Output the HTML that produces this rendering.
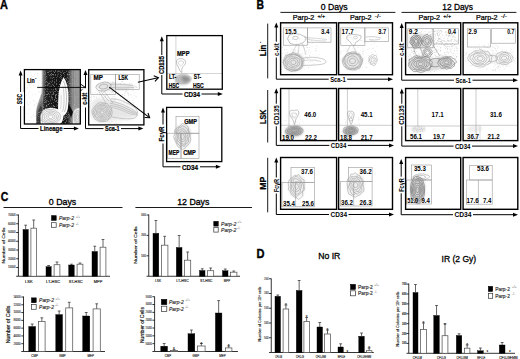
<!DOCTYPE html><html><head><meta charset="utf-8"><style>html,body{margin:0;padding:0;background:#fff;}svg{display:block;}</style></head><body>
<svg width="520" height="359" viewBox="0 0 520 359" font-family='"Liberation Sans", sans-serif'>
<defs><filter id="b1" x="-20%" y="-20%" width="140%" height="140%"><feGaussianBlur stdDeviation="1.2"/></filter><filter id="b2" x="-20%" y="-20%" width="140%" height="140%"><feGaussianBlur stdDeviation="2.2"/></filter><filter id="b05" x="-20%" y="-20%" width="140%" height="140%"><feGaussianBlur stdDeviation="0.5"/></filter></defs>
<rect width="520" height="359" fill="#fff"/>
<text x="0.00" y="8.60" font-size="12.3" font-weight="bold" stroke="#000" stroke-width="0.37" textLength="7.90" lengthAdjust="spacingAndGlyphs" >A</text>
<clipPath id="cA1"><rect x="24.4" y="69.6" width="55.9" height="54.400000000000006"/></clipPath>
<linearGradient id="gA1" gradientUnits="userSpaceOnUse" x1="36" y1="0" x2="80.5" y2="0"><stop offset="0" stop-color="#333"/><stop offset="0.157" stop-color="#3a3a3a"/><stop offset="0.225" stop-color="#222"/><stop offset="0.45" stop-color="#151515"/><stop offset="0.61" stop-color="#181818"/><stop offset="0.70" stop-color="#1a1a1a"/><stop offset="0.753" stop-color="#383838"/><stop offset="0.79" stop-color="#858585"/><stop offset="0.876" stop-color="#a0a0a0"/><stop offset="1" stop-color="#a8a8a8"/></linearGradient>
<filter id="spk" x="0" y="0" width="100%" height="100%"><feTurbulence type="fractalNoise" baseFrequency="1.1" numOctaves="1" seed="4" result="n"/><feColorMatrix in="n" type="matrix" values="0 0 0 0 0.6  0 0 0 0 0.6  0 0 0 0 0.6  0 0 0 1.5 -0.78" result="w"/><feComposite in="w" in2="SourceGraphic" operator="in" result="wc"/><feMerge><feMergeNode in="SourceGraphic"/><feMergeNode in="wc"/></feMerge></filter>
<g clip-path="url(#cA1)">
<rect x="33.2" y="100.1" width="0.6" height="0.6" fill="#c8c8c8"/>
<rect x="40.8" y="95.2" width="0.6" height="0.6" fill="#c8c8c8"/>
<rect x="34.1" y="101.5" width="0.6" height="0.6" fill="#c8c8c8"/>
<rect x="29.0" y="97.6" width="0.6" height="0.6" fill="#c8c8c8"/>
<rect x="36.1" y="112.2" width="0.6" height="0.6" fill="#c8c8c8"/>
<rect x="27.5" y="86.8" width="0.6" height="0.6" fill="#c8c8c8"/>
<rect x="27.5" y="113.1" width="0.6" height="0.6" fill="#c8c8c8"/>
<rect x="37.1" y="73.2" width="0.6" height="0.6" fill="#c8c8c8"/>
<rect x="41.7" y="121.2" width="0.6" height="0.6" fill="#c8c8c8"/>
<rect x="36.5" y="103.0" width="0.6" height="0.6" fill="#c8c8c8"/>
<rect x="28.5" y="71.8" width="0.6" height="0.6" fill="#c8c8c8"/>
<rect x="34.5" y="74.1" width="0.6" height="0.6" fill="#c8c8c8"/>
<rect x="29.0" y="83.6" width="0.6" height="0.6" fill="#c8c8c8"/>
<rect x="26.5" y="95.1" width="0.6" height="0.6" fill="#c8c8c8"/>
<rect x="33.0" y="114.8" width="0.6" height="0.6" fill="#c8c8c8"/>
<rect x="34.3" y="104.3" width="0.6" height="0.6" fill="#c8c8c8"/>
<rect x="34.0" y="105.4" width="0.6" height="0.6" fill="#c8c8c8"/>
<rect x="33.3" y="85.5" width="0.6" height="0.6" fill="#c8c8c8"/>
<rect x="42.0" y="122.8" width="0.6" height="0.6" fill="#c8c8c8"/>
<rect x="39.4" y="107.8" width="0.6" height="0.6" fill="#c8c8c8"/>
<rect x="31.0" y="82.9" width="0.6" height="0.6" fill="#c8c8c8"/>
<rect x="30.6" y="74.7" width="0.6" height="0.6" fill="#c8c8c8"/>
<rect x="38.3" y="91.8" width="0.6" height="0.6" fill="#c8c8c8"/>
<rect x="39.5" y="91.1" width="0.6" height="0.6" fill="#c8c8c8"/>
<rect x="41.3" y="115.1" width="0.6" height="0.6" fill="#c8c8c8"/>
<rect x="26.0" y="81.9" width="0.6" height="0.6" fill="#c8c8c8"/>
<rect x="40.6" y="95.4" width="0.6" height="0.6" fill="#c8c8c8"/>
<rect x="41.7" y="91.7" width="0.6" height="0.6" fill="#c8c8c8"/>
<rect x="27.2" y="103.7" width="0.6" height="0.6" fill="#c8c8c8"/>
<rect x="38.5" y="85.0" width="0.6" height="0.6" fill="#c8c8c8"/>
<rect x="27.4" y="88.3" width="0.6" height="0.6" fill="#c8c8c8"/>
<rect x="41.4" y="110.4" width="0.6" height="0.6" fill="#c8c8c8"/>
<rect x="27.9" y="83.8" width="0.6" height="0.6" fill="#c8c8c8"/>
<rect x="27.6" y="74.1" width="0.6" height="0.6" fill="#c8c8c8"/>
<rect x="38.8" y="80.2" width="0.6" height="0.6" fill="#c8c8c8"/>
<rect x="34.9" y="94.3" width="0.6" height="0.6" fill="#c8c8c8"/>
<rect x="29.1" y="109.1" width="0.6" height="0.6" fill="#c8c8c8"/>
<rect x="28.1" y="104.5" width="0.6" height="0.6" fill="#c8c8c8"/>
<rect x="27.9" y="92.9" width="0.6" height="0.6" fill="#c8c8c8"/>
<rect x="29.4" y="85.0" width="0.6" height="0.6" fill="#c8c8c8"/>
<rect x="41.5" y="112.8" width="0.6" height="0.6" fill="#c8c8c8"/>
<rect x="30.9" y="117.0" width="0.6" height="0.6" fill="#c8c8c8"/>
<rect x="29.4" y="91.5" width="0.6" height="0.6" fill="#c8c8c8"/>
<rect x="39.7" y="104.4" width="0.6" height="0.6" fill="#c8c8c8"/>
<rect x="27.6" y="122.4" width="0.6" height="0.6" fill="#c8c8c8"/>
<rect x="29.4" y="84.4" width="0.6" height="0.6" fill="#c8c8c8"/>
<rect x="38.4" y="88.1" width="0.6" height="0.6" fill="#c8c8c8"/>
<rect x="30.7" y="74.8" width="0.6" height="0.6" fill="#c8c8c8"/>
<rect x="27.4" y="101.3" width="0.6" height="0.6" fill="#c8c8c8"/>
<rect x="29.9" y="102.3" width="0.6" height="0.6" fill="#c8c8c8"/>
<rect x="31.9" y="94.6" width="0.6" height="0.6" fill="#c8c8c8"/>
<rect x="41.3" y="96.2" width="0.6" height="0.6" fill="#c8c8c8"/>
<rect x="35.2" y="116.1" width="0.6" height="0.6" fill="#c8c8c8"/>
<rect x="28.9" y="79.0" width="0.6" height="0.6" fill="#c8c8c8"/>
<rect x="40.5" y="113.5" width="0.6" height="0.6" fill="#c8c8c8"/>
<rect x="30.0" y="80.9" width="0.6" height="0.6" fill="#c8c8c8"/>
<rect x="37.8" y="119.9" width="0.6" height="0.6" fill="#c8c8c8"/>
<rect x="29.1" y="120.4" width="0.6" height="0.6" fill="#c8c8c8"/>
<rect x="40.1" y="102.4" width="0.6" height="0.6" fill="#c8c8c8"/>
<rect x="32.7" y="76.4" width="0.6" height="0.6" fill="#c8c8c8"/>
<g filter="url(#spk)"><path d="M43.5,69 L81,69 L81,125 L36,125 L36,116 C36.5,110 39,105 42,100 C43,94 43,85 43.5,69 Z" fill="url(#gA1)" filter="url(#b1)"/></g>
<path d="M42.4,69 L46,69 C46,85 45,95 43,101 C41,104 39,108 38,112 L36.5,112 C37,104 40,98 42.4,92 Z" fill="#666" opacity="0.6" filter="url(#b05)"/>
<path d="M71.2,70 L71.4,108 M73.6,70 L73.2,106 M75.8,70 L76.2,107 M78.2,70 L78,108" fill="none" stroke="#6a6a6a" stroke-width="0.5" opacity="0.8"/>
<path d="M67,100 C66,106 64,110 61,113 L60,118 C62,117 65,114 67.5,110 C69,112 70,115 71,118 L73,112 C71,108 69,104 67,100 Z" fill="#111" filter="url(#b05)"/>
<path d="M63.6,77.5 C65.6,79.5 67.4,85 68.2,91 C68.8,97 68.6,104 67.8,109 C67,112.5 65.4,115 63,116 L58,112 C58.2,106 58,100 58.6,94 C59.2,87 61.4,80.5 63.6,77.5 Z" fill="#fafafa" filter="url(#b05)"/>
<path d="M63.4,81 C65,84 66.2,90 66.5,97 C66.7,103 66,108 64.5,112" fill="none" stroke="#8a8a8a" stroke-width="0.5"/>
<path d="M62.8,86 C63.8,90 64.2,96 64,103 C63.8,107 63.2,110 62,112" fill="none" stroke="#9a9a9a" stroke-width="0.45"/>
<path d="M61,95 C61.3,100 61.2,105 60.5,109" fill="none" stroke="#aaa" stroke-width="0.4"/>
<path d="M40.5,118 C40,113 43,109 49,108 C54,107.5 58,108.5 61,111 C63.5,113 64,116 63,119 C62.5,122 61,124 58,125 L41,125 C40.5,123 40.6,120 40.5,118 Z" fill="#fafafa" filter="url(#b05)"/>
<path d="M60.19,116.80 L60.21,118.67 L59.03,120.34 L57.66,121.95 L55.58,123.13 L52.95,123.39 L50.50,123.58 L47.81,124.04 L45.64,122.86 L43.65,121.73 L41.32,120.61 L40.88,118.66 L40.10,116.80 L40.87,114.94 L41.70,113.14 L43.73,111.92 L45.42,110.46 L47.80,109.54 L50.50,109.58 L53.16,109.64 L55.60,110.44 L57.20,111.98 L59.43,113.09 L60.26,114.92 Z" fill="none" stroke="#8a8a8a" stroke-width="0.45" stroke-linejoin="round"/>
<path d="M58.42,116.80 L57.90,118.23 L57.83,119.85 L56.22,120.92 L54.66,121.99 L52.70,122.70 L50.50,122.79 L48.29,122.73 L46.49,121.80 L44.56,121.08 L43.52,119.70 L42.25,118.39 L42.02,116.80 L43.04,115.36 L43.78,114.01 L44.96,112.81 L46.22,111.46 L48.42,111.20 L50.50,110.87 L52.55,111.29 L54.56,111.74 L56.16,112.73 L57.40,113.93 L58.42,115.27 Z" fill="none" stroke="#8a8a8a" stroke-width="0.45" stroke-linejoin="round"/>
<path d="M56.79,116.80 L56.81,118.02 L56.01,119.09 L55.13,120.13 L53.75,120.85 L52.21,121.39 L50.50,121.38 L48.95,120.96 L47.25,120.85 L45.85,120.15 L44.85,119.15 L44.44,117.97 L44.11,116.80 L44.69,115.68 L44.89,114.47 L46.06,113.60 L47.47,113.02 L48.97,112.70 L50.50,112.13 L52.21,112.22 L53.46,113.11 L55.06,113.52 L55.83,114.58 L56.26,115.69 Z" fill="none" stroke="#8a8a8a" stroke-width="0.45" stroke-linejoin="round"/>
<path d="M54.73,116.80 L54.83,117.63 L54.43,118.43 L53.40,118.89 L52.70,119.54 L51.56,119.65 L50.50,120.01 L49.40,119.76 L48.23,119.63 L47.25,119.14 L46.74,118.36 L46.06,117.66 L46.26,116.80 L46.52,116.03 L46.70,115.22 L47.60,114.71 L48.41,114.19 L49.39,113.82 L50.50,113.63 L51.58,113.91 L52.55,114.24 L53.70,114.49 L54.17,115.27 L54.92,115.95 Z" fill="none" stroke="#8a8a8a" stroke-width="0.45" stroke-linejoin="round"/>
<path d="M53.07,116.80 L52.83,117.25 L52.61,117.68 L52.24,118.05 L51.75,118.36 L51.14,118.53 L50.50,118.58 L49.86,118.53 L49.21,118.41 L48.76,118.05 L48.39,117.68 L48.07,117.27 L48.12,116.80 L48.19,116.35 L48.25,115.87 L48.76,115.55 L49.27,115.26 L49.90,115.19 L50.50,115.05 L51.14,115.08 L51.66,115.36 L52.26,115.53 L52.66,115.90 L52.74,116.37 Z" fill="none" stroke="#8a8a8a" stroke-width="0.45" stroke-linejoin="round"/>
<path d="M73.5,112 C74.5,108.5 78,107.5 80.5,108 L80.5,125 L73,125 C72.6,121 72.8,115 73.5,112 Z" fill="#e8e8e8" filter="url(#b05)"/>
<ellipse cx="77.50" cy="117.00" rx="3.60" ry="6.40" fill="none" stroke="#888" stroke-width="0.4" />
<ellipse cx="77.50" cy="117.00" rx="2.51" ry="4.46" fill="none" stroke="#888" stroke-width="0.4" />
<ellipse cx="77.50" cy="117.00" rx="1.42" ry="2.52" fill="none" stroke="#888" stroke-width="0.4" />
</g>
<line x1="42.40" y1="69.60" x2="42.40" y2="124.00" stroke="#aaa" stroke-width="0.5" />
<rect x="24.40" y="69.60" width="55.90" height="54.40" fill="none" stroke="#000" stroke-width="1.3" />
<text x="26.90" y="82.70" font-size="7.0" font-weight="bold" stroke="#000" stroke-width="0.21" textLength="7.80" lengthAdjust="spacingAndGlyphs" >Lin</text>
<text x="34.90" y="79.80" font-size="4.5" font-weight="bold" >-</text>
<line x1="37.20" y1="87.40" x2="85.00" y2="87.40" stroke="#000" stroke-width="0.9" />
<path d="M80.2,83.8 L85.3,87.4 L80.2,91.0" fill="none" stroke="#000" stroke-width="0.9"/>
<line x1="20.60" y1="128.50" x2="20.60" y2="75.10" stroke="#000" stroke-width="1.0" />
<path d="M18.60,75.60 L20.60,70.60 L22.60,75.60 Z" fill="#000"/>
<line x1="20.60" y1="128.50" x2="74.40" y2="128.50" stroke="#000" stroke-width="1.0" />
<path d="M73.90,126.50 L78.90,128.50 L73.90,130.50 Z" fill="#000"/>
<rect x="17.00" y="92.00" width="7.00" height="14.00" fill="#fff"/>
<text x="22.40" y="99.00" font-size="6.4" font-weight="bold" stroke="#000" stroke-width="0.19" text-anchor="middle" textLength="10.50" lengthAdjust="spacingAndGlyphs" transform="rotate(-90 22.40 99.00)" >SSC</text>
<rect x="38.50" y="125.50" width="25.00" height="7.00" fill="#fff"/>
<text x="40.00" y="131.00" font-size="6.4" font-weight="bold" stroke="#000" stroke-width="0.19" textLength="22.50" lengthAdjust="spacingAndGlyphs" >Lineage</text>
<clipPath id="cA2"><rect x="88.7" y="69.7" width="55.2" height="55.2"/></clipPath>
<g clip-path="url(#cA2)">
<path d="M91.4,95.7h0.55v0.55h-0.55zM125.6,111.1h0.55v0.55h-0.55zM111.5,113.7h0.55v0.55h-0.55zM110.6,118.3h0.55v0.55h-0.55zM118.5,87.9h0.55v0.55h-0.55zM116.3,102.0h0.55v0.55h-0.55zM114.8,91.0h0.55v0.55h-0.55zM122.8,89.9h0.55v0.55h-0.55zM103.0,92.1h0.55v0.55h-0.55zM101.3,89.6h0.55v0.55h-0.55zM125.7,110.0h0.55v0.55h-0.55zM89.5,106.2h0.55v0.55h-0.55zM91.9,109.0h0.55v0.55h-0.55zM108.4,104.6h0.55v0.55h-0.55zM126.1,114.7h0.55v0.55h-0.55zM122.1,94.3h0.55v0.55h-0.55zM92.7,106.5h0.55v0.55h-0.55zM114.7,119.5h0.55v0.55h-0.55zM132.1,89.9h0.55v0.55h-0.55zM108.6,111.8h0.55v0.55h-0.55zM108.9,122.6h0.55v0.55h-0.55zM88.7,99.4h0.55v0.55h-0.55zM113.3,92.6h0.55v0.55h-0.55zM117.6,95.4h0.55v0.55h-0.55zM122.8,96.4h0.55v0.55h-0.55zM97.6,106.7h0.55v0.55h-0.55zM126.6,102.6h0.55v0.55h-0.55zM117.6,106.0h0.55v0.55h-0.55zM114.2,82.3h0.55v0.55h-0.55zM106.6,118.7h0.55v0.55h-0.55zM113.6,114.9h0.55v0.55h-0.55zM124.4,102.5h0.55v0.55h-0.55zM112.7,101.4h0.55v0.55h-0.55zM131.5,96.9h0.55v0.55h-0.55zM127.4,99.3h0.55v0.55h-0.55zM96.1,116.3h0.55v0.55h-0.55zM93.6,96.1h0.55v0.55h-0.55zM132.3,100.2h0.55v0.55h-0.55zM136.2,96.3h0.55v0.55h-0.55zM103.3,110.8h0.55v0.55h-0.55zM90.5,107.2h0.55v0.55h-0.55zM95.7,89.8h0.55v0.55h-0.55zM125.8,92.0h0.55v0.55h-0.55zM118.0,109.0h0.55v0.55h-0.55zM114.6,107.3h0.55v0.55h-0.55zM115.2,98.3h0.55v0.55h-0.55zM96.3,96.8h0.55v0.55h-0.55zM120.0,95.1h0.55v0.55h-0.55zM127.8,111.1h0.55v0.55h-0.55zM130.3,104.5h0.55v0.55h-0.55zM94.7,104.2h0.55v0.55h-0.55zM115.5,111.7h0.55v0.55h-0.55zM111.8,121.1h0.55v0.55h-0.55zM123.3,97.8h0.55v0.55h-0.55zM123.2,110.0h0.55v0.55h-0.55zM114.5,85.5h0.55v0.55h-0.55zM93.0,102.4h0.55v0.55h-0.55zM93.4,94.4h0.55v0.55h-0.55zM115.6,115.8h0.55v0.55h-0.55zM104.6,91.2h0.55v0.55h-0.55zM97.4,93.1h0.55v0.55h-0.55zM130.8,94.5h0.55v0.55h-0.55zM122.5,114.1h0.55v0.55h-0.55zM122.7,100.2h0.55v0.55h-0.55zM103.7,104.1h0.55v0.55h-0.55zM106.0,94.9h0.55v0.55h-0.55zM106.6,84.4h0.55v0.55h-0.55zM118.2,98.8h0.55v0.55h-0.55zM91.0,96.2h0.55v0.55h-0.55zM91.2,103.0h0.55v0.55h-0.55zM115.5,122.8h0.55v0.55h-0.55zM95.6,106.0h0.55v0.55h-0.55zM127.6,92.2h0.55v0.55h-0.55zM110.6,106.5h0.55v0.55h-0.55zM93.6,100.8h0.55v0.55h-0.55zM121.5,113.0h0.55v0.55h-0.55zM103.7,92.0h0.55v0.55h-0.55zM121.8,96.6h0.55v0.55h-0.55zM133.7,95.3h0.55v0.55h-0.55zM131.3,111.4h0.55v0.55h-0.55zM107.3,112.0h0.55v0.55h-0.55zM133.0,112.3h0.55v0.55h-0.55zM102.1,86.9h0.55v0.55h-0.55zM117.7,114.0h0.55v0.55h-0.55zM118.6,91.8h0.55v0.55h-0.55zM120.7,111.7h0.55v0.55h-0.55zM107.6,111.2h0.55v0.55h-0.55zM121.6,122.4h0.55v0.55h-0.55zM124.3,87.7h0.55v0.55h-0.55zM96.2,97.7h0.55v0.55h-0.55zM118.7,106.5h0.55v0.55h-0.55zM108.8,118.0h0.55v0.55h-0.55zM114.2,107.1h0.55v0.55h-0.55zM123.1,117.2h0.55v0.55h-0.55zM111.5,116.9h0.55v0.55h-0.55zM132.6,104.7h0.55v0.55h-0.55zM95.4,108.9h0.55v0.55h-0.55zM130.5,113.5h0.55v0.55h-0.55zM111.2,92.0h0.55v0.55h-0.55zM104.1,113.4h0.55v0.55h-0.55zM126.4,106.0h0.55v0.55h-0.55zM133.8,111.8h0.55v0.55h-0.55zM95.9,98.8h0.55v0.55h-0.55zM109.2,93.4h0.55v0.55h-0.55zM106.2,94.2h0.55v0.55h-0.55zM104.0,83.9h0.55v0.55h-0.55zM120.3,83.0h0.55v0.55h-0.55zM107.3,106.6h0.55v0.55h-0.55zM121.9,117.9h0.55v0.55h-0.55zM113.7,118.7h0.55v0.55h-0.55zM105.0,95.7h0.55v0.55h-0.55zM91.5,98.5h0.55v0.55h-0.55zM100.3,102.8h0.55v0.55h-0.55zM126.7,91.0h0.55v0.55h-0.55zM102.8,91.7h0.55v0.55h-0.55zM112.8,103.5h0.55v0.55h-0.55zM124.2,108.0h0.55v0.55h-0.55zM90.0,106.7h0.55v0.55h-0.55zM89.5,100.0h0.55v0.55h-0.55zM90.8,97.3h0.55v0.55h-0.55zM95.6,111.4h0.55v0.55h-0.55zM108.4,114.4h0.55v0.55h-0.55zM92.0,92.4h0.55v0.55h-0.55zM112.7,101.9h0.55v0.55h-0.55zM93.5,108.4h0.55v0.55h-0.55zM115.7,117.4h0.55v0.55h-0.55zM101.6,109.0h0.55v0.55h-0.55zM111.5,83.4h0.55v0.55h-0.55zM118.3,93.1h0.55v0.55h-0.55zM99.5,108.5h0.55v0.55h-0.55zM119.5,119.6h0.55v0.55h-0.55zM104.5,115.0h0.55v0.55h-0.55zM112.3,91.1h0.55v0.55h-0.55zM128.5,103.0h0.55v0.55h-0.55zM126.7,119.9h0.55v0.55h-0.55zM108.7,123.6h0.55v0.55h-0.55zM125.1,112.0h0.55v0.55h-0.55zM115.8,115.0h0.55v0.55h-0.55zM128.6,119.4h0.55v0.55h-0.55zM122.1,118.5h0.55v0.55h-0.55zM133.6,98.7h0.55v0.55h-0.55zM90.3,97.5h0.55v0.55h-0.55zM130.6,109.2h0.55v0.55h-0.55zM95.1,92.0h0.55v0.55h-0.55zM108.1,84.0h0.55v0.55h-0.55zM123.5,102.8h0.55v0.55h-0.55zM109.9,89.2h0.55v0.55h-0.55zM126.1,89.5h0.55v0.55h-0.55zM113.9,85.0h0.55v0.55h-0.55zM133.4,102.9h0.55v0.55h-0.55zM114.9,109.5h0.55v0.55h-0.55zM108.6,107.1h0.55v0.55h-0.55zM110.8,85.3h0.55v0.55h-0.55zM93.4,105.2h0.55v0.55h-0.55zM108.6,104.3h0.55v0.55h-0.55zM121.8,113.7h0.55v0.55h-0.55zM118.0,105.2h0.55v0.55h-0.55zM106.4,94.5h0.55v0.55h-0.55zM120.9,84.0h0.55v0.55h-0.55zM127.9,95.6h0.55v0.55h-0.55zM106.0,99.3h0.55v0.55h-0.55zM125.9,90.7h0.55v0.55h-0.55zM116.0,85.1h0.55v0.55h-0.55zM125.4,91.4h0.55v0.55h-0.55zM127.7,93.1h0.55v0.55h-0.55zM113.2,82.2h0.55v0.55h-0.55zM98.1,99.4h0.55v0.55h-0.55zM89.2,101.3h0.55v0.55h-0.55zM94.1,96.5h0.55v0.55h-0.55zM90.6,100.9h0.55v0.55h-0.55zM107.5,99.8h0.55v0.55h-0.55zM116.7,87.0h0.55v0.55h-0.55zM133.2,91.0h0.55v0.55h-0.55zM129.3,100.3h0.55v0.55h-0.55zM137.3,106.4h0.55v0.55h-0.55zM123.8,111.8h0.55v0.55h-0.55zM134.2,93.2h0.55v0.55h-0.55zM112.1,96.8h0.55v0.55h-0.55zM97.8,108.7h0.55v0.55h-0.55zM113.5,117.5h0.55v0.55h-0.55zM96.8,105.0h0.55v0.55h-0.55zM114.3,84.2h0.55v0.55h-0.55zM132.8,102.4h0.55v0.55h-0.55zM105.1,96.5h0.55v0.55h-0.55zM101.1,94.9h0.55v0.55h-0.55zM120.8,102.0h0.55v0.55h-0.55zM120.9,108.8h0.55v0.55h-0.55zM122.7,94.0h0.55v0.55h-0.55zM104.0,105.5h0.55v0.55h-0.55zM105.6,115.0h0.55v0.55h-0.55zM116.0,107.8h0.55v0.55h-0.55zM114.7,117.3h0.55v0.55h-0.55zM104.8,118.3h0.55v0.55h-0.55zM100.4,85.3h0.55v0.55h-0.55zM122.9,111.1h0.55v0.55h-0.55zM109.9,117.9h0.55v0.55h-0.55zM108.4,89.2h0.55v0.55h-0.55zM100.2,92.8h0.55v0.55h-0.55zM102.6,111.2h0.55v0.55h-0.55zM115.8,105.0h0.55v0.55h-0.55zM111.7,101.6h0.55v0.55h-0.55zM106.3,105.1h0.55v0.55h-0.55zM120.8,86.5h0.55v0.55h-0.55zM114.5,99.6h0.55v0.55h-0.55zM95.7,112.2h0.55v0.55h-0.55zM115.5,108.9h0.55v0.55h-0.55zM114.1,123.5h0.55v0.55h-0.55zM104.7,96.0h0.55v0.55h-0.55zM114.9,106.0h0.55v0.55h-0.55zM90.7,94.3h0.55v0.55h-0.55zM123.9,115.9h0.55v0.55h-0.55zM109.2,90.0h0.55v0.55h-0.55zM108.2,118.6h0.55v0.55h-0.55zM120.0,96.0h0.55v0.55h-0.55zM104.3,105.4h0.55v0.55h-0.55zM110.2,83.3h0.55v0.55h-0.55zM124.1,95.4h0.55v0.55h-0.55zM105.3,97.3h0.55v0.55h-0.55zM105.3,88.0h0.55v0.55h-0.55zM103.5,111.9h0.55v0.55h-0.55zM126.5,88.8h0.55v0.55h-0.55zM114.4,91.5h0.55v0.55h-0.55zM111.6,87.2h0.55v0.55h-0.55zM127.7,90.3h0.55v0.55h-0.55zM120.5,107.3h0.55v0.55h-0.55zM102.4,120.6h0.55v0.55h-0.55zM117.0,105.2h0.55v0.55h-0.55zM89.6,103.6h0.55v0.55h-0.55zM97.7,101.3h0.55v0.55h-0.55zM128.0,94.8h0.55v0.55h-0.55zM106.9,90.8h0.55v0.55h-0.55zM94.1,100.0h0.55v0.55h-0.55zM106.9,91.7h0.55v0.55h-0.55zM127.4,113.4h0.55v0.55h-0.55zM118.7,93.3h0.55v0.55h-0.55zM127.1,104.5h0.55v0.55h-0.55zM120.3,119.6h0.55v0.55h-0.55zM106.8,106.4h0.55v0.55h-0.55zM103.5,97.1h0.55v0.55h-0.55zM124.1,93.3h0.55v0.55h-0.55zM120.2,118.2h0.55v0.55h-0.55zM101.3,116.3h0.55v0.55h-0.55zM122.8,119.1h0.55v0.55h-0.55zM116.9,123.7h0.55v0.55h-0.55zM125.5,119.8h0.55v0.55h-0.55zM122.6,119.6h0.55v0.55h-0.55zM98.9,115.0h0.55v0.55h-0.55zM90.8,111.2h0.55v0.55h-0.55zM120.6,85.6h0.55v0.55h-0.55zM90.1,101.1h0.55v0.55h-0.55zM120.1,99.0h0.55v0.55h-0.55zM133.0,114.8h0.55v0.55h-0.55zM106.7,110.9h0.55v0.55h-0.55zM121.6,95.1h0.55v0.55h-0.55zM91.1,100.4h0.55v0.55h-0.55zM101.2,104.1h0.55v0.55h-0.55zM103.8,118.1h0.55v0.55h-0.55zM114.2,99.6h0.55v0.55h-0.55zM113.7,99.6h0.55v0.55h-0.55zM121.0,85.7h0.55v0.55h-0.55zM125.9,103.0h0.55v0.55h-0.55zM113.7,96.3h0.55v0.55h-0.55zM119.4,87.9h0.55v0.55h-0.55zM129.4,110.5h0.55v0.55h-0.55zM120.0,95.3h0.55v0.55h-0.55zM107.4,121.5h0.55v0.55h-0.55zM114.2,96.4h0.55v0.55h-0.55zM119.2,111.2h0.55v0.55h-0.55zM116.3,118.1h0.55v0.55h-0.55zM130.2,94.6h0.55v0.55h-0.55zM99.4,102.2h0.55v0.55h-0.55zM90.3,104.8h0.55v0.55h-0.55zM95.6,113.2h0.55v0.55h-0.55zM123.7,100.5h0.55v0.55h-0.55zM111.3,122.3h0.55v0.55h-0.55zM121.7,108.2h0.55v0.55h-0.55zM110.7,119.7h0.55v0.55h-0.55zM90.9,103.8h0.55v0.55h-0.55zM123.4,114.0h0.55v0.55h-0.55zM117.2,116.7h0.55v0.55h-0.55zM97.5,105.8h0.55v0.55h-0.55zM126.3,87.9h0.55v0.55h-0.55zM99.8,109.2h0.55v0.55h-0.55zM128.3,93.0h0.55v0.55h-0.55zM114.6,102.2h0.55v0.55h-0.55zM100.7,115.1h0.55v0.55h-0.55zM135.5,95.9h0.55v0.55h-0.55zM137.9,101.7h0.55v0.55h-0.55zM111.0,101.8h0.55v0.55h-0.55zM126.5,99.6h0.55v0.55h-0.55zM124.5,97.5h0.55v0.55h-0.55zM104.8,119.1h0.55v0.55h-0.55zM108.5,121.1h0.55v0.55h-0.55zM91.7,113.6h0.55v0.55h-0.55zM109.8,91.6h0.55v0.55h-0.55zM101.4,87.0h0.55v0.55h-0.55zM110.4,110.1h0.55v0.55h-0.55zM115.6,99.3h0.55v0.55h-0.55zM101.7,120.4h0.55v0.55h-0.55zM93.1,106.2h0.55v0.55h-0.55zM107.6,86.2h0.55v0.55h-0.55zM106.2,87.1h0.55v0.55h-0.55zM116.6,123.0h0.55v0.55h-0.55zM110.4,83.0h0.55v0.55h-0.55zM107.0,113.8h0.55v0.55h-0.55zM100.3,102.8h0.55v0.55h-0.55zM110.4,109.7h0.55v0.55h-0.55zM97.3,113.3h0.55v0.55h-0.55zM112.0,92.4h0.55v0.55h-0.55zM118.4,111.9h0.55v0.55h-0.55zM118.2,109.8h0.55v0.55h-0.55zM124.0,106.5h0.55v0.55h-0.55zM106.5,105.0h0.55v0.55h-0.55zM96.2,100.0h0.55v0.55h-0.55zM109.6,109.4h0.55v0.55h-0.55zM133.0,105.3h0.55v0.55h-0.55zM109.9,112.5h0.55v0.55h-0.55zM110.9,92.7h0.55v0.55h-0.55zM127.0,107.1h0.55v0.55h-0.55zM124.5,94.9h0.55v0.55h-0.55zM112.6,94.1h0.55v0.55h-0.55zM90.6,99.5h0.55v0.55h-0.55zM111.8,91.1h0.55v0.55h-0.55zM96.3,90.8h0.55v0.55h-0.55zM112.7,82.0h0.55v0.55h-0.55zM98.7,117.2h0.55v0.55h-0.55zM101.6,113.9h0.55v0.55h-0.55zM132.6,102.4h0.55v0.55h-0.55zM103.1,107.3h0.55v0.55h-0.55zM99.7,85.4h0.55v0.55h-0.55z" fill="#c4c4c4"/>
<path d="M128.6,87.4h0.55v0.55h-0.55zM114.4,83.0h0.55v0.55h-0.55zM115.1,89.5h0.55v0.55h-0.55zM99.4,86.3h0.55v0.55h-0.55zM106.1,85.9h0.55v0.55h-0.55zM122.5,89.6h0.55v0.55h-0.55zM118.9,89.7h0.55v0.55h-0.55zM111.1,82.3h0.55v0.55h-0.55zM116.6,88.2h0.55v0.55h-0.55zM107.9,83.5h0.55v0.55h-0.55zM116.9,89.6h0.55v0.55h-0.55zM108.4,82.8h0.55v0.55h-0.55zM103.1,83.2h0.55v0.55h-0.55zM129.6,83.0h0.55v0.55h-0.55zM124.0,82.9h0.55v0.55h-0.55zM109.7,89.7h0.55v0.55h-0.55zM112.0,81.6h0.55v0.55h-0.55zM105.8,84.8h0.55v0.55h-0.55zM118.8,86.7h0.55v0.55h-0.55zM112.0,82.6h0.55v0.55h-0.55zM120.2,84.5h0.55v0.55h-0.55zM111.8,90.7h0.55v0.55h-0.55zM121.5,81.2h0.55v0.55h-0.55zM113.6,90.8h0.55v0.55h-0.55zM104.8,89.6h0.55v0.55h-0.55zM125.1,90.6h0.55v0.55h-0.55zM110.1,87.5h0.55v0.55h-0.55zM105.4,86.6h0.55v0.55h-0.55zM124.0,85.7h0.55v0.55h-0.55zM122.2,81.3h0.55v0.55h-0.55zM102.0,86.7h0.55v0.55h-0.55zM100.5,87.5h0.55v0.55h-0.55zM136.4,86.0h0.55v0.55h-0.55zM125.3,88.9h0.55v0.55h-0.55zM106.2,85.7h0.55v0.55h-0.55zM99.5,86.4h0.55v0.55h-0.55zM128.2,86.0h0.55v0.55h-0.55zM129.4,83.3h0.55v0.55h-0.55zM124.6,85.7h0.55v0.55h-0.55zM122.1,81.7h0.55v0.55h-0.55zM116.2,87.2h0.55v0.55h-0.55zM107.4,86.5h0.55v0.55h-0.55zM98.8,85.2h0.55v0.55h-0.55zM135.6,87.5h0.55v0.55h-0.55zM118.2,89.7h0.55v0.55h-0.55zM125.7,86.1h0.55v0.55h-0.55zM113.0,89.7h0.55v0.55h-0.55zM120.6,85.9h0.55v0.55h-0.55zM112.9,82.5h0.55v0.55h-0.55zM105.6,87.0h0.55v0.55h-0.55zM119.5,88.7h0.55v0.55h-0.55zM116.0,84.8h0.55v0.55h-0.55zM120.2,83.5h0.55v0.55h-0.55zM136.5,87.4h0.55v0.55h-0.55zM110.0,85.9h0.55v0.55h-0.55zM126.0,89.8h0.55v0.55h-0.55zM130.3,84.7h0.55v0.55h-0.55zM114.7,85.7h0.55v0.55h-0.55zM100.1,86.9h0.55v0.55h-0.55zM120.1,88.9h0.55v0.55h-0.55zM127.5,86.8h0.55v0.55h-0.55zM125.3,87.3h0.55v0.55h-0.55zM105.8,83.0h0.55v0.55h-0.55zM115.7,88.0h0.55v0.55h-0.55zM125.7,89.1h0.55v0.55h-0.55zM109.6,83.0h0.55v0.55h-0.55zM128.7,85.1h0.55v0.55h-0.55zM100.0,86.7h0.55v0.55h-0.55zM112.7,87.8h0.55v0.55h-0.55zM103.0,83.8h0.55v0.55h-0.55zM120.1,84.3h0.55v0.55h-0.55zM125.8,83.6h0.55v0.55h-0.55zM128.0,87.6h0.55v0.55h-0.55zM114.5,88.0h0.55v0.55h-0.55zM111.9,90.2h0.55v0.55h-0.55zM127.7,83.9h0.55v0.55h-0.55zM132.0,87.3h0.55v0.55h-0.55zM132.6,88.1h0.55v0.55h-0.55zM134.6,86.4h0.55v0.55h-0.55zM111.8,88.4h0.55v0.55h-0.55zM135.1,86.2h0.55v0.55h-0.55zM126.6,87.0h0.55v0.55h-0.55zM111.3,83.0h0.55v0.55h-0.55zM122.9,82.7h0.55v0.55h-0.55zM115.9,88.8h0.55v0.55h-0.55zM113.2,85.3h0.55v0.55h-0.55zM136.6,86.9h0.55v0.55h-0.55zM119.6,82.9h0.55v0.55h-0.55zM128.0,84.7h0.55v0.55h-0.55zM131.3,83.2h0.55v0.55h-0.55z" fill="#bdbdbd"/>
<path d="M92,104 C94,98 104,97 112,100 C120,103 128,106 135,110 C139,114 136,119 128,119 C120,119 115,120 111,121 C104,124 94,122 91,116 Z" fill="#e6e6e6" filter="url(#b2)"/>
<path d="M96,86 C100,82 110,82 116,84 C124,85 132,84 136,86 C135,89 126,89 118,90 C112,91 100,92 96,86 Z" fill="#e4e4e4" filter="url(#b1)"/>
<path d="M112.22,112.50 L111.71,114.90 L111.17,117.37 L109.10,119.00 L107.32,120.84 L104.80,121.65 L102.20,121.68 L99.56,121.78 L97.34,120.43 L95.04,119.24 L93.75,117.09 L92.75,114.88 L92.08,112.50 L92.03,109.93 L93.70,107.88 L95.19,105.90 L97.04,104.08 L99.44,102.81 L102.20,102.83 L104.81,103.32 L107.54,103.79 L109.09,106.02 L111.35,107.53 L111.85,110.07 Z" fill="none" stroke="#8a8a8a" stroke-width="0.45" stroke-linejoin="round"/>
<path d="M110.69,112.50 L110.38,114.56 L109.68,116.56 L108.62,118.54 L106.46,119.45 L104.50,120.57 L102.20,120.90 L99.95,120.40 L97.78,119.71 L96.25,118.10 L94.91,116.46 L93.95,114.58 L93.24,112.50 L93.76,110.37 L94.72,108.43 L95.92,106.59 L97.82,105.36 L99.97,104.66 L102.20,103.97 L104.52,104.34 L106.49,105.51 L108.47,106.60 L109.84,108.35 L111.02,110.28 Z" fill="none" stroke="#8a8a8a" stroke-width="0.45" stroke-linejoin="round"/>
<path d="M109.78,112.50 L109.20,114.27 L108.92,116.15 L107.24,117.24 L105.87,118.49 L104.17,119.41 L102.20,119.23 L100.29,119.22 L98.67,118.26 L96.88,117.51 L95.62,116.08 L94.99,114.32 L94.52,112.50 L95.18,110.73 L95.66,108.95 L96.91,107.53 L98.47,106.42 L100.29,105.80 L102.20,105.29 L104.20,105.47 L105.89,106.48 L107.52,107.49 L108.33,109.17 L109.50,110.66 Z" fill="none" stroke="#8a8a8a" stroke-width="0.45" stroke-linejoin="round"/>
<path d="M108.30,112.50 L108.29,114.04 L107.57,115.42 L106.36,116.41 L105.17,117.34 L103.78,118.05 L102.20,117.88 L100.65,117.94 L99.30,117.23 L98.11,116.35 L97.23,115.20 L96.24,114.00 L96.41,112.50 L96.54,111.07 L97.05,109.70 L97.79,108.35 L99.32,107.81 L100.65,107.07 L102.20,106.82 L103.81,106.83 L105.30,107.45 L106.60,108.36 L107.29,109.74 L107.95,111.05 Z" fill="none" stroke="#8a8a8a" stroke-width="0.45" stroke-linejoin="round"/>
<path d="M106.75,112.50 L106.82,113.67 L106.38,114.77 L105.35,115.46 L104.43,116.14 L103.36,116.58 L102.20,116.72 L101.01,116.69 L99.87,116.29 L99.02,115.50 L98.40,114.56 L97.78,113.61 L97.65,112.50 L97.72,111.37 L98.03,110.23 L98.88,109.37 L99.89,108.74 L100.99,108.26 L102.20,108.08 L103.34,108.50 L104.60,108.59 L105.55,109.35 L106.34,110.25 L106.79,111.34 Z" fill="none" stroke="#8a8a8a" stroke-width="0.45" stroke-linejoin="round"/>
<path d="M105.38,112.50 L105.27,113.27 L104.87,113.95 L104.50,114.67 L103.74,115.00 L103.00,115.30 L102.20,115.44 L101.40,115.32 L100.62,115.08 L100.03,114.54 L99.56,113.94 L99.20,113.26 L99.11,112.50 L99.14,111.73 L99.55,111.06 L99.84,110.28 L100.57,109.85 L101.40,109.68 L102.20,109.55 L103.02,109.62 L103.79,109.92 L104.39,110.44 L105.08,110.93 L105.46,111.68 Z" fill="none" stroke="#8a8a8a" stroke-width="0.45" stroke-linejoin="round"/>
<path d="M104.01,112.50 L103.95,112.94 L103.71,113.32 L103.43,113.66 L103.09,113.96 L102.66,114.11 L102.20,114.27 L101.75,114.10 L101.34,113.91 L100.86,113.76 L100.62,113.36 L100.51,112.93 L100.38,112.50 L100.53,112.08 L100.62,111.64 L100.85,111.23 L101.26,110.97 L101.72,110.82 L102.20,110.83 L102.66,110.87 L103.08,111.07 L103.52,111.26 L103.78,111.64 L104.00,112.05 Z" fill="none" stroke="#8a8a8a" stroke-width="0.45" stroke-linejoin="round"/>
<path d="M110,101.0 C116,102.0 122,104.0 128,107.0 C132,109.0 135,111.0 137,113.0" fill="none" stroke="#999" stroke-width="0.45"/>
<path d="M110,103.2 C116,104.2 122,106.2 128,109.2 C132,111.2 135,112.3 137,113.9" fill="none" stroke="#8f8f8f" stroke-width="0.45"/>
<path d="M110,105.2 C116,106.2 122,108.2 128,111.2 C132,113.2 135,113.5 137,114.7" fill="none" stroke="#999" stroke-width="0.45"/>
<path d="M110,107.0 C116,108.0 122,110.0 128,113.0 C132,115.0 135,114.6 137,115.4" fill="none" stroke="#a5a5a5" stroke-width="0.45"/>
<path d="M111,99 C117,98 126,102 134,107 C139,111 139,117 133,118.5 C126,119.5 118,118 112,117" fill="none" stroke="#999" stroke-width="0.45"/>
<path d="M110.90,85.56 L110.74,86.69 L109.99,87.78 L109.38,88.96 L107.52,89.61 L106.00,90.44 L104.12,91.03 L102.21,90.80 L100.29,90.83 L98.62,90.39 L97.65,89.49 L96.57,88.68 L95.92,87.67 L96.21,86.51 L96.62,85.35 L98.02,84.41 L99.38,83.52 L101.10,82.91 L102.90,82.34 L104.90,82.03 L106.72,82.35 L108.46,82.75 L109.56,83.60 L110.69,84.44 Z" fill="none" stroke="#7a7a7a" stroke-width="0.5" stroke-linejoin="round"/>
<path d="M107.53,86.03 L107.56,86.65 L107.37,87.30 L106.78,87.91 L105.87,88.38 L104.85,88.68 L103.83,88.95 L102.76,89.01 L101.73,88.93 L100.69,88.78 L100.14,88.26 L99.38,87.84 L99.14,87.21 L99.54,86.55 L99.74,85.92 L100.30,85.32 L101.22,84.90 L102.10,84.44 L103.15,84.10 L104.23,84.22 L105.32,84.20 L106.13,84.56 L106.99,84.87 L107.62,85.36 Z" fill="none" stroke="#7a7a7a" stroke-width="0.5" stroke-linejoin="round"/>
<path d="M110,84.5 C116,83.5 124,84.5 133,85.5 M111,87.5 C118,88 126,88 134,87.5" fill="none" stroke="#999" stroke-width="0.5"/>
<path d="M98,90 C101,95 104,99 106,104 M104,91 C108,96 110,99 113,103 M101,91 C103,95 106,98 109,101" fill="none" stroke="#a0a0a0" stroke-width="0.45"/>
</g>
<rect x="90.80" y="74.50" width="24.90" height="19.80" fill="none" stroke="#999" stroke-width="0.6" />
<rect x="115.70" y="74.50" width="23.50" height="15.10" fill="none" stroke="#999" stroke-width="0.6" />
<rect x="88.70" y="69.70" width="55.20" height="55.20" fill="none" stroke="#000" stroke-width="1.3" />
<text x="93.50" y="80.30" font-size="6.4" font-weight="bold" stroke="#000" stroke-width="0.19" textLength="9.40" lengthAdjust="spacingAndGlyphs" >MP</text>
<text x="118.40" y="80.30" font-size="6.4" font-weight="bold" stroke="#000" stroke-width="0.19" textLength="9.60" lengthAdjust="spacingAndGlyphs" >LSK</text>
<line x1="109.20" y1="87.10" x2="149.20" y2="117.40" stroke="#000" stroke-width="1.1" />
<path d="M144.61,117.43 L149.60,117.70 L147.98,112.97" fill="none" stroke="#000" stroke-width="1.1" stroke-linejoin="miter"/>
<line x1="137.90" y1="82.20" x2="158.00" y2="77.80" stroke="#000" stroke-width="1.1" />
<path d="M154.95,81.32 L158.40,77.70 L153.75,75.86" fill="none" stroke="#000" stroke-width="1.1" stroke-linejoin="miter"/>
<line x1="85.50" y1="128.60" x2="85.50" y2="74.50" stroke="#000" stroke-width="1.0" />
<path d="M83.50,75.00 L85.50,70.00 L87.50,75.00 Z" fill="#000"/>
<line x1="85.50" y1="128.60" x2="138.90" y2="128.60" stroke="#000" stroke-width="1.0" />
<path d="M138.40,126.60 L143.40,128.60 L138.40,130.60 Z" fill="#000"/>
<rect x="82.50" y="88.20" width="5.50" height="19.30" fill="#fff"/>
<text x="87.30" y="98.80" font-size="6.4" font-weight="bold" stroke="#000" stroke-width="0.19" text-anchor="middle" textLength="12.00" lengthAdjust="spacingAndGlyphs" transform="rotate(-90 87.30 98.80)" >c-kit</text>
<rect x="103.50" y="126.00" width="17.50" height="6.50" fill="#fff"/>
<text x="105.00" y="131.20" font-size="6.4" font-weight="bold" stroke="#000" stroke-width="0.19" textLength="14.60" lengthAdjust="spacingAndGlyphs" >Sca-1</text>
<clipPath id="cA3"><rect x="166.8" y="35.6" width="55.5" height="53.6"/></clipPath>
<g clip-path="url(#cA3)">
<path d="M175,77 C177,73.5 185,73.5 189,76 C192,79 191,83 186,84.5 C181,85.5 176,84 175,81 Z" fill="#c4c4c4" filter="url(#b1)"/>
<path d="M181,78 C183,75.5 188,76 190,78.5 C190.5,81 187,82.5 184,82 Z" fill="#909090" filter="url(#b1)"/>
<path d="M191.01,79.00 L190.68,80.18 L190.07,81.33 L188.68,82.18 L187.50,83.25 L185.31,83.14 L183.50,83.55 L181.46,83.68 L179.67,83.07 L177.77,82.52 L177.28,81.20 L176.46,80.16 L176.29,79.00 L176.79,77.90 L177.56,76.90 L178.18,75.74 L179.90,75.18 L181.53,74.49 L183.50,73.98 L185.63,74.12 L187.46,74.79 L188.62,75.86 L189.84,76.75 L191.32,77.71 Z" fill="none" stroke="#999" stroke-width="0.4" stroke-linejoin="round"/>
<path d="M188.45,79.00 L188.88,79.88 L187.80,80.52 L187.16,81.24 L186.14,81.81 L184.98,82.38 L183.50,82.35 L182.06,82.31 L180.97,81.69 L179.92,81.20 L178.64,80.72 L178.36,79.84 L178.04,79.00 L178.86,78.24 L179.37,77.54 L179.86,76.77 L180.99,76.33 L182.21,76.05 L183.50,75.59 L184.97,75.64 L185.97,76.38 L186.90,76.91 L187.75,77.50 L188.23,78.22 Z" fill="none" stroke="#999" stroke-width="0.4" stroke-linejoin="round"/>
<path d="M186.59,79.00 L186.29,79.46 L186.30,79.99 L185.39,80.16 L184.99,80.58 L184.21,80.62 L183.50,80.94 L182.75,80.71 L182.10,80.49 L181.38,80.30 L180.75,79.97 L180.92,79.42 L180.70,79.00 L180.42,78.49 L180.98,78.11 L181.58,77.82 L181.90,77.30 L182.67,77.09 L183.50,77.21 L184.22,77.36 L184.84,77.58 L185.69,77.66 L186.20,78.04 L186.49,78.51 Z" fill="none" stroke="#999" stroke-width="0.4" stroke-linejoin="round"/>
<path d="M176.5,62 C176,59 180,58 183,59 C186,60 186.5,63 184,65.5 C182,67 181.5,69 181.8,72.5 C180,72 179,69 178.5,67 C177,65.5 176.7,64 176.5,62 Z" fill="none" stroke="#888" stroke-width="0.5"/>
<path d="M178.3,62.3 C179,60.5 182,60.5 183.5,61.8 C184,63.5 182,65 180.5,66 C179.5,65 178.5,63.8 178.3,62.3 Z" fill="none" stroke="#999" stroke-width="0.4"/>
</g>
<line x1="175.90" y1="35.60" x2="175.90" y2="89.20" stroke="#aaa" stroke-width="0.5" />
<line x1="166.80" y1="73.50" x2="222.30" y2="73.50" stroke="#aaa" stroke-width="0.5" />
<rect x="166.80" y="35.60" width="55.50" height="53.60" fill="none" stroke="#000" stroke-width="1.3" />
<text x="177.00" y="56.20" font-size="6.4" font-weight="bold" stroke="#000" stroke-width="0.19" textLength="12.50" lengthAdjust="spacingAndGlyphs" >MPP</text>
<text x="169.00" y="79.20" font-size="6.4" font-weight="bold" stroke="#000" stroke-width="0.19" textLength="7.20" lengthAdjust="spacingAndGlyphs" >LT-</text>
<text x="168.80" y="87.80" font-size="6.4" font-weight="bold" stroke="#000" stroke-width="0.19" textLength="10.30" lengthAdjust="spacingAndGlyphs" >HSC</text>
<text x="193.70" y="79.20" font-size="6.4" font-weight="bold" stroke="#000" stroke-width="0.19" textLength="7.50" lengthAdjust="spacingAndGlyphs" >ST-</text>
<text x="193.00" y="87.80" font-size="6.4" font-weight="bold" stroke="#000" stroke-width="0.19" textLength="10.80" lengthAdjust="spacingAndGlyphs" >HSC</text>
<line x1="161.80" y1="94.00" x2="161.80" y2="40.80" stroke="#000" stroke-width="1.0" />
<path d="M159.80,41.30 L161.80,36.30 L163.80,41.30 Z" fill="#000"/>
<line x1="161.80" y1="94.00" x2="218.30" y2="94.00" stroke="#000" stroke-width="1.0" />
<path d="M217.80,92.00 L222.80,94.00 L217.80,96.00 Z" fill="#000"/>
<rect x="159.00" y="55.00" width="6.00" height="20.00" fill="#fff"/>
<text x="164.00" y="65.00" font-size="6.4" font-weight="bold" stroke="#000" stroke-width="0.19" text-anchor="middle" textLength="18.00" lengthAdjust="spacingAndGlyphs" transform="rotate(-90 164.00 65.00)" >CD135</text>
<rect x="182.50" y="91.00" width="19.00" height="7.00" fill="#fff"/>
<text x="184.00" y="96.50" font-size="6.4" font-weight="bold" stroke="#000" stroke-width="0.19" textLength="16.00" lengthAdjust="spacingAndGlyphs" >CD34</text>
<clipPath id="cA4"><rect x="166.6" y="107.4" width="55.20000000000002" height="54.19999999999999"/></clipPath>
<g clip-path="url(#cA4)">
<path d="M175,131 C175,126 180,124 185,125 C190,126 192,131 191,137 C190,143 188,148 183,148 C178,148 175,143 174.5,138 Z" fill="#e4e4e4" filter="url(#b1)"/>
<path d="M190.08,136.50 L190.75,139.74 L189.79,142.68 L188.21,144.95 L186.24,146.24 L184.61,148.84 L182.30,149.31 L180.12,148.12 L178.10,146.90 L176.71,144.49 L175.82,141.84 L174.42,139.52 L173.74,136.50 L174.96,133.69 L174.56,130.11 L176.71,128.51 L178.35,126.72 L180.34,126.08 L182.30,123.19 L184.59,124.30 L186.85,125.25 L188.39,127.80 L188.83,131.12 L190.11,133.51 Z" fill="none" stroke="#8a8a8a" stroke-width="0.45" stroke-linejoin="round"/>
<path d="M189.11,136.50 L188.33,138.81 L188.79,141.85 L186.98,143.19 L185.45,144.29 L184.19,146.56 L182.30,145.43 L180.37,146.79 L178.93,144.84 L177.43,143.46 L176.60,141.20 L175.74,139.01 L175.95,136.50 L176.39,134.24 L175.92,131.24 L177.76,130.02 L178.68,127.55 L180.65,127.70 L182.30,125.76 L184.22,126.28 L185.90,127.60 L187.40,129.22 L188.31,131.55 L189.22,133.85 Z" fill="none" stroke="#8a8a8a" stroke-width="0.45" stroke-linejoin="round"/>
<path d="M187.10,136.50 L187.33,138.42 L187.16,140.50 L185.76,141.44 L185.16,143.57 L183.77,144.33 L182.30,143.82 L180.99,143.50 L179.71,142.90 L178.69,141.65 L177.28,140.64 L177.37,138.39 L177.61,136.50 L177.70,134.74 L177.55,132.58 L178.20,130.64 L179.69,130.03 L180.95,129.30 L182.30,128.95 L183.73,128.89 L184.76,130.43 L186.09,131.09 L186.89,132.72 L187.49,134.51 Z" fill="none" stroke="#8a8a8a" stroke-width="0.45" stroke-linejoin="round"/>
<path d="M185.69,136.50 L185.57,137.75 L185.35,139.02 L185.12,140.53 L184.06,140.86 L183.26,141.64 L182.30,141.49 L181.44,141.09 L180.65,140.58 L179.54,140.44 L178.95,139.26 L178.88,137.81 L178.51,136.50 L178.64,135.10 L178.87,133.67 L179.46,132.45 L180.51,132.08 L181.26,130.93 L182.30,130.76 L183.26,131.37 L184.28,131.61 L184.87,132.83 L185.37,133.97 L185.63,135.23 Z" fill="none" stroke="#8a8a8a" stroke-width="0.45" stroke-linejoin="round"/>
<path d="M184.53,136.50 L184.14,137.21 L183.92,137.83 L183.85,138.72 L183.39,139.20 L182.83,139.33 L182.30,139.66 L181.82,139.06 L181.32,138.91 L180.91,138.49 L180.55,137.95 L180.45,137.21 L180.43,136.50 L180.38,135.77 L180.36,134.90 L180.69,134.20 L181.21,133.81 L181.77,133.67 L182.30,133.72 L182.89,133.37 L183.34,133.94 L183.83,134.31 L183.90,135.18 L184.16,135.79 Z" fill="none" stroke="#8a8a8a" stroke-width="0.45" stroke-linejoin="round"/>
</g>
<rect x="176.00" y="116.30" width="23.00" height="16.90" fill="none" stroke="#999" stroke-width="0.6" />
<rect x="167.50" y="133.20" width="13.50" height="25.30" fill="none" stroke="#999" stroke-width="0.6" />
<rect x="181.00" y="133.20" width="18.00" height="25.30" fill="none" stroke="#999" stroke-width="0.6" />
<rect x="166.60" y="107.40" width="55.20" height="54.20" fill="none" stroke="#000" stroke-width="1.3" />
<text x="184.20" y="124.20" font-size="6.4" font-weight="bold" stroke="#000" stroke-width="0.19" textLength="12.80" lengthAdjust="spacingAndGlyphs" >GMP</text>
<text x="168.60" y="154.80" font-size="6.4" font-weight="bold" stroke="#000" stroke-width="0.19" textLength="10.60" lengthAdjust="spacingAndGlyphs" >MEP</text>
<text x="183.20" y="154.80" font-size="6.4" font-weight="bold" stroke="#000" stroke-width="0.19" textLength="12.60" lengthAdjust="spacingAndGlyphs" >CMP</text>
<line x1="163.00" y1="166.80" x2="163.00" y2="111.90" stroke="#000" stroke-width="1.0" />
<path d="M161.00,112.40 L163.00,107.40 L165.00,112.40 Z" fill="#000"/>
<line x1="163.00" y1="166.80" x2="216.40" y2="166.80" stroke="#000" stroke-width="1.0" />
<path d="M215.90,164.80 L220.90,166.80 L215.90,168.80 Z" fill="#000"/>
<rect x="160.00" y="124.50" width="6.00" height="19.00" fill="#fff"/>
<text x="164.00" y="134.00" font-size="6.8" font-weight="bold" stroke="#000" stroke-width="0.20" text-anchor="middle" textLength="15.00" lengthAdjust="spacingAndGlyphs" transform="rotate(-90 164.00 134.00)" >Fc&#947;R</text>
<rect x="180.50" y="163.50" width="19.50" height="7.50" fill="#fff"/>
<text x="182.00" y="169.70" font-size="6.4" font-weight="bold" stroke="#000" stroke-width="0.19" textLength="16.00" lengthAdjust="spacingAndGlyphs" >CD34</text>
<text x="256.60" y="8.70" font-size="12.3" font-weight="bold" stroke="#000" stroke-width="0.37" textLength="7.50" lengthAdjust="spacingAndGlyphs" >B</text>
<text x="320.80" y="9.80" font-size="8.6" stroke="#000" stroke-width="0.30" textLength="26.90" lengthAdjust="spacingAndGlyphs" >0 Days</text>
<text x="442.30" y="9.80" font-size="8.6" stroke="#000" stroke-width="0.30" textLength="30.70" lengthAdjust="spacingAndGlyphs" >12 Days</text>
<line x1="280.40" y1="12.40" x2="395.40" y2="12.40" stroke="#000" stroke-width="0.9" />
<line x1="401.50" y1="12.40" x2="516.40" y2="12.40" stroke="#000" stroke-width="0.9" />
<text x="292.70" y="20.10" font-size="6.8" stroke="#000" stroke-width="0.24" textLength="21.60" lengthAdjust="spacingAndGlyphs" >Parp-2</text>
<text x="317.50" y="17.90" font-size="5.0" stroke="#000" stroke-width="0.18" textLength="7.70" lengthAdjust="spacingAndGlyphs" >+/+</text>
<text x="350.00" y="20.10" font-size="6.8" stroke="#000" stroke-width="0.24" textLength="21.60" lengthAdjust="spacingAndGlyphs" >Parp-2</text>
<text x="374.80" y="17.90" font-size="5.0" stroke="#000" stroke-width="0.18" textLength="6.20" lengthAdjust="spacingAndGlyphs" >-/-</text>
<text x="418.50" y="20.10" font-size="6.8" stroke="#000" stroke-width="0.24" textLength="21.60" lengthAdjust="spacingAndGlyphs" >Parp-2</text>
<text x="443.30" y="17.90" font-size="5.0" stroke="#000" stroke-width="0.18" textLength="7.70" lengthAdjust="spacingAndGlyphs" >+/+</text>
<text x="476.00" y="20.10" font-size="6.8" stroke="#000" stroke-width="0.24" textLength="21.60" lengthAdjust="spacingAndGlyphs" >Parp-2</text>
<text x="500.80" y="17.90" font-size="5.0" stroke="#000" stroke-width="0.18" textLength="6.20" lengthAdjust="spacingAndGlyphs" >-/-</text>
<line x1="267.70" y1="23.60" x2="267.70" y2="78.40" stroke="#000" stroke-width="0.9" />
<line x1="267.70" y1="90.00" x2="267.70" y2="142.50" stroke="#000" stroke-width="0.9" />
<line x1="267.70" y1="157.80" x2="267.70" y2="212.30" stroke="#000" stroke-width="0.9" />
<text x="265.80" y="50.50" font-size="8.4" font-weight="bold" stroke="#000" stroke-width="0.25" text-anchor="middle" textLength="11.70" lengthAdjust="spacingAndGlyphs" transform="rotate(-90 265.80 50.50)" >Lin</text>
<text x="261.90" y="42.40" font-size="5" font-weight="bold" text-anchor="middle" transform="rotate(-90 261.90 42.40)" >-</text>
<text x="265.80" y="116.80" font-size="8.4" font-weight="bold" stroke="#000" stroke-width="0.25" text-anchor="middle" textLength="14.20" lengthAdjust="spacingAndGlyphs" transform="rotate(-90 265.80 116.80)" >LSK</text>
<text x="265.80" y="183.30" font-size="8.4" font-weight="bold" stroke="#000" stroke-width="0.25" text-anchor="middle" textLength="13.00" lengthAdjust="spacingAndGlyphs" transform="rotate(-90 265.80 183.30)" >MP</text>
<line x1="276.30" y1="79.20" x2="276.30" y2="27.00" stroke="#000" stroke-width="1.0" />
<path d="M274.30,27.50 L276.30,22.50 L278.30,27.50 Z" fill="#000"/>
<line x1="276.30" y1="79.20" x2="388.50" y2="79.20" stroke="#000" stroke-width="1.0" />
<path d="M388.00,77.20 L393.00,79.20 L388.00,81.20 Z" fill="#000"/>
<rect x="273.30" y="41.70" width="6.00" height="15.80" fill="#fff"/>
<text x="278.60" y="49.60" font-size="6.8" font-weight="bold" text-anchor="middle" textLength="12.80" lengthAdjust="spacingAndGlyphs" transform="rotate(-90 278.60 49.60)" >c-kit</text>
<rect x="328.70" y="75.70" width="18.50" height="7.00" fill="#fff"/>
<text x="330.20" y="81.60" font-size="6.8" font-weight="bold" textLength="15.50" lengthAdjust="spacingAndGlyphs" >Sca-1</text>
<line x1="401.70" y1="80.20" x2="401.70" y2="27.50" stroke="#000" stroke-width="1.0" />
<path d="M399.70,28.00 L401.70,23.00 L403.70,28.00 Z" fill="#000"/>
<line x1="401.70" y1="80.20" x2="513.50" y2="80.20" stroke="#000" stroke-width="1.0" />
<path d="M513.00,78.20 L518.00,80.20 L513.00,82.20 Z" fill="#000"/>
<rect x="398.70" y="41.70" width="6.00" height="15.80" fill="#fff"/>
<text x="404.00" y="49.60" font-size="6.8" font-weight="bold" text-anchor="middle" textLength="12.80" lengthAdjust="spacingAndGlyphs" transform="rotate(-90 404.00 49.60)" >c-kit</text>
<rect x="454.00" y="76.70" width="18.50" height="7.00" fill="#fff"/>
<text x="455.50" y="82.60" font-size="6.8" font-weight="bold" textLength="15.50" lengthAdjust="spacingAndGlyphs" >Sca-1</text>
<line x1="276.30" y1="145.40" x2="276.30" y2="92.80" stroke="#000" stroke-width="1.0" />
<path d="M274.30,93.30 L276.30,88.30 L278.30,93.30 Z" fill="#000"/>
<line x1="276.30" y1="145.40" x2="389.50" y2="145.40" stroke="#000" stroke-width="1.0" />
<path d="M389.00,143.40 L394.00,145.40 L389.00,147.40 Z" fill="#000"/>
<rect x="273.30" y="103.70" width="6.00" height="22.60" fill="#fff"/>
<text x="278.60" y="115.00" font-size="6.8" font-weight="bold" text-anchor="middle" textLength="19.60" lengthAdjust="spacingAndGlyphs" transform="rotate(-90 278.60 115.00)" >CD135</text>
<rect x="329.30" y="141.90" width="18.50" height="7.00" fill="#fff"/>
<text x="330.80" y="147.80" font-size="6.8" font-weight="bold" textLength="15.50" lengthAdjust="spacingAndGlyphs" >CD34</text>
<line x1="401.80" y1="146.10" x2="401.80" y2="92.90" stroke="#000" stroke-width="1.0" />
<path d="M399.80,93.40 L401.80,88.40 L403.80,93.40 Z" fill="#000"/>
<line x1="401.80" y1="146.10" x2="513.50" y2="146.10" stroke="#000" stroke-width="1.0" />
<path d="M513.00,144.10 L518.00,146.10 L513.00,148.10 Z" fill="#000"/>
<rect x="398.80" y="103.70" width="6.00" height="22.60" fill="#fff"/>
<text x="404.10" y="115.00" font-size="6.8" font-weight="bold" text-anchor="middle" textLength="19.60" lengthAdjust="spacingAndGlyphs" transform="rotate(-90 404.10 115.00)" >CD135</text>
<rect x="453.50" y="142.60" width="18.50" height="7.00" fill="#fff"/>
<text x="455.00" y="148.50" font-size="6.8" font-weight="bold" textLength="15.50" lengthAdjust="spacingAndGlyphs" >CD34</text>
<line x1="276.30" y1="214.50" x2="276.30" y2="162.00" stroke="#000" stroke-width="1.0" />
<path d="M274.30,162.50 L276.30,157.50 L278.30,162.50 Z" fill="#000"/>
<line x1="276.30" y1="214.50" x2="389.50" y2="214.50" stroke="#000" stroke-width="1.0" />
<path d="M389.00,212.50 L394.00,214.50 L389.00,216.50 Z" fill="#000"/>
<rect x="273.30" y="177.50" width="6.00" height="16.00" fill="#fff"/>
<text x="278.60" y="185.50" font-size="6.8" font-weight="bold" text-anchor="middle" textLength="13.00" lengthAdjust="spacingAndGlyphs" transform="rotate(-90 278.60 185.50)" >Fc&#947;R</text>
<rect x="329.00" y="211.00" width="19.50" height="7.00" fill="#fff"/>
<text x="330.50" y="216.90" font-size="6.8" font-weight="bold" textLength="16.50" lengthAdjust="spacingAndGlyphs" >CD34</text>
<line x1="401.20" y1="214.70" x2="401.20" y2="163.50" stroke="#000" stroke-width="1.0" />
<path d="M399.20,164.00 L401.20,159.00 L403.20,164.00 Z" fill="#000"/>
<line x1="401.20" y1="214.70" x2="513.50" y2="214.70" stroke="#000" stroke-width="1.0" />
<path d="M513.00,212.70 L518.00,214.70 L513.00,216.70 Z" fill="#000"/>
<rect x="398.20" y="176.70" width="6.00" height="16.60" fill="#fff"/>
<text x="403.50" y="185.00" font-size="6.8" font-weight="bold" text-anchor="middle" textLength="13.60" lengthAdjust="spacingAndGlyphs" transform="rotate(-90 403.50 185.00)" >Fc&#947;R</text>
<rect x="453.00" y="211.20" width="20.00" height="7.00" fill="#fff"/>
<text x="454.50" y="217.10" font-size="6.8" font-weight="bold" textLength="17.00" lengthAdjust="spacingAndGlyphs" >CD34</text>
<clipPath id="cB00"><rect x="280.6" y="22.8" width="56.0" height="51.900000000000006"/></clipPath>
<g clip-path="url(#cB00)">
<path d="M303.2,41.0h0.55v0.55h-0.55zM298.7,57.9h0.55v0.55h-0.55zM288.6,42.0h0.55v0.55h-0.55zM291.5,58.9h0.55v0.55h-0.55zM283.6,61.7h0.55v0.55h-0.55zM294.7,51.0h0.55v0.55h-0.55zM293.0,56.9h0.55v0.55h-0.55zM296.2,41.5h0.55v0.55h-0.55zM297.2,45.0h0.55v0.55h-0.55zM307.2,57.9h0.55v0.55h-0.55zM315.3,48.2h0.55v0.55h-0.55zM295.2,49.2h0.55v0.55h-0.55zM296.2,58.1h0.55v0.55h-0.55zM280.3,50.7h0.55v0.55h-0.55zM301.4,46.4h0.55v0.55h-0.55zM280.4,54.3h0.55v0.55h-0.55zM286.0,58.7h0.55v0.55h-0.55zM309.1,47.1h0.55v0.55h-0.55zM306.1,51.1h0.55v0.55h-0.55zM299.9,65.5h0.55v0.55h-0.55zM292.5,65.3h0.55v0.55h-0.55zM307.6,58.6h0.55v0.55h-0.55zM281.3,46.4h0.55v0.55h-0.55zM308.2,61.9h0.55v0.55h-0.55zM312.4,62.5h0.55v0.55h-0.55zM285.6,40.4h0.55v0.55h-0.55zM311.7,60.6h0.55v0.55h-0.55zM315.7,50.1h0.55v0.55h-0.55zM293.5,36.4h0.55v0.55h-0.55zM301.9,58.8h0.55v0.55h-0.55zM294.0,36.1h0.55v0.55h-0.55zM291.1,63.7h0.55v0.55h-0.55zM290.0,41.4h0.55v0.55h-0.55zM316.0,45.5h0.55v0.55h-0.55zM283.8,57.5h0.55v0.55h-0.55zM305.3,64.8h0.55v0.55h-0.55zM298.4,54.5h0.55v0.55h-0.55zM312.2,42.6h0.55v0.55h-0.55zM290.9,57.8h0.55v0.55h-0.55zM302.1,53.3h0.55v0.55h-0.55zM293.4,67.7h0.55v0.55h-0.55zM291.5,58.4h0.55v0.55h-0.55zM315.8,48.4h0.55v0.55h-0.55zM284.8,46.3h0.55v0.55h-0.55zM294.8,50.1h0.55v0.55h-0.55zM306.6,58.4h0.55v0.55h-0.55zM307.5,47.1h0.55v0.55h-0.55zM306.5,53.8h0.55v0.55h-0.55zM285.1,53.7h0.55v0.55h-0.55zM292.7,58.3h0.55v0.55h-0.55zM309.4,42.7h0.55v0.55h-0.55zM297.4,50.4h0.55v0.55h-0.55zM309.6,49.8h0.55v0.55h-0.55zM306.7,43.7h0.55v0.55h-0.55zM308.4,68.2h0.55v0.55h-0.55zM310.9,50.7h0.55v0.55h-0.55zM282.3,48.8h0.55v0.55h-0.55zM298.1,43.9h0.55v0.55h-0.55zM304.7,39.2h0.55v0.55h-0.55zM309.9,64.9h0.55v0.55h-0.55zM282.5,58.9h0.55v0.55h-0.55zM290.6,57.0h0.55v0.55h-0.55zM311.9,46.2h0.55v0.55h-0.55zM309.2,39.3h0.55v0.55h-0.55zM308.5,49.0h0.55v0.55h-0.55zM290.6,42.6h0.55v0.55h-0.55zM288.7,62.7h0.55v0.55h-0.55zM283.8,42.4h0.55v0.55h-0.55zM287.7,39.7h0.55v0.55h-0.55zM309.2,55.1h0.55v0.55h-0.55zM306.6,66.4h0.55v0.55h-0.55zM297.9,35.4h0.55v0.55h-0.55zM287.6,52.6h0.55v0.55h-0.55zM308.6,67.1h0.55v0.55h-0.55zM300.4,42.2h0.55v0.55h-0.55zM303.7,67.7h0.55v0.55h-0.55zM293.3,67.5h0.55v0.55h-0.55zM316.2,54.8h0.55v0.55h-0.55zM299.2,38.6h0.55v0.55h-0.55zM304.5,59.7h0.55v0.55h-0.55zM291.5,53.1h0.55v0.55h-0.55zM289.4,60.0h0.55v0.55h-0.55zM295.5,54.1h0.55v0.55h-0.55zM286.1,64.7h0.55v0.55h-0.55zM316.8,61.2h0.55v0.55h-0.55zM317.4,46.0h0.55v0.55h-0.55zM315.9,50.9h0.55v0.55h-0.55zM288.0,39.4h0.55v0.55h-0.55zM286.6,49.8h0.55v0.55h-0.55zM310.3,61.2h0.55v0.55h-0.55zM287.6,62.0h0.55v0.55h-0.55zM289.0,52.9h0.55v0.55h-0.55zM285.1,55.3h0.55v0.55h-0.55zM306.5,57.2h0.55v0.55h-0.55zM307.3,47.3h0.55v0.55h-0.55zM304.7,69.3h0.55v0.55h-0.55zM306.9,37.3h0.55v0.55h-0.55zM306.5,47.4h0.55v0.55h-0.55zM287.5,58.8h0.55v0.55h-0.55zM311.8,60.2h0.55v0.55h-0.55zM309.1,58.6h0.55v0.55h-0.55zM291.4,48.3h0.55v0.55h-0.55zM310.3,52.6h0.55v0.55h-0.55zM299.5,67.1h0.55v0.55h-0.55zM296.8,64.9h0.55v0.55h-0.55zM281.9,53.1h0.55v0.55h-0.55zM307.9,44.3h0.55v0.55h-0.55zM305.0,56.4h0.55v0.55h-0.55zM289.7,38.9h0.55v0.55h-0.55zM297.7,36.3h0.55v0.55h-0.55zM284.1,61.4h0.55v0.55h-0.55zM283.9,53.5h0.55v0.55h-0.55zM315.4,50.3h0.55v0.55h-0.55zM312.6,63.9h0.55v0.55h-0.55zM311.4,65.2h0.55v0.55h-0.55zM314.1,59.7h0.55v0.55h-0.55zM300.4,68.5h0.55v0.55h-0.55zM309.6,61.5h0.55v0.55h-0.55zM309.6,55.0h0.55v0.55h-0.55zM308.6,53.0h0.55v0.55h-0.55zM302.5,44.3h0.55v0.55h-0.55zM302.7,65.6h0.55v0.55h-0.55zM319.2,53.9h0.55v0.55h-0.55zM309.3,37.1h0.55v0.55h-0.55zM285.6,54.1h0.55v0.55h-0.55zM285.9,52.0h0.55v0.55h-0.55zM292.2,39.1h0.55v0.55h-0.55zM286.3,49.3h0.55v0.55h-0.55zM311.7,40.2h0.55v0.55h-0.55zM290.0,58.1h0.55v0.55h-0.55zM286.2,42.3h0.55v0.55h-0.55zM308.8,66.8h0.55v0.55h-0.55zM289.8,65.1h0.55v0.55h-0.55zM292.8,61.8h0.55v0.55h-0.55zM303.2,46.6h0.55v0.55h-0.55zM315.4,59.0h0.55v0.55h-0.55zM292.8,54.6h0.55v0.55h-0.55zM291.8,44.3h0.55v0.55h-0.55zM284.3,49.7h0.55v0.55h-0.55zM290.0,50.0h0.55v0.55h-0.55zM284.2,48.9h0.55v0.55h-0.55zM307.2,65.4h0.55v0.55h-0.55zM287.0,38.6h0.55v0.55h-0.55zM303.8,48.6h0.55v0.55h-0.55zM316.9,56.2h0.55v0.55h-0.55zM304.6,58.7h0.55v0.55h-0.55zM288.2,66.2h0.55v0.55h-0.55zM314.4,63.6h0.55v0.55h-0.55zM311.3,40.2h0.55v0.55h-0.55zM282.1,47.1h0.55v0.55h-0.55zM308.7,41.2h0.55v0.55h-0.55zM307.9,51.4h0.55v0.55h-0.55zM286.0,63.1h0.55v0.55h-0.55zM286.9,51.9h0.55v0.55h-0.55zM310.3,56.9h0.55v0.55h-0.55zM289.4,65.6h0.55v0.55h-0.55zM292.8,49.1h0.55v0.55h-0.55zM297.5,59.2h0.55v0.55h-0.55zM281.6,57.0h0.55v0.55h-0.55zM299.5,62.8h0.55v0.55h-0.55z" fill="#c8c8c8"/>
<path d="M284,62 C284,54 292,51 299,53 C305,56 306,63 303,68 C300,72 290,73 286,70 Z" fill="#e6e6e6" filter="url(#b1)"/>
<path d="M303.10,62.30 L302.89,64.57 L302.21,66.84 L300.84,68.95 L298.33,69.92 L295.94,70.77 L293.40,71.20 L290.65,71.46 L288.47,69.93 L285.91,68.99 L284.31,66.99 L283.88,64.58 L283.06,62.30 L283.51,59.93 L284.57,57.75 L285.68,55.41 L288.50,54.72 L290.89,53.92 L293.40,52.61 L296.03,53.52 L298.36,54.62 L300.53,55.93 L302.18,57.77 L303.89,59.79 Z" fill="none" stroke="#888" stroke-width="0.5" stroke-linejoin="round"/>
<path d="M302.35,62.30 L302.05,64.37 L301.51,66.48 L299.99,68.19 L298.29,69.86 L295.90,70.62 L293.40,70.44 L291.09,70.01 L288.58,69.76 L286.46,68.50 L285.82,66.21 L284.19,64.50 L283.72,62.30 L284.28,60.12 L285.64,58.30 L286.61,56.24 L288.64,54.93 L291.09,54.60 L293.40,53.88 L295.72,54.57 L297.78,55.52 L299.83,56.56 L301.27,58.24 L302.24,60.18 Z" fill="none" stroke="#888" stroke-width="0.5" stroke-linejoin="round"/>
<path d="M301.79,62.30 L301.68,64.28 L300.93,66.18 L299.56,67.80 L297.76,69.05 L295.61,69.66 L293.40,69.49 L291.35,69.13 L289.22,68.77 L287.54,67.53 L286.11,66.06 L285.83,64.11 L285.46,62.30 L285.04,60.30 L286.18,58.58 L287.44,56.97 L289.48,56.24 L291.29,55.28 L293.40,54.58 L295.57,55.06 L297.76,55.55 L299.01,57.28 L300.50,58.64 L301.65,60.33 Z" fill="none" stroke="#888" stroke-width="0.5" stroke-linejoin="round"/>
<path d="M299.74,62.30 L299.78,63.83 L298.97,65.17 L297.71,66.15 L296.44,67.00 L295.15,68.13 L293.40,67.74 L291.81,67.61 L290.27,67.14 L288.77,66.44 L287.63,65.27 L287.25,63.77 L287.02,62.30 L287.02,60.77 L288.02,59.52 L288.95,58.33 L290.16,57.29 L291.72,56.70 L293.40,56.91 L294.98,57.05 L296.45,57.57 L298.04,58.16 L299.06,59.38 L299.92,60.74 Z" fill="none" stroke="#888" stroke-width="0.5" stroke-linejoin="round"/>
<path d="M298.18,62.30 L297.75,63.34 L297.54,64.44 L296.87,65.40 L295.68,65.82 L294.53,66.06 L293.40,66.38 L292.23,66.19 L291.17,65.75 L290.30,65.07 L289.57,64.28 L288.73,63.42 L289.02,62.30 L288.86,61.21 L289.53,60.30 L290.24,59.48 L290.99,58.58 L292.23,58.40 L293.40,58.32 L294.59,58.32 L295.77,58.63 L296.69,59.36 L297.59,60.14 L297.82,61.24 Z" fill="none" stroke="#888" stroke-width="0.5" stroke-linejoin="round"/>
<path d="M295.98,62.30 L295.95,62.91 L295.62,63.44 L295.27,63.97 L294.68,64.28 L294.04,64.42 L293.40,64.50 L292.71,64.60 L292.07,64.35 L291.48,64.01 L291.12,63.48 L290.89,62.90 L290.93,62.30 L290.81,61.68 L291.27,61.20 L291.60,60.69 L292.17,60.39 L292.74,60.11 L293.40,60.05 L294.06,60.10 L294.72,60.26 L295.23,60.67 L295.56,61.19 L295.97,61.68 Z" fill="none" stroke="#888" stroke-width="0.5" stroke-linejoin="round"/>
<path d="M302,58.5 C308,56.5 316,57 323,59 C327,60.5 327,63 323,64 C316,65.5 309,65 303,65.5" fill="none" stroke="#999" stroke-width="0.5"/>
<path d="M304,60.5 C310,59.5 316,60 321,61.5" fill="none" stroke="#aaa" stroke-width="0.45"/>
<path d="M287.6,39 L289,35 L294,33.6 L299.5,34.2 L303,35.8 L306,37 L305.8,40 L303.2,42.6 L299.5,44.2 L294.5,44.6 L290,43.4 Z" fill="none" stroke="#8a8a8a" stroke-width="0.5" stroke-linejoin="round"/>
<ellipse cx="295.50" cy="37.90" rx="2.80" ry="1.60" fill="none" stroke="#8a8a8a" stroke-width="0.45" />
<path d="M297,44.5 C295.5,47 293.5,50 292,53 M302,43.5 C303.5,46 305,50 305.5,55 M299,44.5 C299,48 298.5,51 298,54" fill="none" stroke="#a0a0a0" stroke-width="0.45"/>
<path d="M304,37.5 C311,37.8 319,38.5 327,39.5 M308,39.5 C315,40.5 321,41 326,41" fill="none" stroke="#aaa" stroke-width="0.45"/>
</g>
<clipPath id="cB10"><rect x="338.6" y="22.8" width="53.89999999999998" height="51.900000000000006"/></clipPath>
<g clip-path="url(#cB10)">
<path d="M343.9,56.2h0.55v0.55h-0.55zM344.8,59.7h0.55v0.55h-0.55zM362.3,47.8h0.55v0.55h-0.55zM362.7,54.4h0.55v0.55h-0.55zM339.7,53.1h0.55v0.55h-0.55zM362.8,52.7h0.55v0.55h-0.55zM373.2,60.5h0.55v0.55h-0.55zM353.1,42.2h0.55v0.55h-0.55zM343.1,63.2h0.55v0.55h-0.55zM365.6,55.9h0.55v0.55h-0.55zM355.7,52.0h0.55v0.55h-0.55zM346.9,53.1h0.55v0.55h-0.55zM343.8,56.4h0.55v0.55h-0.55zM363.2,58.1h0.55v0.55h-0.55zM347.9,37.3h0.55v0.55h-0.55zM351.3,58.8h0.55v0.55h-0.55zM358.4,60.9h0.55v0.55h-0.55zM355.2,48.3h0.55v0.55h-0.55zM346.3,55.2h0.55v0.55h-0.55zM363.3,49.6h0.55v0.55h-0.55zM360.3,49.9h0.55v0.55h-0.55zM364.7,66.0h0.55v0.55h-0.55zM371.0,57.0h0.55v0.55h-0.55zM356.8,68.1h0.55v0.55h-0.55zM355.9,56.5h0.55v0.55h-0.55zM372.7,58.6h0.55v0.55h-0.55zM353.6,60.7h0.55v0.55h-0.55zM362.0,66.9h0.55v0.55h-0.55zM362.9,53.2h0.55v0.55h-0.55zM377.0,53.0h0.55v0.55h-0.55zM353.9,67.8h0.55v0.55h-0.55zM373.3,47.8h0.55v0.55h-0.55zM348.2,58.6h0.55v0.55h-0.55zM355.9,57.9h0.55v0.55h-0.55zM346.8,48.9h0.55v0.55h-0.55zM343.7,51.3h0.55v0.55h-0.55zM347.2,36.9h0.55v0.55h-0.55zM353.6,39.4h0.55v0.55h-0.55zM354.7,45.4h0.55v0.55h-0.55zM367.1,48.9h0.55v0.55h-0.55zM347.7,40.8h0.55v0.55h-0.55zM349.9,60.8h0.55v0.55h-0.55zM346.1,50.7h0.55v0.55h-0.55zM370.3,63.9h0.55v0.55h-0.55zM356.5,64.3h0.55v0.55h-0.55zM363.7,42.2h0.55v0.55h-0.55zM369.6,48.0h0.55v0.55h-0.55zM374.8,50.9h0.55v0.55h-0.55zM346.8,57.4h0.55v0.55h-0.55zM366.1,67.2h0.55v0.55h-0.55zM363.5,51.1h0.55v0.55h-0.55zM371.5,43.9h0.55v0.55h-0.55zM369.1,60.2h0.55v0.55h-0.55zM343.7,50.2h0.55v0.55h-0.55zM362.1,51.4h0.55v0.55h-0.55zM351.7,38.8h0.55v0.55h-0.55zM374.6,50.3h0.55v0.55h-0.55zM347.9,39.0h0.55v0.55h-0.55zM338.4,55.0h0.55v0.55h-0.55zM349.2,54.0h0.55v0.55h-0.55zM375.0,51.4h0.55v0.55h-0.55zM368.3,61.2h0.55v0.55h-0.55zM358.3,54.0h0.55v0.55h-0.55zM361.9,51.0h0.55v0.55h-0.55zM348.9,66.5h0.55v0.55h-0.55zM373.1,59.2h0.55v0.55h-0.55zM376.4,53.9h0.55v0.55h-0.55zM341.2,59.0h0.55v0.55h-0.55zM342.2,61.0h0.55v0.55h-0.55zM363.9,41.4h0.55v0.55h-0.55zM347.1,65.8h0.55v0.55h-0.55zM343.4,46.2h0.55v0.55h-0.55zM356.9,46.9h0.55v0.55h-0.55zM357.3,41.4h0.55v0.55h-0.55zM342.4,58.9h0.55v0.55h-0.55zM351.6,51.5h0.55v0.55h-0.55zM365.7,37.2h0.55v0.55h-0.55zM340.2,58.8h0.55v0.55h-0.55zM356.1,69.8h0.55v0.55h-0.55zM359.2,69.0h0.55v0.55h-0.55zM340.2,51.0h0.55v0.55h-0.55zM371.9,48.1h0.55v0.55h-0.55zM355.6,50.2h0.55v0.55h-0.55zM353.2,63.3h0.55v0.55h-0.55zM350.9,62.9h0.55v0.55h-0.55zM367.8,63.3h0.55v0.55h-0.55zM365.3,66.9h0.55v0.55h-0.55zM371.8,56.8h0.55v0.55h-0.55zM349.3,37.1h0.55v0.55h-0.55zM373.7,43.5h0.55v0.55h-0.55zM367.5,67.5h0.55v0.55h-0.55zM345.0,41.9h0.55v0.55h-0.55zM365.2,63.6h0.55v0.55h-0.55zM370.8,58.8h0.55v0.55h-0.55zM355.6,67.2h0.55v0.55h-0.55zM366.8,42.8h0.55v0.55h-0.55zM361.4,40.1h0.55v0.55h-0.55zM354.0,63.3h0.55v0.55h-0.55zM338.4,53.3h0.55v0.55h-0.55zM355.4,44.2h0.55v0.55h-0.55zM340.6,52.8h0.55v0.55h-0.55zM351.3,37.5h0.55v0.55h-0.55zM354.1,58.5h0.55v0.55h-0.55zM341.3,50.9h0.55v0.55h-0.55zM352.7,64.9h0.55v0.55h-0.55zM373.7,60.5h0.55v0.55h-0.55zM349.8,45.7h0.55v0.55h-0.55zM371.0,52.4h0.55v0.55h-0.55zM363.4,60.1h0.55v0.55h-0.55zM345.7,47.9h0.55v0.55h-0.55zM376.2,46.0h0.55v0.55h-0.55zM371.9,39.6h0.55v0.55h-0.55zM338.6,52.1h0.55v0.55h-0.55zM349.3,55.4h0.55v0.55h-0.55zM358.0,47.5h0.55v0.55h-0.55zM373.4,60.7h0.55v0.55h-0.55zM351.9,56.3h0.55v0.55h-0.55zM359.8,47.2h0.55v0.55h-0.55zM349.6,57.4h0.55v0.55h-0.55zM373.9,42.7h0.55v0.55h-0.55zM352.2,39.7h0.55v0.55h-0.55zM352.6,48.0h0.55v0.55h-0.55zM341.7,57.2h0.55v0.55h-0.55zM351.8,63.0h0.55v0.55h-0.55zM347.7,60.4h0.55v0.55h-0.55zM352.8,69.0h0.55v0.55h-0.55zM354.1,45.8h0.55v0.55h-0.55zM344.1,63.9h0.55v0.55h-0.55zM351.0,65.7h0.55v0.55h-0.55zM360.3,40.5h0.55v0.55h-0.55zM367.9,55.6h0.55v0.55h-0.55zM345.9,42.7h0.55v0.55h-0.55zM368.5,49.0h0.55v0.55h-0.55zM358.9,39.7h0.55v0.55h-0.55zM362.5,55.7h0.55v0.55h-0.55zM361.2,62.0h0.55v0.55h-0.55zM357.1,66.1h0.55v0.55h-0.55zM361.8,39.8h0.55v0.55h-0.55zM370.8,40.1h0.55v0.55h-0.55zM345.8,41.2h0.55v0.55h-0.55z" fill="#cdcdcd"/>
<path d="M343,62 C343,54 350,51 357,52 C363,55 364,62 361,67 C358,71 348,71 345,68 Z" fill="#e6e6e6" filter="url(#b1)"/>
<path d="M362.46,61.00 L361.95,63.25 L360.91,65.32 L360.02,67.68 L357.65,68.87 L355.25,69.89 L352.60,70.06 L350.05,69.57 L347.46,69.01 L345.46,67.42 L343.65,65.65 L342.75,63.37 L342.19,61.00 L343.01,58.69 L344.30,56.69 L345.83,54.90 L347.47,53.00 L350.12,52.65 L352.60,51.83 L355.23,52.18 L357.34,53.62 L359.91,54.42 L360.77,56.75 L362.68,58.57 Z" fill="none" stroke="#888" stroke-width="0.5" stroke-linejoin="round"/>
<path d="M361.97,61.00 L361.00,63.02 L360.61,65.16 L359.14,66.89 L356.90,67.70 L354.98,68.98 L352.60,68.73 L350.16,69.21 L348.00,68.17 L345.87,67.06 L345.22,64.83 L344.10,63.05 L343.47,61.00 L343.79,58.88 L345.10,57.10 L345.94,55.01 L347.91,53.69 L350.33,53.36 L352.60,53.24 L354.98,53.02 L357.05,54.06 L359.09,55.16 L360.39,56.95 L361.18,58.93 Z" fill="none" stroke="#888" stroke-width="0.5" stroke-linejoin="round"/>
<path d="M360.14,61.00 L359.99,62.78 L359.49,64.58 L358.41,66.23 L356.56,67.18 L354.73,68.16 L352.60,68.23 L350.43,68.27 L348.53,67.35 L347.06,65.98 L345.97,64.44 L345.28,62.77 L345.04,61.00 L344.54,59.06 L345.36,57.24 L346.77,55.76 L348.79,55.06 L350.49,53.91 L352.60,54.12 L354.77,53.72 L356.67,54.65 L358.43,55.76 L359.62,57.35 L360.25,59.15 Z" fill="none" stroke="#888" stroke-width="0.5" stroke-linejoin="round"/>
<path d="M358.33,61.00 L358.21,62.35 L357.22,63.40 L356.46,64.47 L355.43,65.41 L354.05,65.88 L352.60,65.90 L351.19,65.75 L349.70,65.53 L348.82,64.41 L348.00,63.39 L347.17,62.31 L347.25,61.00 L347.03,59.66 L347.94,58.58 L348.51,57.32 L349.89,56.78 L351.11,56.00 L352.60,55.90 L354.06,56.09 L355.26,56.86 L356.33,57.64 L357.10,58.66 L357.71,59.77 Z" fill="none" stroke="#888" stroke-width="0.5" stroke-linejoin="round"/>
<path d="M355.66,61.00 L355.35,61.66 L355.12,62.31 L354.74,62.92 L354.04,63.24 L353.36,63.55 L352.60,63.61 L351.81,63.66 L351.17,63.23 L350.35,63.02 L349.97,62.37 L349.63,61.72 L349.58,61.00 L349.70,60.30 L349.86,59.57 L350.38,59.00 L351.04,58.57 L351.87,58.54 L352.60,58.27 L353.42,58.25 L354.12,58.62 L354.72,59.09 L355.24,59.63 L355.39,60.33 Z" fill="none" stroke="#888" stroke-width="0.5" stroke-linejoin="round"/>
<path d="M377.79,60.00 L376.81,61.15 L376.71,62.42 L375.98,63.37 L375.46,64.82 L374.25,65.29 L373.00,65.81 L371.96,64.40 L370.75,64.40 L370.21,63.16 L369.35,62.38 L368.55,61.35 L369.05,60.00 L368.96,58.78 L368.84,57.28 L369.70,56.27 L370.89,55.87 L371.78,54.84 L373.00,54.32 L374.01,55.72 L375.51,55.08 L376.45,56.10 L376.79,57.52 L376.98,58.79 Z" fill="none" stroke="#999" stroke-width="0.45" stroke-linejoin="round"/>
<path d="M376.65,60.00 L375.95,60.89 L375.44,61.59 L374.99,62.25 L374.77,63.47 L373.86,63.61 L373.00,63.96 L372.11,63.74 L371.38,63.17 L370.41,62.93 L370.32,61.75 L369.85,60.95 L369.48,60.00 L369.79,59.03 L369.92,57.99 L370.68,57.38 L371.30,56.67 L372.28,56.98 L373.00,56.67 L373.78,56.72 L374.40,57.26 L375.09,57.64 L375.44,58.40 L375.89,59.12 Z" fill="none" stroke="#999" stroke-width="0.45" stroke-linejoin="round"/>
<path d="M374.89,60.00 L374.68,60.51 L374.51,60.98 L374.17,61.32 L373.84,61.65 L373.53,62.24 L373.00,62.14 L372.52,62.04 L372.18,61.60 L371.63,61.55 L371.59,60.92 L371.31,60.51 L370.92,60.00 L371.18,59.45 L371.40,58.96 L371.65,58.47 L372.00,58.04 L372.49,57.86 L373.00,58.12 L373.40,58.30 L373.86,58.32 L374.19,58.65 L374.43,59.06 L374.98,59.40 Z" fill="none" stroke="#999" stroke-width="0.45" stroke-linejoin="round"/>
<path d="M347,36 C349,34 358,34 361,36 C362,39 358,41 356,42 C355,44 355,45 353,45.5 C351,44 351,42 349,41 C347,40 346,38 347,36 Z" fill="none" stroke="#8a8a8a" stroke-width="0.5"/>
<ellipse cx="355.50" cy="37.50" rx="2.00" ry="1.30" fill="none" stroke="#999" stroke-width="0.4" />
<path d="M353,46 C354,48 355,50 356,52 M350,46 C349,48 348,50 347,52" fill="none" stroke="#a0a0a0" stroke-width="0.45"/>
<path d="M366,37 C372,36 377,37 381,38 M369,39.5 C373,40.5 377,40 380,39" fill="none" stroke="#999" stroke-width="0.45"/>
</g>
<clipPath id="cB20"><rect x="405.6" y="22.8" width="55.099999999999966" height="51.900000000000006"/></clipPath>
<g clip-path="url(#cB20)">
<path d="M456.9,48.1h0.55v0.55h-0.55zM443.4,60.3h0.55v0.55h-0.55zM437.3,33.4h0.55v0.55h-0.55zM425.9,67.1h0.55v0.55h-0.55zM417.7,32.7h0.55v0.55h-0.55zM412.6,51.0h0.55v0.55h-0.55zM415.5,46.0h0.55v0.55h-0.55zM444.1,59.8h0.55v0.55h-0.55zM427.6,62.6h0.55v0.55h-0.55zM435.8,64.4h0.55v0.55h-0.55zM418.9,44.2h0.55v0.55h-0.55zM436.2,69.6h0.55v0.55h-0.55zM438.2,48.9h0.55v0.55h-0.55zM419.0,40.4h0.55v0.55h-0.55zM433.5,59.2h0.55v0.55h-0.55zM421.4,49.2h0.55v0.55h-0.55zM413.6,46.5h0.55v0.55h-0.55zM419.1,32.4h0.55v0.55h-0.55zM448.3,58.8h0.55v0.55h-0.55zM410.7,49.3h0.55v0.55h-0.55zM435.3,62.0h0.55v0.55h-0.55zM442.9,40.8h0.55v0.55h-0.55zM434.6,54.3h0.55v0.55h-0.55zM426.5,64.0h0.55v0.55h-0.55zM429.1,61.0h0.55v0.55h-0.55zM409.4,47.6h0.55v0.55h-0.55zM408.3,56.5h0.55v0.55h-0.55zM451.4,51.9h0.55v0.55h-0.55zM435.4,55.4h0.55v0.55h-0.55zM417.9,45.0h0.55v0.55h-0.55zM436.1,56.4h0.55v0.55h-0.55zM425.8,49.0h0.55v0.55h-0.55zM423.2,52.4h0.55v0.55h-0.55zM441.2,42.4h0.55v0.55h-0.55zM441.6,65.4h0.55v0.55h-0.55zM433.9,71.1h0.55v0.55h-0.55zM422.1,68.5h0.55v0.55h-0.55zM415.5,44.0h0.55v0.55h-0.55zM438.0,66.3h0.55v0.55h-0.55zM455.1,58.0h0.55v0.55h-0.55zM424.0,42.6h0.55v0.55h-0.55zM438.8,30.9h0.55v0.55h-0.55zM438.6,35.2h0.55v0.55h-0.55zM428.3,40.7h0.55v0.55h-0.55zM451.2,40.6h0.55v0.55h-0.55zM443.7,60.7h0.55v0.55h-0.55zM422.6,39.1h0.55v0.55h-0.55zM433.1,45.6h0.55v0.55h-0.55zM436.9,42.4h0.55v0.55h-0.55zM447.3,46.5h0.55v0.55h-0.55zM413.1,62.1h0.55v0.55h-0.55zM452.5,58.0h0.55v0.55h-0.55zM434.4,66.4h0.55v0.55h-0.55zM431.4,28.8h0.55v0.55h-0.55zM423.3,38.6h0.55v0.55h-0.55zM430.0,57.8h0.55v0.55h-0.55zM450.8,39.5h0.55v0.55h-0.55zM446.7,52.2h0.55v0.55h-0.55zM454.6,51.3h0.55v0.55h-0.55zM450.7,62.5h0.55v0.55h-0.55zM445.1,63.4h0.55v0.55h-0.55zM419.2,38.8h0.55v0.55h-0.55zM428.6,61.8h0.55v0.55h-0.55zM447.3,61.3h0.55v0.55h-0.55zM436.1,49.0h0.55v0.55h-0.55zM416.1,57.3h0.55v0.55h-0.55zM440.0,50.6h0.55v0.55h-0.55zM420.9,55.0h0.55v0.55h-0.55zM441.9,40.5h0.55v0.55h-0.55zM454.4,48.3h0.55v0.55h-0.55zM447.1,51.0h0.55v0.55h-0.55zM455.5,54.7h0.55v0.55h-0.55zM422.9,43.7h0.55v0.55h-0.55zM425.5,36.7h0.55v0.55h-0.55zM411.6,56.6h0.55v0.55h-0.55zM422.3,48.0h0.55v0.55h-0.55zM442.9,40.1h0.55v0.55h-0.55zM428.9,42.2h0.55v0.55h-0.55zM422.9,57.3h0.55v0.55h-0.55zM411.1,45.6h0.55v0.55h-0.55zM411.7,57.5h0.55v0.55h-0.55zM431.1,57.1h0.55v0.55h-0.55zM433.2,64.1h0.55v0.55h-0.55zM442.4,56.2h0.55v0.55h-0.55zM445.0,46.1h0.55v0.55h-0.55zM456.7,56.0h0.55v0.55h-0.55zM448.8,60.8h0.55v0.55h-0.55zM456.1,56.9h0.55v0.55h-0.55zM454.8,46.7h0.55v0.55h-0.55zM419.9,32.8h0.55v0.55h-0.55zM419.1,67.3h0.55v0.55h-0.55zM440.2,29.9h0.55v0.55h-0.55zM407.4,48.3h0.55v0.55h-0.55zM434.3,43.9h0.55v0.55h-0.55zM451.6,59.9h0.55v0.55h-0.55zM448.6,39.9h0.55v0.55h-0.55zM440.7,36.7h0.55v0.55h-0.55zM421.7,70.1h0.55v0.55h-0.55zM417.1,40.9h0.55v0.55h-0.55zM417.3,66.2h0.55v0.55h-0.55zM441.7,54.0h0.55v0.55h-0.55zM450.3,48.4h0.55v0.55h-0.55zM453.6,62.2h0.55v0.55h-0.55zM421.6,38.4h0.55v0.55h-0.55zM433.9,47.6h0.55v0.55h-0.55zM447.1,56.7h0.55v0.55h-0.55zM444.6,54.5h0.55v0.55h-0.55zM419.7,60.7h0.55v0.55h-0.55zM443.0,38.3h0.55v0.55h-0.55zM412.1,47.7h0.55v0.55h-0.55zM436.9,60.0h0.55v0.55h-0.55zM430.7,51.9h0.55v0.55h-0.55zM412.3,42.0h0.55v0.55h-0.55zM418.6,34.3h0.55v0.55h-0.55zM423.6,42.8h0.55v0.55h-0.55zM450.6,36.8h0.55v0.55h-0.55zM418.5,32.3h0.55v0.55h-0.55zM433.3,44.1h0.55v0.55h-0.55zM430.5,34.1h0.55v0.55h-0.55zM407.3,45.0h0.55v0.55h-0.55zM454.2,56.7h0.55v0.55h-0.55zM435.7,30.8h0.55v0.55h-0.55zM428.5,44.2h0.55v0.55h-0.55zM438.8,45.7h0.55v0.55h-0.55zM447.7,40.1h0.55v0.55h-0.55zM413.6,63.1h0.55v0.55h-0.55zM450.4,41.4h0.55v0.55h-0.55zM436.8,31.9h0.55v0.55h-0.55zM457.4,52.9h0.55v0.55h-0.55zM421.6,50.3h0.55v0.55h-0.55zM425.2,53.4h0.55v0.55h-0.55zM427.5,44.5h0.55v0.55h-0.55zM444.1,41.4h0.55v0.55h-0.55zM449.2,60.9h0.55v0.55h-0.55zM450.8,59.4h0.55v0.55h-0.55zM432.1,35.8h0.55v0.55h-0.55zM447.7,38.3h0.55v0.55h-0.55zM442.2,55.8h0.55v0.55h-0.55zM444.0,65.1h0.55v0.55h-0.55zM430.1,69.1h0.55v0.55h-0.55zM428.3,60.0h0.55v0.55h-0.55zM445.0,45.8h0.55v0.55h-0.55zM448.6,59.6h0.55v0.55h-0.55zM414.3,53.8h0.55v0.55h-0.55zM431.3,54.2h0.55v0.55h-0.55zM426.6,60.4h0.55v0.55h-0.55zM430.2,56.1h0.55v0.55h-0.55zM446.5,51.8h0.55v0.55h-0.55zM412.4,45.8h0.55v0.55h-0.55zM440.2,61.7h0.55v0.55h-0.55zM409.4,54.3h0.55v0.55h-0.55zM424.2,51.2h0.55v0.55h-0.55zM439.1,43.0h0.55v0.55h-0.55zM456.8,50.3h0.55v0.55h-0.55zM424.2,36.2h0.55v0.55h-0.55zM433.4,50.5h0.55v0.55h-0.55zM432.4,62.0h0.55v0.55h-0.55zM441.6,64.6h0.55v0.55h-0.55zM437.1,35.2h0.55v0.55h-0.55zM436.9,30.5h0.55v0.55h-0.55zM428.0,32.3h0.55v0.55h-0.55zM408.5,47.8h0.55v0.55h-0.55zM449.6,61.4h0.55v0.55h-0.55zM438.1,54.5h0.55v0.55h-0.55zM433.0,52.0h0.55v0.55h-0.55zM441.3,42.9h0.55v0.55h-0.55zM447.3,49.0h0.55v0.55h-0.55zM443.8,52.2h0.55v0.55h-0.55zM450.7,50.2h0.55v0.55h-0.55zM410.7,61.6h0.55v0.55h-0.55zM418.0,53.2h0.55v0.55h-0.55zM454.5,59.8h0.55v0.55h-0.55zM456.2,48.4h0.55v0.55h-0.55zM419.2,48.4h0.55v0.55h-0.55zM433.6,30.0h0.55v0.55h-0.55zM450.0,56.3h0.55v0.55h-0.55zM426.8,63.8h0.55v0.55h-0.55zM450.7,48.9h0.55v0.55h-0.55zM411.9,47.7h0.55v0.55h-0.55zM411.5,52.1h0.55v0.55h-0.55zM413.4,50.9h0.55v0.55h-0.55zM427.3,42.2h0.55v0.55h-0.55zM436.3,51.5h0.55v0.55h-0.55zM451.9,47.7h0.55v0.55h-0.55zM435.9,60.0h0.55v0.55h-0.55zM414.5,51.6h0.55v0.55h-0.55zM415.4,49.8h0.55v0.55h-0.55zM432.5,67.9h0.55v0.55h-0.55zM450.4,44.4h0.55v0.55h-0.55zM419.0,54.2h0.55v0.55h-0.55zM421.7,69.6h0.55v0.55h-0.55zM413.2,57.0h0.55v0.55h-0.55zM435.0,35.0h0.55v0.55h-0.55zM423.9,50.3h0.55v0.55h-0.55zM447.7,45.9h0.55v0.55h-0.55zM421.0,48.7h0.55v0.55h-0.55zM434.0,45.6h0.55v0.55h-0.55zM416.7,36.2h0.55v0.55h-0.55zM410.0,55.4h0.55v0.55h-0.55zM435.7,38.0h0.55v0.55h-0.55zM446.7,35.9h0.55v0.55h-0.55zM440.4,30.3h0.55v0.55h-0.55zM438.0,56.9h0.55v0.55h-0.55zM413.1,42.4h0.55v0.55h-0.55zM447.6,39.8h0.55v0.55h-0.55zM446.5,58.6h0.55v0.55h-0.55zM445.4,44.5h0.55v0.55h-0.55zM420.3,48.7h0.55v0.55h-0.55zM438.4,29.0h0.55v0.55h-0.55zM410.8,40.0h0.55v0.55h-0.55zM456.6,50.7h0.55v0.55h-0.55zM423.3,46.7h0.55v0.55h-0.55zM451.5,59.8h0.55v0.55h-0.55zM435.0,56.0h0.55v0.55h-0.55zM453.5,55.2h0.55v0.55h-0.55zM417.0,67.1h0.55v0.55h-0.55zM416.1,44.8h0.55v0.55h-0.55zM435.9,64.4h0.55v0.55h-0.55zM419.2,66.5h0.55v0.55h-0.55zM448.3,52.9h0.55v0.55h-0.55zM429.5,34.9h0.55v0.55h-0.55zM426.0,37.9h0.55v0.55h-0.55zM424.8,31.1h0.55v0.55h-0.55zM456.1,46.4h0.55v0.55h-0.55zM429.3,31.4h0.55v0.55h-0.55zM440.9,41.5h0.55v0.55h-0.55zM439.3,43.0h0.55v0.55h-0.55zM426.2,66.8h0.55v0.55h-0.55zM429.8,68.2h0.55v0.55h-0.55zM441.2,60.9h0.55v0.55h-0.55zM444.1,52.7h0.55v0.55h-0.55zM422.3,58.0h0.55v0.55h-0.55zM447.8,65.2h0.55v0.55h-0.55zM429.4,37.3h0.55v0.55h-0.55zM453.7,53.4h0.55v0.55h-0.55zM418.9,68.4h0.55v0.55h-0.55zM409.4,59.1h0.55v0.55h-0.55zM443.8,60.5h0.55v0.55h-0.55zM430.6,41.2h0.55v0.55h-0.55zM417.4,61.4h0.55v0.55h-0.55zM432.0,29.2h0.55v0.55h-0.55zM442.1,60.1h0.55v0.55h-0.55zM447.1,48.9h0.55v0.55h-0.55zM441.5,54.7h0.55v0.55h-0.55zM447.2,39.8h0.55v0.55h-0.55zM417.4,65.0h0.55v0.55h-0.55zM441.4,62.5h0.55v0.55h-0.55zM420.8,34.0h0.55v0.55h-0.55zM420.7,32.0h0.55v0.55h-0.55zM435.0,30.8h0.55v0.55h-0.55zM417.4,35.3h0.55v0.55h-0.55zM432.5,31.0h0.55v0.55h-0.55zM449.3,35.0h0.55v0.55h-0.55zM427.4,62.1h0.55v0.55h-0.55zM413.5,43.9h0.55v0.55h-0.55zM449.3,55.9h0.55v0.55h-0.55zM413.0,50.9h0.55v0.55h-0.55zM449.5,51.7h0.55v0.55h-0.55zM420.2,37.3h0.55v0.55h-0.55zM453.1,45.3h0.55v0.55h-0.55zM416.2,40.1h0.55v0.55h-0.55zM437.0,65.7h0.55v0.55h-0.55zM440.3,54.8h0.55v0.55h-0.55zM424.3,38.3h0.55v0.55h-0.55zM441.1,43.7h0.55v0.55h-0.55zM421.5,60.7h0.55v0.55h-0.55zM412.3,61.5h0.55v0.55h-0.55zM434.0,30.9h0.55v0.55h-0.55zM448.0,51.9h0.55v0.55h-0.55zM431.1,31.0h0.55v0.55h-0.55zM434.9,49.1h0.55v0.55h-0.55zM426.6,28.7h0.55v0.55h-0.55zM445.1,63.7h0.55v0.55h-0.55zM447.3,34.8h0.55v0.55h-0.55zM444.4,68.9h0.55v0.55h-0.55zM455.6,43.9h0.55v0.55h-0.55zM452.1,53.8h0.55v0.55h-0.55zM440.4,61.6h0.55v0.55h-0.55zM419.5,38.0h0.55v0.55h-0.55zM409.3,59.4h0.55v0.55h-0.55zM439.9,49.9h0.55v0.55h-0.55zM433.7,36.5h0.55v0.55h-0.55zM444.0,52.2h0.55v0.55h-0.55zM411.2,47.3h0.55v0.55h-0.55zM443.7,59.7h0.55v0.55h-0.55zM429.7,31.7h0.55v0.55h-0.55zM425.9,42.1h0.55v0.55h-0.55zM424.2,69.8h0.55v0.55h-0.55zM438.1,55.7h0.55v0.55h-0.55zM446.1,34.8h0.55v0.55h-0.55zM413.2,53.3h0.55v0.55h-0.55zM422.9,64.2h0.55v0.55h-0.55zM446.6,44.6h0.55v0.55h-0.55zM430.0,71.6h0.55v0.55h-0.55zM420.1,57.1h0.55v0.55h-0.55zM441.4,30.2h0.55v0.55h-0.55zM456.1,56.0h0.55v0.55h-0.55zM426.8,49.8h0.55v0.55h-0.55zM412.6,38.6h0.55v0.55h-0.55zM413.4,53.8h0.55v0.55h-0.55zM439.8,62.0h0.55v0.55h-0.55zM449.3,58.8h0.55v0.55h-0.55zM456.6,47.4h0.55v0.55h-0.55zM445.5,54.3h0.55v0.55h-0.55zM445.9,57.4h0.55v0.55h-0.55zM414.1,51.5h0.55v0.55h-0.55zM444.6,41.3h0.55v0.55h-0.55zM423.0,42.5h0.55v0.55h-0.55zM412.2,51.7h0.55v0.55h-0.55zM442.5,43.2h0.55v0.55h-0.55zM428.4,66.1h0.55v0.55h-0.55zM442.3,34.4h0.55v0.55h-0.55zM417.7,67.7h0.55v0.55h-0.55zM439.1,34.6h0.55v0.55h-0.55zM430.4,44.4h0.55v0.55h-0.55zM437.6,65.7h0.55v0.55h-0.55zM447.4,41.3h0.55v0.55h-0.55zM418.7,32.3h0.55v0.55h-0.55zM420.1,56.7h0.55v0.55h-0.55zM440.4,50.7h0.55v0.55h-0.55zM444.8,32.4h0.55v0.55h-0.55zM414.7,35.4h0.55v0.55h-0.55zM442.9,56.7h0.55v0.55h-0.55zM425.5,66.0h0.55v0.55h-0.55zM420.5,68.6h0.55v0.55h-0.55zM441.2,55.9h0.55v0.55h-0.55zM419.2,39.3h0.55v0.55h-0.55zM412.4,45.5h0.55v0.55h-0.55zM446.0,43.1h0.55v0.55h-0.55zM447.0,44.1h0.55v0.55h-0.55zM441.5,42.8h0.55v0.55h-0.55zM437.7,56.4h0.55v0.55h-0.55zM431.6,40.4h0.55v0.55h-0.55zM436.3,50.7h0.55v0.55h-0.55zM409.3,58.9h0.55v0.55h-0.55zM451.9,46.4h0.55v0.55h-0.55zM427.4,56.4h0.55v0.55h-0.55zM431.4,42.2h0.55v0.55h-0.55zM455.9,56.7h0.55v0.55h-0.55zM432.0,47.2h0.55v0.55h-0.55zM436.2,64.1h0.55v0.55h-0.55zM426.3,38.1h0.55v0.55h-0.55zM436.8,56.7h0.55v0.55h-0.55zM439.7,30.6h0.55v0.55h-0.55zM422.2,44.5h0.55v0.55h-0.55zM416.1,51.3h0.55v0.55h-0.55zM424.0,47.6h0.55v0.55h-0.55zM452.9,52.9h0.55v0.55h-0.55zM421.1,55.3h0.55v0.55h-0.55zM414.5,63.4h0.55v0.55h-0.55zM426.0,44.4h0.55v0.55h-0.55zM447.9,34.9h0.55v0.55h-0.55zM431.0,33.7h0.55v0.55h-0.55zM425.1,43.3h0.55v0.55h-0.55zM416.9,34.2h0.55v0.55h-0.55zM414.7,47.5h0.55v0.55h-0.55zM440.3,68.0h0.55v0.55h-0.55zM431.4,34.7h0.55v0.55h-0.55zM410.2,53.8h0.55v0.55h-0.55zM442.3,64.4h0.55v0.55h-0.55zM411.5,50.1h0.55v0.55h-0.55zM447.3,43.2h0.55v0.55h-0.55zM418.4,33.9h0.55v0.55h-0.55zM431.5,40.0h0.55v0.55h-0.55zM439.9,48.5h0.55v0.55h-0.55zM439.4,34.8h0.55v0.55h-0.55zM435.3,50.7h0.55v0.55h-0.55zM441.2,40.0h0.55v0.55h-0.55zM413.8,36.7h0.55v0.55h-0.55zM439.1,66.7h0.55v0.55h-0.55zM434.3,51.7h0.55v0.55h-0.55zM432.3,69.2h0.55v0.55h-0.55zM424.4,40.8h0.55v0.55h-0.55zM416.5,43.5h0.55v0.55h-0.55zM418.1,61.0h0.55v0.55h-0.55zM421.4,41.7h0.55v0.55h-0.55zM434.9,35.9h0.55v0.55h-0.55zM432.4,29.1h0.55v0.55h-0.55zM420.4,65.6h0.55v0.55h-0.55zM432.7,56.0h0.55v0.55h-0.55zM420.5,34.8h0.55v0.55h-0.55zM449.0,49.5h0.55v0.55h-0.55zM423.1,53.7h0.55v0.55h-0.55zM446.6,60.0h0.55v0.55h-0.55zM418.5,67.8h0.55v0.55h-0.55zM427.0,42.7h0.55v0.55h-0.55zM434.7,52.2h0.55v0.55h-0.55zM420.9,31.1h0.55v0.55h-0.55zM431.1,29.0h0.55v0.55h-0.55zM454.0,50.4h0.55v0.55h-0.55zM448.7,65.8h0.55v0.55h-0.55zM453.8,41.3h0.55v0.55h-0.55zM439.1,56.7h0.55v0.55h-0.55zM454.6,40.6h0.55v0.55h-0.55zM440.1,62.8h0.55v0.55h-0.55zM434.2,31.1h0.55v0.55h-0.55zM428.0,40.9h0.55v0.55h-0.55zM428.7,67.1h0.55v0.55h-0.55zM436.5,51.9h0.55v0.55h-0.55zM440.5,47.0h0.55v0.55h-0.55zM448.5,66.9h0.55v0.55h-0.55zM430.7,52.1h0.55v0.55h-0.55zM431.8,34.5h0.55v0.55h-0.55zM450.6,51.5h0.55v0.55h-0.55zM447.4,37.9h0.55v0.55h-0.55zM430.9,54.5h0.55v0.55h-0.55zM450.7,43.2h0.55v0.55h-0.55zM406.7,48.8h0.55v0.55h-0.55zM417.8,36.7h0.55v0.55h-0.55zM416.9,66.2h0.55v0.55h-0.55zM428.1,42.6h0.55v0.55h-0.55zM422.2,53.8h0.55v0.55h-0.55zM432.0,56.9h0.55v0.55h-0.55zM446.4,64.8h0.55v0.55h-0.55zM424.8,50.4h0.55v0.55h-0.55zM448.8,60.7h0.55v0.55h-0.55zM413.4,50.6h0.55v0.55h-0.55zM426.2,55.2h0.55v0.55h-0.55zM419.5,55.6h0.55v0.55h-0.55zM434.7,55.4h0.55v0.55h-0.55z" fill="#b8b8b8"/>
<path d="M447.6,48.0h0.55v0.55h-0.55zM451.0,46.1h0.55v0.55h-0.55zM435.1,39.0h0.55v0.55h-0.55zM445.5,43.8h0.55v0.55h-0.55zM448.9,35.6h0.55v0.55h-0.55zM439.4,32.7h0.55v0.55h-0.55zM431.9,39.8h0.55v0.55h-0.55zM424.7,37.0h0.55v0.55h-0.55zM451.3,33.6h0.55v0.55h-0.55zM437.6,30.7h0.55v0.55h-0.55zM448.6,32.0h0.55v0.55h-0.55zM428.5,44.9h0.55v0.55h-0.55zM437.9,41.1h0.55v0.55h-0.55zM443.9,39.9h0.55v0.55h-0.55zM437.3,33.1h0.55v0.55h-0.55zM427.1,34.1h0.55v0.55h-0.55zM430.8,36.4h0.55v0.55h-0.55zM454.1,34.3h0.55v0.55h-0.55zM426.7,35.4h0.55v0.55h-0.55zM426.7,46.6h0.55v0.55h-0.55zM456.3,41.0h0.55v0.55h-0.55zM438.3,37.7h0.55v0.55h-0.55zM445.5,34.8h0.55v0.55h-0.55zM440.8,37.8h0.55v0.55h-0.55zM446.1,47.4h0.55v0.55h-0.55zM445.7,32.8h0.55v0.55h-0.55zM443.4,44.6h0.55v0.55h-0.55zM441.4,31.3h0.55v0.55h-0.55zM425.4,40.8h0.55v0.55h-0.55zM447.8,39.9h0.55v0.55h-0.55zM448.2,41.0h0.55v0.55h-0.55zM451.6,34.3h0.55v0.55h-0.55zM451.9,45.0h0.55v0.55h-0.55zM426.1,34.5h0.55v0.55h-0.55zM432.6,45.7h0.55v0.55h-0.55zM445.0,31.4h0.55v0.55h-0.55zM448.5,36.1h0.55v0.55h-0.55zM453.1,35.6h0.55v0.55h-0.55zM425.7,36.6h0.55v0.55h-0.55zM438.6,38.6h0.55v0.55h-0.55zM441.3,32.2h0.55v0.55h-0.55zM457.5,39.7h0.55v0.55h-0.55zM432.3,33.4h0.55v0.55h-0.55zM427.7,43.4h0.55v0.55h-0.55zM441.0,44.2h0.55v0.55h-0.55zM452.5,36.5h0.55v0.55h-0.55zM449.5,46.1h0.55v0.55h-0.55zM451.8,40.7h0.55v0.55h-0.55zM428.9,41.5h0.55v0.55h-0.55zM442.0,42.2h0.55v0.55h-0.55zM436.9,31.0h0.55v0.55h-0.55zM433.5,34.0h0.55v0.55h-0.55zM446.0,34.7h0.55v0.55h-0.55zM449.4,40.7h0.55v0.55h-0.55zM436.0,42.3h0.55v0.55h-0.55zM454.0,36.6h0.55v0.55h-0.55zM432.4,47.8h0.55v0.55h-0.55zM439.2,38.1h0.55v0.55h-0.55zM453.1,35.5h0.55v0.55h-0.55zM452.2,36.7h0.55v0.55h-0.55zM456.8,40.6h0.55v0.55h-0.55zM432.7,37.3h0.55v0.55h-0.55zM425.1,42.6h0.55v0.55h-0.55zM438.0,41.3h0.55v0.55h-0.55zM453.9,39.0h0.55v0.55h-0.55zM423.0,42.0h0.55v0.55h-0.55zM425.1,42.0h0.55v0.55h-0.55zM441.5,39.0h0.55v0.55h-0.55zM445.8,31.8h0.55v0.55h-0.55zM434.9,34.1h0.55v0.55h-0.55zM429.8,32.4h0.55v0.55h-0.55zM430.0,47.1h0.55v0.55h-0.55zM457.2,42.3h0.55v0.55h-0.55zM434.2,44.4h0.55v0.55h-0.55zM425.2,38.1h0.55v0.55h-0.55zM454.9,36.9h0.55v0.55h-0.55zM427.9,41.7h0.55v0.55h-0.55zM444.5,45.4h0.55v0.55h-0.55zM430.0,40.1h0.55v0.55h-0.55zM426.9,33.6h0.55v0.55h-0.55zM451.4,39.4h0.55v0.55h-0.55zM452.6,42.9h0.55v0.55h-0.55zM448.2,35.5h0.55v0.55h-0.55zM436.5,42.4h0.55v0.55h-0.55zM439.6,30.4h0.55v0.55h-0.55zM434.4,37.8h0.55v0.55h-0.55zM449.5,43.7h0.55v0.55h-0.55zM439.7,39.1h0.55v0.55h-0.55zM454.9,39.4h0.55v0.55h-0.55zM428.4,40.1h0.55v0.55h-0.55zM439.6,41.1h0.55v0.55h-0.55zM434.5,40.1h0.55v0.55h-0.55zM423.5,43.4h0.55v0.55h-0.55zM454.0,44.7h0.55v0.55h-0.55zM439.7,38.5h0.55v0.55h-0.55zM448.7,34.4h0.55v0.55h-0.55zM433.0,41.9h0.55v0.55h-0.55zM455.5,40.2h0.55v0.55h-0.55zM444.4,36.9h0.55v0.55h-0.55zM438.5,31.9h0.55v0.55h-0.55zM434.6,33.8h0.55v0.55h-0.55zM436.5,43.2h0.55v0.55h-0.55zM426.8,42.4h0.55v0.55h-0.55zM455.8,41.2h0.55v0.55h-0.55zM440.7,47.2h0.55v0.55h-0.55zM440.2,41.8h0.55v0.55h-0.55zM426.4,43.7h0.55v0.55h-0.55zM444.1,46.7h0.55v0.55h-0.55zM434.0,31.3h0.55v0.55h-0.55zM430.2,34.7h0.55v0.55h-0.55zM433.9,43.0h0.55v0.55h-0.55zM430.7,48.5h0.55v0.55h-0.55zM430.2,41.1h0.55v0.55h-0.55zM430.9,44.3h0.55v0.55h-0.55zM444.0,44.6h0.55v0.55h-0.55zM436.5,33.2h0.55v0.55h-0.55zM433.6,47.1h0.55v0.55h-0.55zM440.1,33.5h0.55v0.55h-0.55zM424.8,40.4h0.55v0.55h-0.55zM452.0,43.5h0.55v0.55h-0.55zM437.9,36.0h0.55v0.55h-0.55zM452.8,37.0h0.55v0.55h-0.55zM451.9,39.2h0.55v0.55h-0.55zM437.5,49.8h0.55v0.55h-0.55zM450.6,43.9h0.55v0.55h-0.55zM445.7,42.9h0.55v0.55h-0.55zM451.6,44.0h0.55v0.55h-0.55zM434.7,41.9h0.55v0.55h-0.55zM437.2,34.1h0.55v0.55h-0.55zM437.0,40.3h0.55v0.55h-0.55zM427.7,40.9h0.55v0.55h-0.55zM454.2,44.0h0.55v0.55h-0.55zM445.7,41.4h0.55v0.55h-0.55zM425.7,42.1h0.55v0.55h-0.55zM448.3,44.5h0.55v0.55h-0.55zM449.7,35.2h0.55v0.55h-0.55zM445.3,47.9h0.55v0.55h-0.55zM433.7,41.1h0.55v0.55h-0.55zM437.0,46.3h0.55v0.55h-0.55zM446.8,48.2h0.55v0.55h-0.55zM447.6,46.2h0.55v0.55h-0.55zM450.5,39.9h0.55v0.55h-0.55zM441.1,40.9h0.55v0.55h-0.55zM433.0,38.2h0.55v0.55h-0.55zM424.3,44.0h0.55v0.55h-0.55zM432.7,39.8h0.55v0.55h-0.55zM438.0,39.6h0.55v0.55h-0.55zM441.7,31.0h0.55v0.55h-0.55zM446.9,32.6h0.55v0.55h-0.55zM430.1,45.0h0.55v0.55h-0.55zM427.3,45.0h0.55v0.55h-0.55zM422.5,39.7h0.55v0.55h-0.55zM437.7,35.0h0.55v0.55h-0.55zM433.8,46.8h0.55v0.55h-0.55zM429.8,34.1h0.55v0.55h-0.55zM437.8,38.0h0.55v0.55h-0.55zM437.4,40.5h0.55v0.55h-0.55zM442.7,34.9h0.55v0.55h-0.55zM440.6,41.1h0.55v0.55h-0.55zM451.4,35.3h0.55v0.55h-0.55z" fill="#aaa"/>
<path d="M409,60 C412,55 422,55 430,58 C436,60 438,56 446,56 C454,57 456,63 452,67 C447,70 440,69 435,70 C430,72 416,72 411,69 Z" fill="#dcdcdc" filter="url(#b1)"/>
<path d="M410,37 C412,34 420,34 426,34.5 C431,35 433,38 432,42 C431,46 428,48 422,48.5 C416,49 411,47 410,43 Z" fill="#d8d8d8" filter="url(#b1)"/>
<path d="M431.82,64.00 L432.10,66.07 L430.12,67.70 L429.58,70.06 L426.15,70.52 L423.64,71.82 L420.50,72.75 L417.46,71.55 L413.88,71.64 L411.58,69.94 L410.00,68.04 L408.58,66.13 L408.27,64.00 L409.27,61.99 L408.97,59.56 L412.19,58.46 L413.86,56.33 L417.15,55.67 L420.50,56.83 L423.44,56.68 L426.47,57.11 L429.57,57.95 L430.16,60.28 L432.39,61.88 Z" fill="none" stroke="#666" stroke-width="0.5" stroke-linejoin="round"/>
<path d="M430.30,64.00 L430.86,65.85 L430.06,67.68 L428.05,69.03 L425.21,69.44 L423.26,70.87 L420.50,70.64 L417.69,70.98 L415.49,69.79 L412.72,69.18 L410.82,67.72 L410.05,65.87 L409.68,64.00 L410.06,62.14 L411.58,60.57 L413.87,59.58 L414.91,57.55 L417.91,57.55 L420.50,57.99 L423.08,57.59 L425.45,58.28 L427.17,59.55 L430.13,60.29 L429.42,62.41 Z" fill="none" stroke="#666" stroke-width="0.5" stroke-linejoin="round"/>
<path d="M429.42,64.00 L428.50,65.43 L427.09,66.54 L426.11,67.74 L424.55,68.68 L422.44,68.83 L420.50,69.78 L418.31,69.45 L415.97,69.23 L414.29,68.14 L412.96,66.90 L411.72,65.57 L411.53,64.00 L412.34,62.54 L413.35,61.25 L414.68,60.12 L416.12,58.94 L418.18,58.23 L420.50,58.14 L422.78,58.33 L424.17,59.76 L426.19,60.21 L426.95,61.52 L428.56,62.56 Z" fill="none" stroke="#666" stroke-width="0.5" stroke-linejoin="round"/>
<path d="M426.90,64.00 L426.65,65.10 L426.37,66.26 L424.68,66.78 L423.80,67.81 L422.16,68.12 L420.50,67.93 L418.70,68.47 L417.67,67.27 L416.09,66.94 L415.01,66.11 L414.30,65.11 L413.55,64.00 L414.36,62.90 L414.59,61.73 L416.26,61.17 L417.37,60.39 L419.00,60.27 L420.50,59.68 L422.10,60.02 L423.84,60.14 L424.57,61.29 L425.90,61.92 L427.18,62.81 Z" fill="none" stroke="#666" stroke-width="0.5" stroke-linejoin="round"/>
<path d="M424.41,64.00 L424.88,64.78 L424.44,65.52 L423.75,66.17 L422.72,66.56 L421.63,66.82 L420.50,67.22 L419.42,66.69 L418.21,66.64 L417.29,66.14 L416.52,65.53 L416.29,64.75 L416.58,64.00 L416.01,63.20 L416.89,62.61 L417.21,61.81 L418.07,61.20 L419.30,61.01 L420.50,61.14 L421.72,60.96 L422.64,61.53 L423.48,62.02 L424.35,62.52 L424.87,63.22 Z" fill="none" stroke="#666" stroke-width="0.5" stroke-linejoin="round"/>
<path d="M423.08,64.00 L422.92,64.43 L422.60,64.81 L422.34,65.23 L421.69,65.37 L421.16,65.63 L420.50,65.47 L419.91,65.47 L419.16,65.55 L418.86,65.09 L418.40,64.81 L418.34,64.39 L417.88,64.00 L418.20,63.59 L418.57,63.26 L418.84,62.89 L419.14,62.43 L419.82,62.32 L420.50,62.53 L421.20,62.25 L421.62,62.70 L422.24,62.84 L422.66,63.17 L423.04,63.55 Z" fill="none" stroke="#666" stroke-width="0.5" stroke-linejoin="round"/>
<path d="M456.45,62.50 L454.34,63.95 L454.68,65.75 L452.84,66.87 L451.44,68.39 L448.78,68.37 L446.50,69.27 L444.35,68.04 L441.51,68.45 L440.26,66.80 L439.25,65.38 L438.10,64.05 L437.24,62.50 L438.70,61.06 L438.90,59.48 L440.82,58.59 L442.43,57.64 L444.34,56.95 L446.50,56.67 L448.71,56.81 L451.28,56.80 L452.75,58.20 L454.91,59.16 L455.96,60.75 Z" fill="none" stroke="#666" stroke-width="0.5" stroke-linejoin="round"/>
<path d="M454.44,62.50 L454.25,63.93 L452.93,65.06 L451.86,66.19 L450.46,67.22 L448.41,67.41 L446.50,67.13 L444.60,67.38 L442.82,66.89 L441.70,65.81 L440.74,64.79 L439.94,63.71 L438.88,62.50 L438.96,61.11 L439.96,59.90 L441.42,59.00 L443.23,58.60 L444.82,58.17 L446.50,57.30 L448.40,57.61 L450.12,58.19 L451.29,59.20 L452.30,60.19 L453.06,61.29 Z" fill="none" stroke="#666" stroke-width="0.5" stroke-linejoin="round"/>
<path d="M451.65,62.50 L452.03,63.52 L451.15,64.35 L450.51,65.26 L449.26,65.79 L447.97,66.27 L446.50,66.57 L444.96,66.46 L443.91,65.59 L442.14,65.51 L441.27,64.58 L440.71,63.57 L440.95,62.50 L440.55,61.40 L441.31,60.44 L442.77,59.93 L443.58,59.02 L444.94,58.48 L446.50,58.42 L448.08,58.44 L449.32,59.14 L450.61,59.67 L450.90,60.75 L452.11,61.46 Z" fill="none" stroke="#666" stroke-width="0.5" stroke-linejoin="round"/>
<path d="M450.10,62.50 L450.46,63.23 L450.18,63.96 L449.18,64.35 L448.27,64.61 L447.41,64.84 L446.50,65.20 L445.57,64.90 L444.44,64.95 L443.67,64.45 L443.12,63.85 L442.59,63.22 L442.89,62.50 L442.76,61.81 L443.46,61.29 L443.71,60.58 L444.42,60.02 L445.57,60.10 L446.50,59.70 L447.62,59.62 L448.38,60.26 L449.08,60.72 L449.70,61.23 L450.55,61.75 Z" fill="none" stroke="#666" stroke-width="0.5" stroke-linejoin="round"/>
<path d="M448.50,62.50 L448.76,62.92 L448.31,63.22 L448.15,63.64 L447.70,63.93 L447.12,64.08 L446.50,63.92 L445.92,63.98 L445.44,63.76 L444.81,63.66 L444.67,63.23 L444.52,62.86 L444.34,62.50 L444.56,62.14 L444.70,61.79 L444.87,61.38 L445.44,61.23 L445.97,61.13 L446.50,60.83 L447.04,61.11 L447.68,61.10 L448.12,61.38 L448.44,61.73 L448.70,62.09 Z" fill="none" stroke="#666" stroke-width="0.5" stroke-linejoin="round"/>
<path d="M430,60 C434,58 438,58 440,59 M430,66 C434,67 437,67 439,66" fill="none" stroke="#666" stroke-width="0.5"/>
<path d="M421.73,41.30 L421.83,43.14 L420.81,44.57 L420.13,46.16 L419.04,47.52 L417.46,47.70 L416.00,48.21 L414.48,47.97 L413.00,47.43 L412.41,45.53 L411.47,44.38 L410.05,43.18 L410.12,41.30 L410.85,39.67 L410.92,37.84 L412.30,36.94 L413.28,35.74 L414.57,35.00 L416.00,35.06 L417.34,35.39 L418.80,35.58 L420.08,36.50 L420.67,38.12 L421.58,39.54 Z" fill="none" stroke="#555" stroke-width="0.55" stroke-linejoin="round"/>
<path d="M420.71,41.30 L419.78,42.49 L419.56,43.72 L418.79,44.59 L418.23,45.84 L417.09,46.11 L416.00,46.30 L414.94,45.95 L413.73,45.93 L412.80,45.07 L412.32,43.81 L411.58,42.70 L411.93,41.30 L411.98,40.03 L411.94,38.54 L413.13,37.91 L414.00,37.23 L414.99,36.87 L416.00,36.06 L417.18,36.09 L417.96,37.31 L419.03,37.73 L419.64,38.82 L420.01,40.03 Z" fill="none" stroke="#555" stroke-width="0.55" stroke-linejoin="round"/>
<path d="M418.84,41.30 L418.83,42.19 L418.41,42.94 L418.30,44.01 L417.41,44.17 L416.78,44.73 L416.00,44.93 L415.20,44.82 L414.51,44.34 L413.87,43.81 L413.18,43.22 L413.30,42.15 L413.18,41.30 L413.22,40.42 L413.28,39.45 L413.91,38.84 L414.54,38.31 L415.29,38.18 L416.00,38.03 L416.80,37.79 L417.42,38.41 L418.10,38.82 L418.46,39.63 L418.78,40.42 Z" fill="none" stroke="#555" stroke-width="0.55" stroke-linejoin="round"/>
<path d="M417.59,41.30 L417.77,41.86 L417.50,42.32 L417.19,42.71 L416.80,42.93 L416.47,43.36 L416.00,43.32 L415.59,43.09 L415.21,42.92 L414.70,42.84 L414.59,42.26 L414.39,41.81 L414.44,41.30 L414.24,40.74 L414.61,40.35 L414.79,39.87 L415.12,39.49 L415.56,39.36 L416.00,39.35 L416.42,39.47 L416.88,39.51 L417.14,39.96 L417.50,40.28 L417.78,40.74 Z" fill="none" stroke="#555" stroke-width="0.55" stroke-linejoin="round"/>
<path d="M432.41,40.80 L431.48,42.24 L431.38,43.83 L430.52,45.03 L429.73,46.47 L428.26,46.46 L427.00,46.74 L425.69,46.69 L424.56,45.87 L423.17,45.39 L422.34,44.03 L421.95,42.42 L422.44,40.80 L421.70,39.09 L422.63,37.77 L423.40,36.47 L424.48,35.56 L425.70,34.99 L427.00,34.28 L428.24,35.27 L429.32,35.98 L430.89,36.13 L431.12,37.94 L431.62,39.32 Z" fill="none" stroke="#666" stroke-width="0.5" stroke-linejoin="round"/>
<path d="M430.44,40.80 L430.63,41.97 L429.94,42.84 L429.22,43.47 L428.66,44.25 L427.85,44.62 L427.00,44.58 L426.03,45.16 L425.18,44.59 L424.72,43.54 L424.14,42.78 L423.31,41.99 L423.38,40.80 L423.67,39.73 L423.93,38.68 L424.30,37.56 L425.35,37.37 L426.07,36.65 L427.00,37.02 L427.90,36.77 L428.65,37.37 L429.39,37.94 L429.95,38.75 L430.32,39.73 Z" fill="none" stroke="#666" stroke-width="0.5" stroke-linejoin="round"/>
<path d="M429.13,40.80 L428.85,41.40 L428.54,41.87 L428.49,42.58 L428.07,43.02 L427.54,43.24 L427.00,43.07 L426.51,43.02 L425.96,42.96 L425.72,42.33 L425.44,41.88 L425.10,41.41 L425.14,40.80 L425.11,40.19 L425.41,39.70 L425.48,38.97 L426.02,38.75 L426.51,38.59 L427.00,38.53 L427.49,38.62 L428.04,38.64 L428.48,39.03 L428.80,39.55 L429.07,40.14 Z" fill="none" stroke="#666" stroke-width="0.5" stroke-linejoin="round"/>
<path d="M431.63,52.50 L432.44,53.77 L431.14,54.51 L430.95,55.80 L430.00,56.64 L428.76,57.01 L427.50,56.68 L426.35,56.59 L425.07,56.52 L423.87,55.97 L423.35,54.79 L423.01,53.65 L423.03,52.50 L423.16,51.39 L423.30,50.18 L424.31,49.44 L425.18,48.66 L426.27,48.11 L427.50,47.95 L428.55,48.74 L429.65,48.95 L430.92,49.23 L431.55,50.26 L432.32,51.26 Z" fill="none" stroke="#555" stroke-width="0.5" stroke-linejoin="round"/>
<path d="M430.35,52.50 L430.39,53.24 L430.28,54.03 L429.91,54.80 L428.98,54.95 L428.38,55.66 L427.50,55.50 L426.71,55.32 L425.76,55.37 L425.46,54.46 L424.42,54.20 L424.55,53.26 L424.40,52.50 L424.63,51.77 L424.75,50.98 L425.04,50.15 L426.01,50.03 L426.66,49.50 L427.50,49.48 L428.29,49.68 L428.95,50.09 L429.88,50.22 L430.22,51.00 L430.57,51.71 Z" fill="none" stroke="#555" stroke-width="0.5" stroke-linejoin="round"/>
<path d="M429.36,52.50 L429.08,52.90 L429.19,53.44 L428.91,53.85 L428.35,53.91 L428.01,54.31 L427.50,54.32 L427.05,54.09 L426.65,53.91 L426.35,53.60 L425.96,53.35 L425.77,52.94 L425.69,52.50 L425.76,52.05 L425.91,51.62 L426.34,51.39 L426.66,51.10 L427.02,50.80 L427.50,50.78 L427.93,50.96 L428.36,51.08 L428.93,51.13 L429.19,51.57 L429.35,52.03 Z" fill="none" stroke="#555" stroke-width="0.5" stroke-linejoin="round"/>
<path d="M414,48 C414,52 416,55 418,57 M433,45 C436,50 438,53 440,56 M420,47 C421,50 422,53 423,56" fill="none" stroke="#777" stroke-width="0.45"/>
</g>
<clipPath id="cB30"><rect x="463.1" y="22.8" width="54.69999999999993" height="51.900000000000006"/></clipPath>
<g clip-path="url(#cB30)">
<path d="M502.1,49.4h0.55v0.55h-0.55zM481.2,63.0h0.55v0.55h-0.55zM470.1,61.3h0.55v0.55h-0.55zM481.1,61.1h0.55v0.55h-0.55zM508.8,59.3h0.55v0.55h-0.55zM484.3,52.0h0.55v0.55h-0.55zM496.3,60.6h0.55v0.55h-0.55zM485.3,56.1h0.55v0.55h-0.55zM491.9,50.2h0.55v0.55h-0.55zM473.3,58.9h0.55v0.55h-0.55zM469.2,59.7h0.55v0.55h-0.55zM505.7,66.2h0.55v0.55h-0.55zM477.1,54.6h0.55v0.55h-0.55zM512.0,52.8h0.55v0.55h-0.55zM498.7,65.6h0.55v0.55h-0.55zM492.5,60.7h0.55v0.55h-0.55zM473.3,57.6h0.55v0.55h-0.55zM466.1,53.6h0.55v0.55h-0.55zM471.5,47.5h0.55v0.55h-0.55zM496.5,45.4h0.55v0.55h-0.55zM506.3,49.8h0.55v0.55h-0.55zM467.8,60.4h0.55v0.55h-0.55zM501.3,60.7h0.55v0.55h-0.55zM492.5,58.0h0.55v0.55h-0.55zM501.4,51.7h0.55v0.55h-0.55zM507.8,62.4h0.55v0.55h-0.55zM507.7,57.5h0.55v0.55h-0.55zM491.2,63.5h0.55v0.55h-0.55zM494.1,43.8h0.55v0.55h-0.55zM489.2,55.7h0.55v0.55h-0.55zM468.9,59.2h0.55v0.55h-0.55zM494.7,65.8h0.55v0.55h-0.55zM495.8,51.6h0.55v0.55h-0.55zM493.4,69.9h0.55v0.55h-0.55zM497.1,66.6h0.55v0.55h-0.55zM475.0,47.6h0.55v0.55h-0.55zM481.2,48.0h0.55v0.55h-0.55zM476.0,50.0h0.55v0.55h-0.55zM490.3,49.4h0.55v0.55h-0.55zM491.6,49.7h0.55v0.55h-0.55zM474.2,56.7h0.55v0.55h-0.55zM493.3,54.1h0.55v0.55h-0.55zM492.6,69.5h0.55v0.55h-0.55zM489.7,54.0h0.55v0.55h-0.55zM475.3,53.7h0.55v0.55h-0.55zM504.2,60.2h0.55v0.55h-0.55zM478.3,68.2h0.55v0.55h-0.55zM470.9,53.0h0.55v0.55h-0.55zM504.4,68.6h0.55v0.55h-0.55zM487.9,43.3h0.55v0.55h-0.55zM493.2,55.0h0.55v0.55h-0.55zM465.5,52.8h0.55v0.55h-0.55zM473.3,47.7h0.55v0.55h-0.55zM505.5,51.6h0.55v0.55h-0.55zM499.6,61.9h0.55v0.55h-0.55zM464.6,55.3h0.55v0.55h-0.55zM470.2,65.4h0.55v0.55h-0.55zM489.4,53.3h0.55v0.55h-0.55zM506.2,66.0h0.55v0.55h-0.55zM480.8,51.8h0.55v0.55h-0.55zM486.9,55.0h0.55v0.55h-0.55zM514.0,60.3h0.55v0.55h-0.55zM476.2,58.9h0.55v0.55h-0.55zM472.3,59.4h0.55v0.55h-0.55zM479.8,68.0h0.55v0.55h-0.55zM475.5,48.8h0.55v0.55h-0.55zM476.8,66.1h0.55v0.55h-0.55zM507.1,63.9h0.55v0.55h-0.55zM493.9,47.1h0.55v0.55h-0.55zM478.8,59.9h0.55v0.55h-0.55zM510.6,51.0h0.55v0.55h-0.55zM515.4,58.3h0.55v0.55h-0.55zM465.8,54.7h0.55v0.55h-0.55zM495.7,49.9h0.55v0.55h-0.55zM485.7,63.8h0.55v0.55h-0.55zM498.2,66.3h0.55v0.55h-0.55zM513.4,57.5h0.55v0.55h-0.55zM490.9,61.9h0.55v0.55h-0.55zM512.3,56.2h0.55v0.55h-0.55zM486.7,68.0h0.55v0.55h-0.55zM488.5,44.6h0.55v0.55h-0.55zM487.5,50.6h0.55v0.55h-0.55zM498.1,65.9h0.55v0.55h-0.55zM466.4,51.9h0.55v0.55h-0.55zM504.7,53.9h0.55v0.55h-0.55zM506.6,58.2h0.55v0.55h-0.55zM497.3,46.7h0.55v0.55h-0.55zM466.8,57.3h0.55v0.55h-0.55zM513.1,59.1h0.55v0.55h-0.55zM505.0,64.1h0.55v0.55h-0.55zM513.1,50.7h0.55v0.55h-0.55zM489.9,68.9h0.55v0.55h-0.55zM481.2,62.5h0.55v0.55h-0.55zM485.5,47.3h0.55v0.55h-0.55zM474.6,53.1h0.55v0.55h-0.55zM482.5,49.7h0.55v0.55h-0.55zM503.6,55.6h0.55v0.55h-0.55zM468.7,54.1h0.55v0.55h-0.55zM478.8,48.0h0.55v0.55h-0.55zM494.8,48.6h0.55v0.55h-0.55zM508.1,53.2h0.55v0.55h-0.55zM494.6,58.4h0.55v0.55h-0.55zM501.8,49.5h0.55v0.55h-0.55zM495.1,70.6h0.55v0.55h-0.55zM480.7,49.6h0.55v0.55h-0.55zM497.1,56.8h0.55v0.55h-0.55zM489.8,45.2h0.55v0.55h-0.55zM475.7,62.6h0.55v0.55h-0.55zM477.1,57.4h0.55v0.55h-0.55zM488.6,64.3h0.55v0.55h-0.55zM502.7,66.1h0.55v0.55h-0.55zM511.3,59.2h0.55v0.55h-0.55zM475.7,57.3h0.55v0.55h-0.55zM479.3,48.5h0.55v0.55h-0.55zM471.9,60.1h0.55v0.55h-0.55zM501.9,54.8h0.55v0.55h-0.55zM502.9,62.8h0.55v0.55h-0.55zM484.3,45.0h0.55v0.55h-0.55zM499.9,60.4h0.55v0.55h-0.55zM480.0,63.3h0.55v0.55h-0.55zM480.1,49.6h0.55v0.55h-0.55zM473.7,50.6h0.55v0.55h-0.55zM489.9,62.9h0.55v0.55h-0.55zM492.7,70.2h0.55v0.55h-0.55zM484.6,46.5h0.55v0.55h-0.55zM498.0,66.1h0.55v0.55h-0.55zM479.9,53.2h0.55v0.55h-0.55zM485.9,69.8h0.55v0.55h-0.55zM493.4,50.8h0.55v0.55h-0.55zM491.7,70.5h0.55v0.55h-0.55zM492.1,45.0h0.55v0.55h-0.55zM483.3,52.6h0.55v0.55h-0.55zM499.9,67.4h0.55v0.55h-0.55zM496.0,50.1h0.55v0.55h-0.55zM495.2,64.6h0.55v0.55h-0.55zM493.7,58.2h0.55v0.55h-0.55zM493.6,70.2h0.55v0.55h-0.55zM492.6,53.1h0.55v0.55h-0.55zM498.8,69.8h0.55v0.55h-0.55zM508.4,65.9h0.55v0.55h-0.55zM502.7,54.7h0.55v0.55h-0.55zM499.2,64.9h0.55v0.55h-0.55zM477.8,65.0h0.55v0.55h-0.55zM495.3,53.6h0.55v0.55h-0.55zM486.6,68.7h0.55v0.55h-0.55zM489.9,46.0h0.55v0.55h-0.55zM482.6,52.8h0.55v0.55h-0.55zM498.3,67.7h0.55v0.55h-0.55zM497.2,68.0h0.55v0.55h-0.55zM481.8,56.1h0.55v0.55h-0.55zM499.7,63.8h0.55v0.55h-0.55zM483.9,52.9h0.55v0.55h-0.55zM508.0,61.7h0.55v0.55h-0.55zM491.7,50.0h0.55v0.55h-0.55zM483.0,45.4h0.55v0.55h-0.55zM476.7,45.5h0.55v0.55h-0.55zM475.7,60.5h0.55v0.55h-0.55zM493.0,66.8h0.55v0.55h-0.55zM493.4,52.5h0.55v0.55h-0.55zM482.1,66.2h0.55v0.55h-0.55zM487.2,47.1h0.55v0.55h-0.55zM484.7,47.4h0.55v0.55h-0.55zM496.1,67.3h0.55v0.55h-0.55zM484.4,64.6h0.55v0.55h-0.55zM471.6,64.9h0.55v0.55h-0.55zM478.3,59.0h0.55v0.55h-0.55zM509.0,58.8h0.55v0.55h-0.55zM485.1,58.3h0.55v0.55h-0.55zM498.2,59.6h0.55v0.55h-0.55zM492.2,46.8h0.55v0.55h-0.55zM509.7,65.1h0.55v0.55h-0.55zM475.5,55.4h0.55v0.55h-0.55zM495.1,47.9h0.55v0.55h-0.55zM506.5,56.7h0.55v0.55h-0.55zM494.3,68.7h0.55v0.55h-0.55zM480.5,52.5h0.55v0.55h-0.55zM494.9,45.8h0.55v0.55h-0.55zM477.2,48.8h0.55v0.55h-0.55zM514.5,60.9h0.55v0.55h-0.55zM505.5,60.8h0.55v0.55h-0.55zM480.6,53.3h0.55v0.55h-0.55zM513.4,60.2h0.55v0.55h-0.55zM495.6,55.0h0.55v0.55h-0.55zM511.0,49.4h0.55v0.55h-0.55zM509.6,62.6h0.55v0.55h-0.55zM489.4,57.9h0.55v0.55h-0.55zM485.7,61.8h0.55v0.55h-0.55zM508.3,64.4h0.55v0.55h-0.55zM476.0,65.7h0.55v0.55h-0.55zM465.7,61.1h0.55v0.55h-0.55zM473.1,51.9h0.55v0.55h-0.55zM493.6,47.0h0.55v0.55h-0.55zM501.4,61.6h0.55v0.55h-0.55zM504.4,56.4h0.55v0.55h-0.55zM507.7,63.8h0.55v0.55h-0.55zM492.4,61.4h0.55v0.55h-0.55zM477.3,59.7h0.55v0.55h-0.55zM478.7,46.9h0.55v0.55h-0.55zM495.4,68.9h0.55v0.55h-0.55zM488.4,47.6h0.55v0.55h-0.55zM497.3,48.5h0.55v0.55h-0.55zM497.7,63.7h0.55v0.55h-0.55zM474.9,51.3h0.55v0.55h-0.55zM487.1,61.6h0.55v0.55h-0.55zM500.1,69.7h0.55v0.55h-0.55zM495.2,69.1h0.55v0.55h-0.55zM475.1,50.1h0.55v0.55h-0.55zM484.4,44.8h0.55v0.55h-0.55zM477.2,54.4h0.55v0.55h-0.55zM465.1,59.9h0.55v0.55h-0.55zM511.5,52.5h0.55v0.55h-0.55zM482.0,50.9h0.55v0.55h-0.55zM484.8,60.0h0.55v0.55h-0.55zM479.3,44.3h0.55v0.55h-0.55zM498.2,46.6h0.55v0.55h-0.55zM485.6,64.0h0.55v0.55h-0.55zM483.8,61.4h0.55v0.55h-0.55zM487.5,47.2h0.55v0.55h-0.55zM500.4,56.4h0.55v0.55h-0.55zM491.9,51.7h0.55v0.55h-0.55z" fill="#c4c4c4"/>
<path d="M469,56 C472,50 482,50 490,53 C496,55 500,51 507,52 C513,55 513,63 508,65 C502,67 496,64 490,64 C484,66 474,68 470,63 Z" fill="#f4f4f4"/>
<path d="M491.49,58.50 L491.23,60.72 L490.58,63.01 L487.84,64.29 L485.54,65.60 L483.09,67.03 L480.00,66.98 L477.11,66.48 L474.36,65.72 L472.15,64.31 L470.70,62.47 L468.60,60.76 L467.59,58.50 L468.47,56.22 L469.77,54.14 L472.13,52.68 L474.33,51.24 L477.24,50.87 L480.00,49.61 L482.86,50.62 L485.51,51.45 L488.91,51.91 L489.64,54.39 L492.17,56.09 Z" fill="none" stroke="#8a8a8a" stroke-width="0.45" stroke-linejoin="round"/>
<path d="M489.55,58.50 L489.48,60.38 L488.29,62.04 L486.17,63.06 L484.86,64.73 L482.30,64.84 L480.00,65.27 L477.76,64.67 L475.75,63.94 L473.58,63.25 L472.71,61.61 L471.19,60.24 L470.02,58.50 L470.09,56.54 L472.04,55.11 L473.92,54.01 L475.48,52.71 L477.80,52.42 L480.00,51.99 L482.47,51.68 L484.77,52.39 L485.98,54.08 L488.06,55.06 L488.87,56.74 Z" fill="none" stroke="#8a8a8a" stroke-width="0.45" stroke-linejoin="round"/>
<path d="M487.01,58.50 L486.41,59.77 L486.07,61.09 L484.66,61.94 L483.71,63.25 L481.91,63.76 L480.00,63.93 L478.18,63.52 L476.09,63.50 L475.07,62.14 L474.17,60.99 L473.26,59.84 L472.25,58.50 L473.56,57.22 L473.47,55.71 L474.49,54.43 L476.17,53.59 L478.16,53.42 L480.00,53.26 L481.99,53.01 L483.73,53.72 L485.37,54.53 L485.80,56.02 L487.07,57.10 Z" fill="none" stroke="#8a8a8a" stroke-width="0.45" stroke-linejoin="round"/>
<path d="M485.23,58.50 L484.57,59.40 L484.07,60.24 L483.77,61.29 L482.53,61.74 L481.27,62.00 L480.00,62.18 L478.77,61.89 L477.63,61.53 L476.75,60.90 L475.76,60.31 L475.52,59.39 L474.61,58.50 L474.74,57.46 L475.60,56.62 L476.76,56.11 L477.46,55.24 L478.80,55.18 L480.00,54.91 L481.20,55.20 L482.49,55.31 L483.23,56.11 L484.13,56.74 L484.56,57.60 Z" fill="none" stroke="#8a8a8a" stroke-width="0.45" stroke-linejoin="round"/>
<path d="M482.80,58.50 L482.96,59.09 L482.48,59.56 L482.11,60.06 L481.47,60.39 L480.73,60.53 L480.00,60.40 L479.33,60.34 L478.69,60.17 L478.00,59.98 L477.64,59.51 L477.04,59.09 L477.35,58.50 L477.48,58.00 L477.49,57.43 L477.96,56.99 L478.72,56.86 L479.29,56.55 L480.00,56.44 L480.78,56.36 L481.49,56.59 L482.14,56.92 L482.46,57.45 L482.96,57.91 Z" fill="none" stroke="#8a8a8a" stroke-width="0.45" stroke-linejoin="round"/>
<path d="M513.23,58.00 L511.67,59.57 L512.05,61.56 L509.70,62.36 L508.22,63.59 L506.37,64.78 L504.00,64.31 L501.80,64.29 L500.04,63.25 L497.44,63.02 L495.92,61.57 L496.33,59.57 L496.14,58.00 L495.83,56.33 L496.61,54.74 L497.66,53.15 L499.88,52.55 L501.76,51.61 L504.00,51.94 L506.07,52.08 L507.89,52.85 L510.07,53.36 L511.45,54.71 L512.40,56.28 Z" fill="none" stroke="#8a8a8a" stroke-width="0.45" stroke-linejoin="round"/>
<path d="M511.09,58.00 L510.06,59.24 L509.47,60.42 L508.58,61.50 L507.55,62.71 L505.62,62.63 L504.00,62.78 L502.34,62.75 L500.61,62.48 L499.59,61.37 L498.72,60.33 L497.41,59.35 L497.38,58.00 L497.60,56.69 L498.90,55.75 L499.62,54.65 L501.00,54.02 L502.36,53.31 L504.00,52.61 L505.85,52.71 L507.49,53.38 L508.49,54.56 L509.72,55.47 L510.80,56.61 Z" fill="none" stroke="#8a8a8a" stroke-width="0.45" stroke-linejoin="round"/>
<path d="M508.40,58.00 L508.30,58.88 L508.11,59.81 L507.11,60.38 L506.26,61.00 L505.14,61.27 L504.00,61.70 L502.82,61.37 L501.91,60.77 L501.10,60.22 L499.95,59.79 L499.95,58.83 L499.30,58.00 L499.85,57.15 L500.04,56.25 L500.89,55.62 L501.66,54.90 L502.91,54.89 L504.00,54.59 L505.21,54.54 L506.16,55.13 L507.53,55.30 L508.32,56.09 L508.80,57.02 Z" fill="none" stroke="#8a8a8a" stroke-width="0.45" stroke-linejoin="round"/>
<path d="M506.79,58.00 L506.70,58.55 L506.26,59.00 L505.94,59.48 L505.26,59.67 L504.61,59.73 L504.00,60.13 L503.28,60.06 L502.78,59.62 L502.23,59.35 L501.89,58.93 L501.41,58.53 L501.60,58.00 L501.36,57.46 L501.98,57.11 L502.22,56.64 L502.64,56.20 L503.34,56.11 L504.00,56.18 L504.60,56.28 L505.33,56.24 L505.66,56.73 L506.13,57.06 L506.53,57.48 Z" fill="none" stroke="#8a8a8a" stroke-width="0.45" stroke-linejoin="round"/>
<path d="M489,56 C492,55 495,55 497,57 M488,61 C491,62 494,62 497,60" fill="none" stroke="#888" stroke-width="0.45"/>
</g>
<rect x="283.30" y="27.90" width="24.00" height="17.30" fill="none" stroke="#999" stroke-width="0.6" />
<rect x="307.30" y="27.90" width="23.70" height="14.30" fill="none" stroke="#999" stroke-width="0.6" />
<text x="285.00" y="34.40" font-size="6.3" font-weight="bold" textLength="11.50" lengthAdjust="spacingAndGlyphs" >15.5</text>
<text x="329.40" y="34.40" font-size="6.3" font-weight="bold" text-anchor="end" textLength="8.50" lengthAdjust="spacingAndGlyphs" >3.4</text>
<rect x="340.80" y="27.90" width="24.10" height="17.60" fill="none" stroke="#999" stroke-width="0.6" />
<rect x="364.90" y="27.90" width="23.40" height="13.80" fill="none" stroke="#999" stroke-width="0.6" />
<text x="341.60" y="34.40" font-size="6.3" font-weight="bold" textLength="12.00" lengthAdjust="spacingAndGlyphs" >17.7</text>
<text x="386.20" y="34.40" font-size="6.3" font-weight="bold" text-anchor="end" textLength="8.00" lengthAdjust="spacingAndGlyphs" >3.7</text>
<rect x="407.80" y="28.70" width="25.30" height="19.10" fill="none" stroke="#999" stroke-width="0.6" />
<rect x="433.10" y="28.70" width="25.30" height="15.30" fill="none" stroke="#999" stroke-width="0.6" />
<text x="408.80" y="34.40" font-size="6.3" font-weight="bold" textLength="9.00" lengthAdjust="spacingAndGlyphs" >9.2</text>
<text x="456.00" y="34.40" font-size="6.3" font-weight="bold" text-anchor="end" textLength="8.00" lengthAdjust="spacingAndGlyphs" >0.4</text>
<rect x="467.40" y="28.70" width="22.90" height="18.30" fill="none" stroke="#999" stroke-width="0.6" />
<rect x="491.40" y="28.70" width="24.00" height="14.50" fill="none" stroke="#999" stroke-width="0.6" />
<text x="468.30" y="34.40" font-size="6.3" font-weight="bold" textLength="8.60" lengthAdjust="spacingAndGlyphs" >2.9</text>
<text x="514.40" y="34.40" font-size="6.3" font-weight="bold" text-anchor="end" textLength="7.20" lengthAdjust="spacingAndGlyphs" >0.7</text>
<clipPath id="cB01"><rect x="280.6" y="88.5" width="56.0" height="52.099999999999994"/></clipPath>
<g clip-path="url(#cB01)">
<path d="M300.5,116.0h0.55v0.55h-0.55zM302.9,123.8h0.55v0.55h-0.55zM292.0,127.3h0.55v0.55h-0.55zM287.4,115.4h0.55v0.55h-0.55zM292.4,116.4h0.55v0.55h-0.55zM297.4,121.7h0.55v0.55h-0.55zM291.7,117.8h0.55v0.55h-0.55zM288.4,130.1h0.55v0.55h-0.55zM302.1,119.8h0.55v0.55h-0.55zM300.1,118.8h0.55v0.55h-0.55zM299.2,116.7h0.55v0.55h-0.55zM295.4,121.4h0.55v0.55h-0.55zM301.4,131.3h0.55v0.55h-0.55zM293.2,116.0h0.55v0.55h-0.55zM284.4,127.6h0.55v0.55h-0.55zM297.9,130.7h0.55v0.55h-0.55zM293.7,123.7h0.55v0.55h-0.55zM297.6,130.1h0.55v0.55h-0.55zM287.1,131.6h0.55v0.55h-0.55zM299.3,122.8h0.55v0.55h-0.55zM295.7,137.3h0.55v0.55h-0.55zM291.3,115.7h0.55v0.55h-0.55zM297.8,135.3h0.55v0.55h-0.55zM287.1,131.4h0.55v0.55h-0.55zM291.8,129.2h0.55v0.55h-0.55zM293.5,136.6h0.55v0.55h-0.55zM295.5,137.1h0.55v0.55h-0.55zM286.9,126.2h0.55v0.55h-0.55zM285.1,120.2h0.55v0.55h-0.55zM295.7,134.4h0.55v0.55h-0.55zM291.3,130.1h0.55v0.55h-0.55zM295.9,131.3h0.55v0.55h-0.55zM293.6,137.5h0.55v0.55h-0.55zM292.0,115.9h0.55v0.55h-0.55zM286.4,117.2h0.55v0.55h-0.55zM299.4,123.1h0.55v0.55h-0.55zM302.7,121.6h0.55v0.55h-0.55zM299.6,113.5h0.55v0.55h-0.55zM284.9,120.1h0.55v0.55h-0.55zM291.0,115.8h0.55v0.55h-0.55zM296.8,126.2h0.55v0.55h-0.55zM295.2,118.8h0.55v0.55h-0.55zM292.2,117.5h0.55v0.55h-0.55zM295.1,120.9h0.55v0.55h-0.55zM297.0,137.0h0.55v0.55h-0.55zM290.5,126.6h0.55v0.55h-0.55zM294.6,126.6h0.55v0.55h-0.55zM295.2,113.2h0.55v0.55h-0.55zM287.9,123.6h0.55v0.55h-0.55zM302.5,129.6h0.55v0.55h-0.55z" fill="#cfcfcf"/>
<path d="M285,131 C286,127 293,125.5 298,126 C303,127 304,131 302,134 C299,137 289,137 286,135 Z" fill="#b0b0b0" filter="url(#b1)"/>
<path d="M303.08,130.60 L303.01,131.82 L302.06,132.94 L300.71,133.95 L298.97,134.82 L296.66,135.21 L294.30,134.97 L292.12,134.86 L289.93,134.56 L288.18,133.80 L286.15,133.06 L285.51,131.83 L285.54,130.60 L285.99,129.44 L286.99,128.39 L287.98,127.30 L289.62,126.36 L292.14,126.38 L294.30,126.03 L296.52,126.26 L298.77,126.55 L300.29,127.47 L301.42,128.45 L303.03,129.38 Z" fill="none" stroke="#777" stroke-width="0.45" stroke-linejoin="round"/>
<path d="M300.86,130.60 L300.97,131.53 L300.51,132.47 L299.13,133.13 L297.89,133.85 L296.13,134.16 L294.30,133.90 L292.62,133.88 L290.84,133.73 L289.54,133.09 L288.89,132.23 L287.46,131.56 L287.39,130.60 L287.84,129.70 L288.43,128.83 L289.76,128.23 L290.90,127.52 L292.65,127.37 L294.30,126.98 L296.16,126.96 L297.53,127.67 L298.91,128.19 L300.22,128.81 L301.19,129.63 Z" fill="none" stroke="#777" stroke-width="0.45" stroke-linejoin="round"/>
<path d="M298.77,130.60 L298.77,131.23 L298.44,131.85 L297.46,132.25 L296.50,132.59 L295.56,133.06 L294.30,133.11 L293.07,133.01 L291.93,132.75 L291.17,132.24 L290.24,131.83 L289.76,131.24 L289.58,130.60 L289.98,130.00 L290.49,129.45 L290.96,128.86 L291.88,128.41 L293.05,128.16 L294.30,127.98 L295.49,128.27 L296.62,128.50 L297.54,128.90 L298.38,129.37 L298.96,129.95 Z" fill="none" stroke="#777" stroke-width="0.45" stroke-linejoin="round"/>
<path d="M297.11,130.60 L296.71,130.94 L296.63,131.30 L296.26,131.62 L295.68,131.85 L294.98,131.93 L294.30,131.90 L293.63,131.91 L292.95,131.82 L292.34,131.62 L292.09,131.27 L291.80,130.95 L291.69,130.60 L291.90,130.26 L291.83,129.86 L292.46,129.64 L292.98,129.41 L293.56,129.16 L294.30,129.15 L294.97,129.30 L295.72,129.32 L296.27,129.57 L296.63,129.90 L296.85,130.24 Z" fill="none" stroke="#777" stroke-width="0.45" stroke-linejoin="round"/>
<path d="M289.6,112.6 C289.6,110 292.5,109.6 294,111 C295.5,109.4 298.8,109.8 298.8,112.8 C298.8,115.5 296.5,117.5 295.6,120 C295.2,121.6 295,123 294.6,124.6 C294,122.6 293.4,120.8 292.4,119 C290.8,117 289.6,115 289.6,112.6 Z" fill="none" stroke="#888" stroke-width="0.5"/>
<path d="M291.6,113.4 C292.6,112.5 293.6,112.8 294.2,113.6 C295,112.7 296.6,112.8 296.8,114.2 C296.5,115.8 295.3,117 294.4,118.4 C293.4,117 292,115.6 291.6,113.4 Z" fill="none" stroke="#999" stroke-width="0.4"/>
</g>
<clipPath id="cB11"><rect x="338.6" y="88.5" width="53.89999999999998" height="52.099999999999994"/></clipPath>
<g clip-path="url(#cB11)">
<path d="M351.9,117.2h0.55v0.55h-0.55zM347.4,126.6h0.55v0.55h-0.55zM350.9,118.3h0.55v0.55h-0.55zM349.8,121.3h0.55v0.55h-0.55zM350.4,135.8h0.55v0.55h-0.55zM348.3,136.2h0.55v0.55h-0.55zM355.7,126.8h0.55v0.55h-0.55zM353.6,128.8h0.55v0.55h-0.55zM345.0,121.6h0.55v0.55h-0.55zM347.0,116.0h0.55v0.55h-0.55zM345.2,129.5h0.55v0.55h-0.55zM358.1,118.9h0.55v0.55h-0.55zM357.4,132.6h0.55v0.55h-0.55zM345.0,123.3h0.55v0.55h-0.55zM353.9,132.8h0.55v0.55h-0.55zM344.0,119.5h0.55v0.55h-0.55zM353.0,126.4h0.55v0.55h-0.55zM344.5,129.0h0.55v0.55h-0.55zM354.0,128.2h0.55v0.55h-0.55zM358.6,117.1h0.55v0.55h-0.55zM345.6,127.3h0.55v0.55h-0.55zM356.3,126.7h0.55v0.55h-0.55zM348.5,131.5h0.55v0.55h-0.55zM353.4,133.8h0.55v0.55h-0.55zM355.6,123.8h0.55v0.55h-0.55zM353.6,116.3h0.55v0.55h-0.55zM347.1,130.9h0.55v0.55h-0.55zM345.7,121.9h0.55v0.55h-0.55zM352.3,120.1h0.55v0.55h-0.55zM348.7,135.6h0.55v0.55h-0.55zM348.9,122.6h0.55v0.55h-0.55zM358.9,119.5h0.55v0.55h-0.55zM351.5,115.4h0.55v0.55h-0.55zM357.3,132.4h0.55v0.55h-0.55zM346.3,127.2h0.55v0.55h-0.55zM346.3,132.8h0.55v0.55h-0.55zM350.9,118.4h0.55v0.55h-0.55zM359.5,123.6h0.55v0.55h-0.55zM352.1,136.1h0.55v0.55h-0.55zM347.2,122.8h0.55v0.55h-0.55zM358.3,120.3h0.55v0.55h-0.55zM357.4,127.1h0.55v0.55h-0.55zM359.2,126.2h0.55v0.55h-0.55zM358.0,123.7h0.55v0.55h-0.55zM346.0,120.0h0.55v0.55h-0.55z" fill="#cfcfcf"/>
<path d="M343,131 C344,127 350,125.5 354,126.5 C358,128 359,131 357,133 C354,136 346,136 344,134 Z" fill="#acacac" filter="url(#b1)"/>
<path d="M358.10,130.60 L357.70,131.67 L357.55,132.85 L355.97,133.59 L354.67,134.48 L352.66,134.63 L350.80,135.32 L348.78,134.96 L347.12,134.29 L345.78,133.51 L343.89,132.91 L343.02,131.81 L343.38,130.60 L343.89,129.53 L343.75,128.24 L345.11,127.30 L347.02,126.81 L348.95,126.60 L350.80,126.03 L352.91,126.05 L354.49,126.90 L356.07,127.55 L357.75,128.28 L358.42,129.42 Z" fill="none" stroke="#777" stroke-width="0.45" stroke-linejoin="round"/>
<path d="M357.00,130.60 L356.54,131.49 L355.65,132.22 L355.20,133.15 L353.85,133.66 L352.39,134.04 L350.80,133.89 L349.33,133.77 L347.68,133.73 L346.41,133.14 L346.05,132.19 L345.52,131.42 L345.29,130.60 L345.03,129.70 L345.94,128.97 L346.88,128.33 L347.88,127.67 L349.19,127.11 L350.80,127.23 L352.21,127.54 L353.56,127.83 L354.80,128.28 L355.72,128.95 L356.19,129.76 Z" fill="none" stroke="#777" stroke-width="0.45" stroke-linejoin="round"/>
<path d="M354.61,130.60 L354.63,131.19 L354.17,131.73 L353.55,132.19 L352.71,132.51 L351.86,132.90 L350.80,133.04 L349.77,132.82 L348.89,132.52 L347.96,132.24 L347.50,131.70 L347.09,131.18 L346.88,130.60 L346.64,129.95 L347.51,129.50 L347.93,128.94 L348.92,128.71 L349.77,128.38 L350.80,128.08 L351.91,128.21 L352.82,128.57 L353.57,128.99 L354.20,129.47 L354.75,129.99 Z" fill="none" stroke="#777" stroke-width="0.45" stroke-linejoin="round"/>
<path d="M353.08,130.60 L352.94,130.93 L352.65,131.22 L352.49,131.58 L352.03,131.84 L351.44,131.97 L350.80,131.93 L350.21,131.87 L349.72,131.69 L349.06,131.61 L348.83,131.26 L348.72,130.92 L348.34,130.60 L348.53,130.25 L348.74,129.91 L349.17,129.65 L349.70,129.50 L350.18,129.26 L350.80,129.22 L351.40,129.31 L352.02,129.37 L352.35,129.70 L352.93,129.89 L353.05,130.25 Z" fill="none" stroke="#777" stroke-width="0.45" stroke-linejoin="round"/>
<path d="M347.5,113 C347.5,110.5 353,110.5 354,113 C354.5,116 353,118 352.5,121 C352,123 351.5,124 351,124.5 C350,122 349,119 348.5,117 C347.8,115.5 347.5,114.5 347.5,113 Z" fill="none" stroke="#888" stroke-width="0.5"/>
<path d="M349,114 C349.5,112.5 352,112.5 352.5,114 C352.3,116 351.5,117 351,118 C350,117 349.2,115.5 349,114 Z" fill="none" stroke="#999" stroke-width="0.4"/>
<ellipse cx="350.80" cy="119.50" rx="1.60" ry="1.40" fill="none" stroke="#999" stroke-width="0.4" />
</g>
<clipPath id="cB21"><rect x="405.6" y="88.5" width="55.099999999999966" height="52.099999999999994"/></clipPath>
<g clip-path="url(#cB21)">
<path d="M411,129 C413,126 421,126 425,128 C427,130 423,132.5 418,132.5 C413,132.5 411,131 411,129 Z" fill="#e4e4e4" filter="url(#b1)"/>
<path d="M412.2,129.6h0.55v0.55h-0.55zM416.6,131.9h0.55v0.55h-0.55zM419.6,129.2h0.55v0.55h-0.55zM424.1,127.5h0.55v0.55h-0.55zM422.9,128.5h0.55v0.55h-0.55zM422.3,129.7h0.55v0.55h-0.55zM417.0,131.5h0.55v0.55h-0.55zM421.5,128.7h0.55v0.55h-0.55zM414.2,127.9h0.55v0.55h-0.55zM417.0,126.3h0.55v0.55h-0.55zM424.1,130.0h0.55v0.55h-0.55zM418.4,126.8h0.55v0.55h-0.55zM415.5,128.4h0.55v0.55h-0.55zM413.0,127.8h0.55v0.55h-0.55zM416.1,130.7h0.55v0.55h-0.55zM418.9,129.2h0.55v0.55h-0.55zM414.0,130.8h0.55v0.55h-0.55zM421.0,128.1h0.55v0.55h-0.55zM417.9,129.5h0.55v0.55h-0.55zM420.1,131.1h0.55v0.55h-0.55zM413.5,126.8h0.55v0.55h-0.55zM413.9,126.8h0.55v0.55h-0.55zM422.0,131.5h0.55v0.55h-0.55zM416.1,130.3h0.55v0.55h-0.55zM422.1,131.5h0.55v0.55h-0.55zM421.8,129.6h0.55v0.55h-0.55zM422.2,127.8h0.55v0.55h-0.55zM419.3,127.4h0.55v0.55h-0.55zM416.7,128.2h0.55v0.55h-0.55zM418.0,125.5h0.55v0.55h-0.55zM417.1,129.0h0.55v0.55h-0.55zM423.7,130.5h0.55v0.55h-0.55zM413.1,128.2h0.55v0.55h-0.55zM421.6,126.1h0.55v0.55h-0.55zM420.4,129.5h0.55v0.55h-0.55zM424.4,128.1h0.55v0.55h-0.55zM415.3,126.8h0.55v0.55h-0.55zM414.9,127.7h0.55v0.55h-0.55zM419.1,127.4h0.55v0.55h-0.55zM413.5,131.6h0.55v0.55h-0.55z" fill="#bbb"/>
</g>
<clipPath id="cB31"><rect x="463.1" y="88.5" width="54.69999999999993" height="52.099999999999994"/></clipPath>
<g clip-path="url(#cB31)">
<path d="M467,128 C470,125 478,125 482,127 C483,130 480,132 474,132 C470,132 467,131 467,128 Z" fill="#efefef" filter="url(#b1)"/>
</g>
<line x1="289.00" y1="88.50" x2="289.00" y2="140.60" stroke="#aaa" stroke-width="0.6" />
<line x1="280.60" y1="125.30" x2="336.60" y2="125.30" stroke="#aaa" stroke-width="0.6" />
<text x="304.30" y="117.00" font-size="6.3" font-weight="bold" textLength="12.00" lengthAdjust="spacingAndGlyphs" >46.0</text>
<text x="282.00" y="139.80" font-size="6.3" font-weight="bold" textLength="12.00" lengthAdjust="spacingAndGlyphs" >19.0</text>
<text x="305.00" y="139.80" font-size="6.3" font-weight="bold" textLength="12.00" lengthAdjust="spacingAndGlyphs" >22.2</text>
<line x1="347.40" y1="88.50" x2="347.40" y2="140.60" stroke="#aaa" stroke-width="0.6" />
<line x1="338.60" y1="125.30" x2="392.50" y2="125.30" stroke="#aaa" stroke-width="0.6" />
<text x="360.70" y="117.00" font-size="6.3" font-weight="bold" textLength="12.00" lengthAdjust="spacingAndGlyphs" >45.1</text>
<text x="340.00" y="139.80" font-size="6.3" font-weight="bold" textLength="12.00" lengthAdjust="spacingAndGlyphs" >18.8</text>
<text x="360.70" y="139.80" font-size="6.3" font-weight="bold" textLength="12.00" lengthAdjust="spacingAndGlyphs" >21.7</text>
<line x1="417.80" y1="88.50" x2="417.80" y2="126.00" stroke="#aaa" stroke-width="0.6" />
<line x1="405.60" y1="126.00" x2="460.70" y2="126.00" stroke="#aaa" stroke-width="0.6" />
<text x="431.60" y="117.00" font-size="6.3" font-weight="bold" textLength="12.00" lengthAdjust="spacingAndGlyphs" >17.1</text>
<text x="410.00" y="138.90" font-size="6.3" font-weight="bold" textLength="12.00" lengthAdjust="spacingAndGlyphs" >56.1</text>
<text x="433.00" y="138.90" font-size="6.3" font-weight="bold" textLength="12.00" lengthAdjust="spacingAndGlyphs" >19.7</text>
<line x1="476.00" y1="88.50" x2="476.00" y2="140.60" stroke="#aaa" stroke-width="0.6" />
<line x1="463.10" y1="125.30" x2="517.80" y2="125.30" stroke="#aaa" stroke-width="0.6" />
<line x1="480.00" y1="125.30" x2="480.00" y2="140.60" stroke="#bbb" stroke-width="0.5" />
<text x="489.90" y="117.00" font-size="6.3" font-weight="bold" textLength="12.00" lengthAdjust="spacingAndGlyphs" >31.6</text>
<text x="467.00" y="138.90" font-size="6.3" font-weight="bold" textLength="12.00" lengthAdjust="spacingAndGlyphs" >36.7</text>
<text x="487.60" y="138.90" font-size="6.3" font-weight="bold" textLength="12.00" lengthAdjust="spacingAndGlyphs" >21.2</text>
<clipPath id="cB02"><rect x="280.6" y="157.5" width="56.0" height="51.80000000000001"/></clipPath>
<g clip-path="url(#cB02)">
<path d="M289,180 C290,176 298,174 303,176 C306,180 306,188 304,193 C301,198 293,199 290,195 C288,190 288,185 289,180 Z" fill="#eee" filter="url(#b1)"/>
<path d="M304.15,186.50 L304.46,189.70 L302.58,191.76 L302.84,196.01 L300.82,197.73 L298.83,199.54 L296.50,197.79 L294.59,197.22 L292.95,195.74 L291.28,194.34 L290.40,191.79 L288.40,189.75 L288.77,186.50 L288.16,183.15 L289.12,180.11 L291.06,178.33 L292.83,176.97 L294.51,175.35 L296.50,175.91 L298.65,174.48 L300.19,176.91 L301.66,178.76 L304.10,179.92 L304.11,183.44 Z" fill="none" stroke="#888" stroke-width="0.45" stroke-linejoin="round"/>
<path d="M303.71,186.50 L303.52,189.32 L302.35,191.57 L300.80,192.95 L299.46,194.19 L298.07,195.31 L296.50,196.81 L294.82,195.93 L293.42,194.51 L292.46,192.55 L291.09,191.19 L290.40,188.95 L290.71,186.50 L290.62,184.14 L291.17,181.88 L292.01,179.76 L293.26,178.08 L294.79,176.94 L296.50,175.91 L298.09,177.58 L299.42,178.92 L300.86,179.95 L301.72,181.98 L302.89,183.93 Z" fill="none" stroke="#888" stroke-width="0.45" stroke-linejoin="round"/>
<path d="M301.45,186.50 L301.10,188.35 L300.38,189.86 L300.24,192.11 L299.07,193.17 L297.83,193.94 L296.50,194.35 L295.10,194.36 L294.30,192.22 L293.25,191.37 L292.22,190.21 L291.45,188.53 L291.51,186.50 L291.68,184.56 L292.39,182.94 L293.20,181.56 L293.78,179.42 L295.06,178.41 L296.50,179.03 L297.78,179.34 L298.76,180.63 L300.11,181.08 L300.50,183.03 L301.46,184.51 Z" fill="none" stroke="#888" stroke-width="0.45" stroke-linejoin="round"/>
<path d="M299.78,186.50 L299.83,187.84 L299.78,189.34 L298.84,190.01 L298.25,191.05 L297.36,191.30 L296.50,191.69 L295.52,191.99 L294.77,191.00 L293.76,190.61 L293.56,189.04 L293.19,187.83 L292.90,186.50 L293.15,185.15 L293.36,183.78 L294.17,183.01 L294.98,182.54 L295.62,181.57 L296.50,181.86 L297.34,181.79 L298.28,181.88 L299.07,182.64 L299.81,183.63 L300.00,185.09 Z" fill="none" stroke="#888" stroke-width="0.45" stroke-linejoin="round"/>
<path d="M298.49,186.50 L298.32,187.23 L298.19,187.96 L297.81,188.47 L297.38,188.80 L297.01,189.37 L296.50,189.54 L296.02,189.21 L295.46,189.20 L295.10,188.60 L294.88,187.90 L294.44,187.33 L294.77,186.50 L294.71,185.78 L294.88,185.09 L295.05,184.33 L295.58,184.11 L295.93,183.31 L296.50,183.85 L297.00,183.69 L297.47,183.97 L297.97,184.29 L298.09,185.12 L298.24,185.80 Z" fill="none" stroke="#888" stroke-width="0.45" stroke-linejoin="round"/>
</g>
<clipPath id="cB12"><rect x="338.6" y="157.5" width="53.89999999999998" height="51.80000000000001"/></clipPath>
<g clip-path="url(#cB12)">
<path d="M348,180 C349,176 357,173 362,175 C365,179 365,187 363,192 C360,197 352,197 349,194 C347,189 347,185 348,180 Z" fill="#eee" filter="url(#b1)"/>
<path d="M363.09,185.00 L363.90,188.05 L363.76,191.45 L361.28,192.81 L359.80,195.07 L357.63,195.76 L355.50,197.19 L353.20,196.62 L351.15,195.21 L348.77,194.10 L347.77,191.04 L347.61,187.86 L347.26,185.00 L347.02,181.92 L347.79,178.97 L349.91,177.43 L350.92,174.27 L353.33,174.04 L355.50,172.72 L357.48,175.03 L359.56,175.49 L360.79,177.85 L362.71,179.37 L363.21,182.21 Z" fill="none" stroke="#888" stroke-width="0.45" stroke-linejoin="round"/>
<path d="M362.13,185.00 L361.70,187.25 L362.00,190.08 L360.54,191.82 L358.82,192.78 L357.28,194.01 L355.50,193.59 L353.52,195.01 L351.70,193.90 L350.54,191.72 L350.05,189.26 L348.08,187.69 L349.09,185.00 L349.58,182.85 L349.65,180.43 L350.77,178.60 L351.75,176.21 L353.87,176.78 L355.50,176.69 L357.26,176.12 L358.55,177.85 L360.58,178.13 L361.45,180.35 L362.78,182.36 Z" fill="none" stroke="#888" stroke-width="0.45" stroke-linejoin="round"/>
<path d="M361.37,185.00 L360.27,186.73 L360.41,188.84 L359.24,190.06 L358.44,191.90 L356.73,191.19 L355.50,192.08 L353.97,192.75 L353.15,190.51 L351.94,189.82 L351.13,188.41 L350.56,186.79 L349.56,185.00 L350.78,183.29 L350.55,181.13 L351.98,180.23 L352.61,178.22 L354.25,178.69 L355.50,178.55 L357.04,177.24 L357.82,179.55 L359.38,179.76 L359.74,181.68 L360.71,183.11 Z" fill="none" stroke="#888" stroke-width="0.45" stroke-linejoin="round"/>
<path d="M359.02,185.00 L359.17,186.33 L358.84,187.61 L358.27,188.75 L357.17,188.91 L356.53,190.22 L355.50,189.66 L354.52,189.93 L353.51,189.66 L352.71,188.77 L352.28,187.51 L351.94,186.29 L352.13,185.00 L351.60,183.59 L352.23,182.45 L352.71,181.23 L353.44,180.17 L354.50,179.94 L355.50,180.26 L356.45,180.20 L357.19,181.03 L357.96,181.67 L358.98,182.28 L359.21,183.65 Z" fill="none" stroke="#888" stroke-width="0.45" stroke-linejoin="round"/>
<path d="M357.41,185.00 L357.52,185.73 L357.26,186.38 L357.09,187.15 L356.63,187.65 L356.02,187.62 L355.50,187.53 L355.00,187.51 L354.44,187.48 L354.08,186.93 L353.90,186.25 L353.36,185.77 L353.36,185.00 L353.57,184.30 L353.91,183.76 L354.08,183.08 L354.44,182.50 L355.02,182.57 L355.50,182.46 L355.98,182.59 L356.42,182.84 L357.02,182.95 L357.40,183.51 L357.58,184.24 Z" fill="none" stroke="#888" stroke-width="0.45" stroke-linejoin="round"/>
</g>
<clipPath id="cB22"><rect x="405.6" y="157.5" width="55.099999999999966" height="51.80000000000001"/></clipPath>
<g clip-path="url(#cB22)">
<path d="M410,184 C410,178 414,176 418,176 C423,177 425,182 425,190 C425,198 422,204 417,204 C412,204 410,196 410,190 Z" fill="#d4d4d4" filter="url(#b1)"/>
<path d="M424.54,190.00 L424.46,193.49 L423.78,196.79 L422.57,199.51 L421.13,201.79 L419.36,203.02 L417.50,203.52 L415.69,202.65 L414.04,201.24 L412.53,199.31 L411.09,196.94 L410.88,193.33 L410.41,190.00 L410.60,186.53 L411.23,183.21 L412.44,180.52 L413.77,177.89 L415.56,176.39 L417.50,176.41 L419.31,177.35 L421.24,177.87 L422.77,180.11 L423.71,183.27 L424.66,186.40 Z" fill="none" stroke="#555" stroke-width="0.5" stroke-linejoin="round"/>
<path d="M423.79,190.00 L423.61,193.07 L422.60,195.52 L421.66,197.80 L420.62,200.13 L419.03,200.72 L417.50,201.10 L416.00,200.48 L414.39,200.09 L413.33,197.82 L412.43,195.49 L411.58,192.97 L411.69,190.00 L411.48,186.98 L412.47,184.56 L413.01,181.59 L414.58,180.53 L415.99,179.42 L417.50,178.69 L419.11,178.74 L420.52,180.18 L421.87,181.80 L422.61,184.47 L423.56,186.96 Z" fill="none" stroke="#555" stroke-width="0.5" stroke-linejoin="round"/>
<path d="M422.27,190.00 L422.20,192.36 L421.88,194.75 L420.94,196.45 L419.85,197.63 L418.80,199.10 L417.50,198.84 L416.24,198.82 L415.08,197.85 L414.03,196.51 L413.40,194.44 L412.55,192.49 L412.43,190.00 L412.73,187.60 L413.33,185.48 L414.06,183.56 L415.10,182.21 L416.24,181.18 L417.50,180.80 L418.80,180.88 L419.86,182.34 L421.13,183.20 L421.93,185.21 L422.26,187.61 Z" fill="none" stroke="#555" stroke-width="0.5" stroke-linejoin="round"/>
<path d="M421.29,190.00 L420.99,191.76 L420.67,193.44 L420.05,194.77 L419.31,195.88 L418.50,196.98 L417.50,196.86 L416.50,196.96 L415.56,196.29 L414.86,194.96 L414.18,193.60 L413.82,191.85 L413.68,190.00 L413.82,188.15 L414.19,186.41 L414.93,185.17 L415.52,183.57 L416.55,183.37 L417.50,183.19 L418.45,183.35 L419.45,183.68 L420.29,184.76 L420.93,186.29 L421.01,188.24 Z" fill="none" stroke="#555" stroke-width="0.5" stroke-linejoin="round"/>
<path d="M420.10,190.00 L420.10,191.31 L419.69,192.37 L419.34,193.45 L418.82,194.30 L418.16,194.65 L417.50,194.83 L416.82,194.75 L416.23,194.11 L415.57,193.62 L415.23,192.46 L415.04,191.23 L414.87,190.00 L415.00,188.74 L415.19,187.50 L415.72,186.67 L416.20,185.79 L416.85,185.44 L417.50,185.02 L418.18,185.24 L418.85,185.61 L419.38,186.47 L419.78,187.53 L420.07,188.71 Z" fill="none" stroke="#555" stroke-width="0.5" stroke-linejoin="round"/>
<path d="M418.96,190.00 L418.94,190.72 L418.77,191.38 L418.55,191.96 L418.24,192.39 L417.87,192.56 L417.50,192.70 L417.11,192.71 L416.79,192.32 L416.46,191.94 L416.17,191.44 L416.07,190.72 L415.97,190.00 L416.09,189.29 L416.28,188.68 L416.46,188.04 L416.74,187.53 L417.12,187.31 L417.50,187.25 L417.90,187.21 L418.23,187.62 L418.60,187.94 L418.82,188.58 L418.89,189.30 Z" fill="none" stroke="#555" stroke-width="0.5" stroke-linejoin="round"/>
<path d="M429.58,177.00 L428.75,177.78 L427.39,178.38 L426.23,178.96 L424.85,179.50 L423.23,180.12 L421.00,180.26 L418.99,179.81 L417.05,179.57 L415.39,179.10 L413.48,178.63 L413.36,177.77 L413.30,177.00 L413.27,176.22 L414.76,175.65 L415.33,174.87 L417.30,174.60 L418.80,173.92 L421.00,174.04 L423.26,173.84 L424.94,174.44 L426.40,174.98 L428.61,175.35 L429.30,176.17 Z" fill="none" stroke="#888" stroke-width="0.45" stroke-linejoin="round"/>
<path d="M425.07,177.00 L425.79,177.48 L425.20,177.91 L424.47,178.30 L423.29,178.49 L422.23,178.72 L421.00,178.77 L419.87,178.58 L418.96,178.33 L417.68,178.24 L416.73,177.92 L416.98,177.40 L416.30,177.00 L416.64,176.56 L417.17,176.17 L417.68,175.75 L418.69,175.50 L419.76,175.27 L421.00,175.33 L422.16,175.37 L423.32,175.50 L424.02,175.87 L425.24,176.08 L424.98,176.60 Z" fill="none" stroke="#888" stroke-width="0.45" stroke-linejoin="round"/>
</g>
<rect x="291.00" y="167.40" width="23.60" height="14.90" fill="none" stroke="#999" stroke-width="0.6" />
<rect x="282.00" y="182.30" width="32.60" height="24.50" fill="none" stroke="#999" stroke-width="0.6" />
<line x1="295.60" y1="182.30" x2="295.60" y2="206.80" stroke="#999" stroke-width="0.6" />
<text x="301.00" y="174.00" font-size="6.3" font-weight="bold" textLength="12.00" lengthAdjust="spacingAndGlyphs" >37.6</text>
<text x="283.00" y="205.60" font-size="6.3" font-weight="bold" textLength="12.00" lengthAdjust="spacingAndGlyphs" >35.4</text>
<text x="302.00" y="205.60" font-size="6.3" font-weight="bold" textLength="12.00" lengthAdjust="spacingAndGlyphs" >25.6</text>
<rect x="348.40" y="167.50" width="23.70" height="14.20" fill="none" stroke="#999" stroke-width="0.6" />
<rect x="340.30" y="181.70" width="31.80" height="24.30" fill="none" stroke="#999" stroke-width="0.6" />
<line x1="353.70" y1="181.70" x2="353.70" y2="206.00" stroke="#999" stroke-width="0.6" />
<text x="359.60" y="174.20" font-size="6.3" font-weight="bold" textLength="12.00" lengthAdjust="spacingAndGlyphs" >36.2</text>
<text x="341.00" y="205.00" font-size="6.3" font-weight="bold" textLength="12.00" lengthAdjust="spacingAndGlyphs" >36.2</text>
<text x="359.60" y="205.00" font-size="6.3" font-weight="bold" textLength="12.00" lengthAdjust="spacingAndGlyphs" >26.3</text>
<rect x="411.40" y="165.00" width="20.00" height="15.00" fill="none" stroke="#999" stroke-width="0.6" />
<rect x="406.40" y="180.00" width="25.00" height="24.00" fill="none" stroke="#999" stroke-width="0.6" />
<line x1="419.70" y1="180.00" x2="419.70" y2="204.00" stroke="#999" stroke-width="0.6" />
<text x="413.90" y="170.90" font-size="6.3" font-weight="bold" textLength="12.00" lengthAdjust="spacingAndGlyphs" >35.3</text>
<text x="407.20" y="202.80" font-size="6.3" font-weight="bold" textLength="11.00" lengthAdjust="spacingAndGlyphs" >51.0</text>
<text x="421.40" y="202.80" font-size="6.3" font-weight="bold" textLength="8.40" lengthAdjust="spacingAndGlyphs" >9.4</text>
<rect x="469.70" y="165.40" width="22.50" height="14.60" fill="none" stroke="#999" stroke-width="0.6" />
<rect x="466.30" y="180.00" width="25.90" height="24.20" fill="none" stroke="#999" stroke-width="0.6" />
<line x1="478.40" y1="180.00" x2="478.40" y2="204.20" stroke="#999" stroke-width="0.6" />
<text x="477.00" y="171.40" font-size="6.3" font-weight="bold" textLength="12.00" lengthAdjust="spacingAndGlyphs" >53.6</text>
<text x="466.60" y="203.40" font-size="6.3" font-weight="bold" textLength="12.00" lengthAdjust="spacingAndGlyphs" >17.6</text>
<text x="483.00" y="203.40" font-size="6.3" font-weight="bold" textLength="8.40" lengthAdjust="spacingAndGlyphs" >7.4</text>
<rect x="280.60" y="22.80" width="56.00" height="51.90" fill="none" stroke="#000" stroke-width="1.4" />
<rect x="338.60" y="22.80" width="53.90" height="51.90" fill="none" stroke="#000" stroke-width="1.4" />
<rect x="405.60" y="22.80" width="55.10" height="51.90" fill="none" stroke="#000" stroke-width="1.4" />
<rect x="463.10" y="22.80" width="54.70" height="51.90" fill="none" stroke="#000" stroke-width="1.4" />
<rect x="280.60" y="88.50" width="56.00" height="52.10" fill="none" stroke="#000" stroke-width="1.4" />
<rect x="338.60" y="88.50" width="53.90" height="52.10" fill="none" stroke="#000" stroke-width="1.4" />
<rect x="405.60" y="88.50" width="55.10" height="52.10" fill="none" stroke="#000" stroke-width="1.4" />
<rect x="463.10" y="88.50" width="54.70" height="52.10" fill="none" stroke="#000" stroke-width="1.4" />
<rect x="280.60" y="157.50" width="56.00" height="51.80" fill="none" stroke="#000" stroke-width="1.4" />
<rect x="338.60" y="157.50" width="53.90" height="51.80" fill="none" stroke="#000" stroke-width="1.4" />
<rect x="405.60" y="157.50" width="55.10" height="51.80" fill="none" stroke="#000" stroke-width="1.4" />
<rect x="463.10" y="157.50" width="54.70" height="51.80" fill="none" stroke="#000" stroke-width="1.4" />
<text x="0.75" y="201.20" font-size="12.3" font-weight="bold" stroke="#000" stroke-width="0.37" textLength="7.60" lengthAdjust="spacingAndGlyphs" >C</text>
<text x="48.80" y="205.00" font-size="9" stroke="#000" stroke-width="0.32" textLength="27.50" lengthAdjust="spacingAndGlyphs" >0 Days</text>
<text x="177.20" y="205.00" font-size="9" stroke="#000" stroke-width="0.32" textLength="32.20" lengthAdjust="spacingAndGlyphs" >12 Days</text>
<line x1="3.50" y1="207.50" x2="122.50" y2="207.50" stroke="#000" stroke-width="0.9" />
<line x1="135.40" y1="207.50" x2="252.00" y2="207.50" stroke="#000" stroke-width="0.9" />
<line x1="18.40" y1="214.50" x2="18.40" y2="276.25" stroke="#000" stroke-width="0.8" />
<line x1="16.20" y1="215.00" x2="18.40" y2="215.00" stroke="#000" stroke-width="0.8" />
<line x1="16.20" y1="223.75" x2="18.40" y2="223.75" stroke="#000" stroke-width="0.8" />
<line x1="16.20" y1="232.50" x2="18.40" y2="232.50" stroke="#000" stroke-width="0.8" />
<line x1="16.20" y1="241.25" x2="18.40" y2="241.25" stroke="#000" stroke-width="0.8" />
<line x1="16.20" y1="250.00" x2="18.40" y2="250.00" stroke="#000" stroke-width="0.8" />
<line x1="16.20" y1="258.75" x2="18.40" y2="258.75" stroke="#000" stroke-width="0.8" />
<line x1="16.20" y1="267.50" x2="18.40" y2="267.50" stroke="#000" stroke-width="0.8" />
<line x1="16.20" y1="276.25" x2="18.40" y2="276.25" stroke="#000" stroke-width="0.8" />
<line x1="18.40" y1="276.25" x2="110.00" y2="276.25" stroke="#000" stroke-width="0.8" />
<text x="15.60" y="215.90" font-size="2.8" stroke="#333" stroke-width="0.10" text-anchor="end" textLength="7.60" lengthAdjust="spacingAndGlyphs" fill="#333" >70000</text>
<text x="15.60" y="224.65" font-size="2.8" stroke="#333" stroke-width="0.10" text-anchor="end" textLength="7.60" lengthAdjust="spacingAndGlyphs" fill="#333" >60000</text>
<text x="15.60" y="233.40" font-size="2.8" stroke="#333" stroke-width="0.10" text-anchor="end" textLength="7.60" lengthAdjust="spacingAndGlyphs" fill="#333" >50000</text>
<text x="15.60" y="242.15" font-size="2.8" stroke="#333" stroke-width="0.10" text-anchor="end" textLength="7.60" lengthAdjust="spacingAndGlyphs" fill="#333" >40000</text>
<text x="15.60" y="250.90" font-size="2.8" stroke="#333" stroke-width="0.10" text-anchor="end" textLength="7.60" lengthAdjust="spacingAndGlyphs" fill="#333" >30000</text>
<text x="15.60" y="259.65" font-size="2.8" stroke="#333" stroke-width="0.10" text-anchor="end" textLength="7.60" lengthAdjust="spacingAndGlyphs" fill="#333" >20000</text>
<text x="15.60" y="268.40" font-size="2.8" stroke="#333" stroke-width="0.10" text-anchor="end" textLength="7.60" lengthAdjust="spacingAndGlyphs" fill="#333" >10000</text>
<text x="4.80" y="245.60" font-size="4.0" stroke="#111" stroke-width="0.14" text-anchor="middle" textLength="36.00" lengthAdjust="spacingAndGlyphs" transform="rotate(-90 4.80 245.60)" fill="#111" >Number of Cells</text>
<rect x="23.00" y="229.50" width="5.30" height="46.75" fill="#000" stroke="#000" stroke-width="0.4"/>
<line x1="25.65" y1="229.50" x2="25.65" y2="225.20" stroke="#333" stroke-width="0.75"/>
<line x1="24.25" y1="225.20" x2="27.05" y2="225.20" stroke="#333" stroke-width="0.75"/>
<rect x="30.90" y="228.20" width="5.60" height="48.05" fill="#fff" stroke="#555" stroke-width="0.75"/>
<line x1="33.70" y1="228.00" x2="33.70" y2="220.00" stroke="#333" stroke-width="0.75"/>
<line x1="32.30" y1="220.00" x2="35.10" y2="220.00" stroke="#333" stroke-width="0.75"/>
<rect x="46.00" y="266.70" width="5.20" height="9.55" fill="#000" stroke="#000" stroke-width="0.4"/>
<line x1="48.60" y1="266.70" x2="48.60" y2="265.50" stroke="#333" stroke-width="0.75"/>
<line x1="47.20" y1="265.50" x2="50.00" y2="265.50" stroke="#333" stroke-width="0.75"/>
<rect x="54.10" y="264.70" width="5.80" height="11.55" fill="#fff" stroke="#555" stroke-width="0.75"/>
<line x1="57.00" y1="264.50" x2="57.00" y2="262.00" stroke="#333" stroke-width="0.75"/>
<line x1="55.60" y1="262.00" x2="58.40" y2="262.00" stroke="#333" stroke-width="0.75"/>
<rect x="68.70" y="265.00" width="5.50" height="11.25" fill="#000" stroke="#000" stroke-width="0.4"/>
<line x1="71.45" y1="265.00" x2="71.45" y2="264.20" stroke="#333" stroke-width="0.75"/>
<line x1="70.05" y1="264.20" x2="72.85" y2="264.20" stroke="#333" stroke-width="0.75"/>
<rect x="77.10" y="264.20" width="5.80" height="12.05" fill="#fff" stroke="#555" stroke-width="0.75"/>
<line x1="80.00" y1="264.00" x2="80.00" y2="263.00" stroke="#333" stroke-width="0.75"/>
<line x1="78.60" y1="263.00" x2="81.40" y2="263.00" stroke="#333" stroke-width="0.75"/>
<rect x="92.00" y="251.50" width="5.50" height="24.75" fill="#000" stroke="#000" stroke-width="0.4"/>
<line x1="94.75" y1="251.50" x2="94.75" y2="246.20" stroke="#333" stroke-width="0.75"/>
<line x1="93.35" y1="246.20" x2="96.15" y2="246.20" stroke="#333" stroke-width="0.75"/>
<rect x="100.10" y="247.20" width="5.80" height="29.05" fill="#fff" stroke="#555" stroke-width="0.75"/>
<line x1="103.00" y1="247.00" x2="103.00" y2="239.50" stroke="#333" stroke-width="0.75"/>
<line x1="101.60" y1="239.50" x2="104.40" y2="239.50" stroke="#333" stroke-width="0.75"/>
<rect x="51.60" y="215.70" width="4.60" height="4.60" fill="#000" stroke="#000" stroke-width="0.6"/>
<rect x="51.60" y="222.70" width="4.60" height="4.60" fill="#fff" stroke="#333" stroke-width="0.7"/>
<text x="59.00" y="219.80" font-size="4.6" stroke="#333" stroke-width="0.16" textLength="14.90" lengthAdjust="spacingAndGlyphs" fill="#333" style="font-style:italic" >Parp-2</text>
<text x="75.80" y="217.54" font-size="2.9899999999999998" fill="#555" style="font-style:italic" >+/+</text>
<text x="59.00" y="226.80" font-size="4.6" stroke="#333" stroke-width="0.16" textLength="14.90" lengthAdjust="spacingAndGlyphs" fill="#333" style="font-style:italic" >Parp-2</text>
<text x="75.80" y="224.54" font-size="2.9899999999999998" fill="#555" style="font-style:italic" >-/-</text>
<text x="28.80" y="282.50" font-size="3.6" stroke="#111" stroke-width="0.13" text-anchor="middle" textLength="7.50" lengthAdjust="spacingAndGlyphs" fill="#111" >LSK</text>
<text x="53.10" y="282.50" font-size="3.6" stroke="#111" stroke-width="0.13" text-anchor="middle" textLength="14.00" lengthAdjust="spacingAndGlyphs" fill="#111" >LT-HSC</text>
<text x="75.70" y="282.50" font-size="3.6" stroke="#111" stroke-width="0.13" text-anchor="middle" textLength="14.00" lengthAdjust="spacingAndGlyphs" fill="#111" >ST-HSC</text>
<text x="98.10" y="282.50" font-size="3.6" stroke="#111" stroke-width="0.13" text-anchor="middle" textLength="8.60" lengthAdjust="spacingAndGlyphs" fill="#111" >MPP</text>
<line x1="23.50" y1="296.50" x2="23.50" y2="351.50" stroke="#000" stroke-width="0.8" />
<line x1="21.30" y1="297.00" x2="23.50" y2="297.00" stroke="#000" stroke-width="0.8" />
<line x1="21.30" y1="304.79" x2="23.50" y2="304.79" stroke="#000" stroke-width="0.8" />
<line x1="21.30" y1="312.57" x2="23.50" y2="312.57" stroke="#000" stroke-width="0.8" />
<line x1="21.30" y1="320.36" x2="23.50" y2="320.36" stroke="#000" stroke-width="0.8" />
<line x1="21.30" y1="328.14" x2="23.50" y2="328.14" stroke="#000" stroke-width="0.8" />
<line x1="21.30" y1="335.93" x2="23.50" y2="335.93" stroke="#000" stroke-width="0.8" />
<line x1="21.30" y1="343.71" x2="23.50" y2="343.71" stroke="#000" stroke-width="0.8" />
<line x1="21.30" y1="351.50" x2="23.50" y2="351.50" stroke="#000" stroke-width="0.8" />
<line x1="23.50" y1="351.50" x2="105.00" y2="351.50" stroke="#000" stroke-width="0.8" />
<text x="20.60" y="297.90" font-size="2.8" stroke="#333" stroke-width="0.10" text-anchor="end" textLength="7.20" lengthAdjust="spacingAndGlyphs" fill="#333" >14000</text>
<text x="20.60" y="305.69" font-size="2.8" stroke="#333" stroke-width="0.10" text-anchor="end" textLength="7.20" lengthAdjust="spacingAndGlyphs" fill="#333" >12000</text>
<text x="20.60" y="313.47" font-size="2.8" stroke="#333" stroke-width="0.10" text-anchor="end" textLength="7.20" lengthAdjust="spacingAndGlyphs" fill="#333" >10000</text>
<text x="20.60" y="321.26" font-size="2.8" stroke="#333" stroke-width="0.10" text-anchor="end" textLength="7.20" lengthAdjust="spacingAndGlyphs" fill="#333" >8000</text>
<text x="20.60" y="329.04" font-size="2.8" stroke="#333" stroke-width="0.10" text-anchor="end" textLength="7.20" lengthAdjust="spacingAndGlyphs" fill="#333" >6000</text>
<text x="20.60" y="336.83" font-size="2.8" stroke="#333" stroke-width="0.10" text-anchor="end" textLength="7.20" lengthAdjust="spacingAndGlyphs" fill="#333" >4000</text>
<text x="20.60" y="344.61" font-size="2.8" stroke="#333" stroke-width="0.10" text-anchor="end" textLength="7.20" lengthAdjust="spacingAndGlyphs" fill="#333" >2000</text>
<text x="9.80" y="324.50" font-size="5.0" stroke="#111" stroke-width="0.18" text-anchor="middle" textLength="37.50" lengthAdjust="spacingAndGlyphs" transform="rotate(-90 9.80 324.50)" fill="#111" >Number of Cells</text>
<rect x="28.80" y="326.50" width="6.80" height="25.00" fill="#000" stroke="#000" stroke-width="0.4"/>
<line x1="32.20" y1="326.50" x2="32.20" y2="324.00" stroke="#333" stroke-width="0.75"/>
<line x1="30.80" y1="324.00" x2="33.60" y2="324.00" stroke="#333" stroke-width="0.75"/>
<rect x="38.60" y="321.40" width="6.50" height="30.10" fill="#fff" stroke="#555" stroke-width="0.75"/>
<line x1="41.85" y1="321.20" x2="41.85" y2="317.80" stroke="#333" stroke-width="0.75"/>
<line x1="40.45" y1="317.80" x2="43.25" y2="317.80" stroke="#333" stroke-width="0.75"/>
<rect x="55.80" y="314.60" width="6.70" height="36.90" fill="#000" stroke="#000" stroke-width="0.4"/>
<line x1="59.15" y1="314.60" x2="59.15" y2="311.00" stroke="#333" stroke-width="0.75"/>
<line x1="57.75" y1="311.00" x2="60.55" y2="311.00" stroke="#333" stroke-width="0.75"/>
<rect x="65.70" y="307.90" width="7.00" height="43.60" fill="#fff" stroke="#555" stroke-width="0.75"/>
<line x1="69.20" y1="307.70" x2="69.20" y2="302.30" stroke="#333" stroke-width="0.75"/>
<line x1="67.80" y1="302.30" x2="70.60" y2="302.30" stroke="#333" stroke-width="0.75"/>
<rect x="82.70" y="316.00" width="7.10" height="35.50" fill="#000" stroke="#000" stroke-width="0.4"/>
<line x1="86.25" y1="316.00" x2="86.25" y2="312.50" stroke="#333" stroke-width="0.75"/>
<line x1="84.85" y1="312.50" x2="87.65" y2="312.50" stroke="#333" stroke-width="0.75"/>
<rect x="93.10" y="308.90" width="7.20" height="42.60" fill="#fff" stroke="#555" stroke-width="0.75"/>
<line x1="96.70" y1="308.70" x2="96.70" y2="303.80" stroke="#333" stroke-width="0.75"/>
<line x1="95.30" y1="303.80" x2="98.10" y2="303.80" stroke="#333" stroke-width="0.75"/>
<rect x="31.60" y="297.90" width="4.60" height="4.80" fill="#000" stroke="#000" stroke-width="0.6"/>
<rect x="31.60" y="304.50" width="4.60" height="4.80" fill="#fff" stroke="#333" stroke-width="0.7"/>
<text x="39.10" y="302.20" font-size="4.8" stroke="#333" stroke-width="0.17" textLength="14.80" lengthAdjust="spacingAndGlyphs" fill="#333" style="font-style:italic" >Parp-2</text>
<text x="55.30" y="299.82" font-size="3.12" fill="#555" style="font-style:italic" >+/+</text>
<text x="39.10" y="308.80" font-size="4.8" stroke="#333" stroke-width="0.17" textLength="14.80" lengthAdjust="spacingAndGlyphs" fill="#333" style="font-style:italic" >Parp-2</text>
<text x="55.30" y="306.42" font-size="3.12" fill="#555" style="font-style:italic" >-/-</text>
<text x="34.60" y="357.20" font-size="3.8" stroke="#111" stroke-width="0.13" text-anchor="middle" textLength="6.50" lengthAdjust="spacingAndGlyphs" fill="#111" >CMP</text>
<text x="62.50" y="357.20" font-size="3.8" stroke="#111" stroke-width="0.13" text-anchor="middle" textLength="6.50" lengthAdjust="spacingAndGlyphs" fill="#111" >GMP</text>
<text x="90.80" y="357.20" font-size="3.8" stroke="#111" stroke-width="0.13" text-anchor="middle" textLength="6.50" lengthAdjust="spacingAndGlyphs" fill="#111" >MEP</text>
<line x1="148.75" y1="214.50" x2="148.75" y2="276.25" stroke="#000" stroke-width="0.8" />
<line x1="146.55" y1="215.00" x2="148.75" y2="215.00" stroke="#000" stroke-width="0.8" />
<line x1="146.55" y1="235.40" x2="148.75" y2="235.40" stroke="#000" stroke-width="0.8" />
<line x1="146.55" y1="255.80" x2="148.75" y2="255.80" stroke="#000" stroke-width="0.8" />
<line x1="146.55" y1="276.25" x2="148.75" y2="276.25" stroke="#000" stroke-width="0.8" />
<line x1="148.75" y1="276.25" x2="240.00" y2="276.25" stroke="#000" stroke-width="0.8" />
<text x="146.00" y="215.90" font-size="2.8" stroke="#333" stroke-width="0.10" text-anchor="end" textLength="5.00" lengthAdjust="spacingAndGlyphs" fill="#333" >3000</text>
<text x="146.00" y="236.30" font-size="2.8" stroke="#333" stroke-width="0.10" text-anchor="end" textLength="5.00" lengthAdjust="spacingAndGlyphs" fill="#333" >2000</text>
<text x="146.00" y="256.70" font-size="2.8" stroke="#333" stroke-width="0.10" text-anchor="end" textLength="5.00" lengthAdjust="spacingAndGlyphs" fill="#333" >1000</text>
<text x="137.40" y="245.00" font-size="3.9" stroke="#111" stroke-width="0.14" text-anchor="middle" textLength="37.50" lengthAdjust="spacingAndGlyphs" transform="rotate(-90 137.40 245.00)" fill="#111" >Number of Cells</text>
<rect x="153.00" y="233.30" width="5.80" height="42.95" fill="#000" stroke="#000" stroke-width="0.4"/>
<line x1="155.90" y1="233.30" x2="155.90" y2="220.50" stroke="#333" stroke-width="0.75"/>
<line x1="154.50" y1="220.50" x2="157.30" y2="220.50" stroke="#333" stroke-width="0.75"/>
<rect x="161.40" y="245.20" width="6.50" height="31.05" fill="#fff" stroke="#555" stroke-width="0.75"/>
<line x1="164.65" y1="245.00" x2="164.65" y2="236.30" stroke="#333" stroke-width="0.75"/>
<line x1="163.25" y1="236.30" x2="166.05" y2="236.30" stroke="#333" stroke-width="0.75"/>
<rect x="176.30" y="247.50" width="5.70" height="28.75" fill="#000" stroke="#000" stroke-width="0.4"/>
<line x1="179.15" y1="247.50" x2="179.15" y2="235.50" stroke="#333" stroke-width="0.75"/>
<line x1="177.75" y1="235.50" x2="180.55" y2="235.50" stroke="#333" stroke-width="0.75"/>
<rect x="184.60" y="260.20" width="6.10" height="16.05" fill="#fff" stroke="#555" stroke-width="0.75"/>
<line x1="187.65" y1="260.00" x2="187.65" y2="252.00" stroke="#333" stroke-width="0.75"/>
<line x1="186.25" y1="252.00" x2="189.05" y2="252.00" stroke="#333" stroke-width="0.75"/>
<rect x="199.50" y="270.50" width="5.50" height="5.75" fill="#000" stroke="#000" stroke-width="0.4"/>
<line x1="202.25" y1="270.50" x2="202.25" y2="268.80" stroke="#333" stroke-width="0.75"/>
<line x1="200.85" y1="268.80" x2="203.65" y2="268.80" stroke="#333" stroke-width="0.75"/>
<rect x="207.60" y="270.70" width="6.10" height="5.55" fill="#fff" stroke="#555" stroke-width="0.75"/>
<line x1="210.65" y1="270.50" x2="210.65" y2="268.00" stroke="#333" stroke-width="0.75"/>
<line x1="209.25" y1="268.00" x2="212.05" y2="268.00" stroke="#333" stroke-width="0.75"/>
<rect x="222.50" y="270.80" width="5.50" height="5.45" fill="#000" stroke="#000" stroke-width="0.4"/>
<line x1="225.25" y1="270.80" x2="225.25" y2="269.00" stroke="#333" stroke-width="0.75"/>
<line x1="223.85" y1="269.00" x2="226.65" y2="269.00" stroke="#333" stroke-width="0.75"/>
<rect x="230.60" y="272.20" width="6.30" height="4.05" fill="#fff" stroke="#555" stroke-width="0.75"/>
<line x1="233.75" y1="272.00" x2="233.75" y2="271.00" stroke="#333" stroke-width="0.75"/>
<line x1="232.35" y1="271.00" x2="235.15" y2="271.00" stroke="#333" stroke-width="0.75"/>
<rect x="213.80" y="221.40" width="4.40" height="4.70" fill="#000" stroke="#000" stroke-width="0.6"/>
<rect x="213.80" y="227.40" width="4.40" height="4.70" fill="#fff" stroke="#333" stroke-width="0.7"/>
<text x="221.10" y="225.60" font-size="4.6" stroke="#333" stroke-width="0.16" textLength="15.20" lengthAdjust="spacingAndGlyphs" fill="#333" style="font-style:italic" >Parp-2</text>
<text x="237.20" y="223.28" font-size="2.9899999999999998" fill="#555" style="font-style:italic" >+/+</text>
<text x="221.10" y="231.60" font-size="4.6" stroke="#333" stroke-width="0.16" textLength="15.20" lengthAdjust="spacingAndGlyphs" fill="#333" style="font-style:italic" >Parp-2</text>
<text x="237.20" y="229.28" font-size="2.9899999999999998" fill="#555" style="font-style:italic" >-/-</text>
<text x="158.00" y="281.50" font-size="3.2" stroke="#111" stroke-width="0.11" text-anchor="middle" textLength="6.00" lengthAdjust="spacingAndGlyphs" fill="#111" >LSK</text>
<text x="182.50" y="281.50" font-size="3.2" stroke="#111" stroke-width="0.11" text-anchor="middle" textLength="12.50" lengthAdjust="spacingAndGlyphs" fill="#111" >LT-HSC</text>
<text x="206.20" y="281.50" font-size="3.2" stroke="#111" stroke-width="0.11" text-anchor="middle" textLength="12.50" lengthAdjust="spacingAndGlyphs" fill="#111" >ST-HSC</text>
<text x="227.00" y="281.50" font-size="3.2" stroke="#111" stroke-width="0.11" text-anchor="middle" textLength="6.50" lengthAdjust="spacingAndGlyphs" fill="#111" >MPP</text>
<line x1="154.60" y1="296.50" x2="154.60" y2="351.50" stroke="#000" stroke-width="0.8" />
<line x1="152.40" y1="296.70" x2="154.60" y2="296.70" stroke="#000" stroke-width="0.8" />
<line x1="152.40" y1="304.53" x2="154.60" y2="304.53" stroke="#000" stroke-width="0.8" />
<line x1="152.40" y1="312.36" x2="154.60" y2="312.36" stroke="#000" stroke-width="0.8" />
<line x1="152.40" y1="320.19" x2="154.60" y2="320.19" stroke="#000" stroke-width="0.8" />
<line x1="152.40" y1="328.01" x2="154.60" y2="328.01" stroke="#000" stroke-width="0.8" />
<line x1="152.40" y1="335.84" x2="154.60" y2="335.84" stroke="#000" stroke-width="0.8" />
<line x1="152.40" y1="343.67" x2="154.60" y2="343.67" stroke="#000" stroke-width="0.8" />
<line x1="152.40" y1="351.50" x2="154.60" y2="351.50" stroke="#000" stroke-width="0.8" />
<line x1="154.60" y1="351.50" x2="237.90" y2="351.50" stroke="#000" stroke-width="0.8" />
<text x="151.80" y="297.60" font-size="2.8" stroke="#333" stroke-width="0.10" text-anchor="end" textLength="6.40" lengthAdjust="spacingAndGlyphs" fill="#333" >35000</text>
<text x="151.80" y="305.43" font-size="2.8" stroke="#333" stroke-width="0.10" text-anchor="end" textLength="6.40" lengthAdjust="spacingAndGlyphs" fill="#333" >30000</text>
<text x="151.80" y="313.26" font-size="2.8" stroke="#333" stroke-width="0.10" text-anchor="end" textLength="6.40" lengthAdjust="spacingAndGlyphs" fill="#333" >25000</text>
<text x="151.80" y="321.09" font-size="2.8" stroke="#333" stroke-width="0.10" text-anchor="end" textLength="6.40" lengthAdjust="spacingAndGlyphs" fill="#333" >20000</text>
<text x="151.80" y="328.91" font-size="2.8" stroke="#333" stroke-width="0.10" text-anchor="end" textLength="6.40" lengthAdjust="spacingAndGlyphs" fill="#333" >15000</text>
<text x="151.80" y="336.74" font-size="2.8" stroke="#333" stroke-width="0.10" text-anchor="end" textLength="6.40" lengthAdjust="spacingAndGlyphs" fill="#333" >10000</text>
<text x="151.80" y="344.57" font-size="2.8" stroke="#333" stroke-width="0.10" text-anchor="end" textLength="6.40" lengthAdjust="spacingAndGlyphs" fill="#333" >5000</text>
<text x="143.60" y="325.00" font-size="5.0" stroke="#111" stroke-width="0.18" text-anchor="middle" textLength="36.00" lengthAdjust="spacingAndGlyphs" transform="rotate(-90 143.60 325.00)" fill="#111" >Number of Cells</text>
<rect x="160.80" y="346.20" width="6.70" height="5.30" fill="#000" stroke="#000" stroke-width="0.4"/>
<line x1="164.15" y1="346.20" x2="164.15" y2="343.50" stroke="#333" stroke-width="0.75"/>
<line x1="162.75" y1="343.50" x2="165.55" y2="343.50" stroke="#333" stroke-width="0.75"/>
<rect x="170.50" y="350.60" width="7.10" height="0.90" fill="#fff" stroke="#555" stroke-width="0.75"/>
<line x1="174.05" y1="350.40" x2="174.05" y2="349.60" stroke="#333" stroke-width="0.75"/>
<line x1="172.65" y1="349.60" x2="175.45" y2="349.60" stroke="#333" stroke-width="0.75"/>
<text x="174.00" y="351.40" font-size="4.5" font-weight="bold" text-anchor="middle" fill="#222" >*</text>
<rect x="188.00" y="333.80" width="6.80" height="17.70" fill="#000" stroke="#000" stroke-width="0.4"/>
<line x1="191.40" y1="333.80" x2="191.40" y2="330.00" stroke="#333" stroke-width="0.75"/>
<line x1="190.00" y1="330.00" x2="192.80" y2="330.00" stroke="#333" stroke-width="0.75"/>
<rect x="197.60" y="346.00" width="7.50" height="5.50" fill="#fff" stroke="#555" stroke-width="0.75"/>
<line x1="201.35" y1="345.80" x2="201.35" y2="343.50" stroke="#333" stroke-width="0.75"/>
<line x1="199.95" y1="343.50" x2="202.75" y2="343.50" stroke="#333" stroke-width="0.75"/>
<text x="201.30" y="345.80" font-size="4.5" font-weight="bold" text-anchor="middle" fill="#222" >*</text>
<rect x="215.40" y="313.00" width="6.50" height="38.50" fill="#000" stroke="#000" stroke-width="0.4"/>
<line x1="218.65" y1="313.00" x2="218.65" y2="300.60" stroke="#333" stroke-width="0.75"/>
<line x1="217.25" y1="300.60" x2="220.05" y2="300.60" stroke="#333" stroke-width="0.75"/>
<rect x="225.50" y="347.90" width="6.40" height="3.60" fill="#fff" stroke="#555" stroke-width="0.75"/>
<line x1="228.70" y1="347.70" x2="228.70" y2="346.00" stroke="#333" stroke-width="0.75"/>
<line x1="227.30" y1="346.00" x2="230.10" y2="346.00" stroke="#333" stroke-width="0.75"/>
<text x="228.70" y="348.40" font-size="4.5" font-weight="bold" text-anchor="middle" fill="#222" >*</text>
<rect x="161.40" y="299.40" width="5.40" height="5.20" fill="#000" stroke="#000" stroke-width="0.6"/>
<rect x="161.40" y="306.20" width="5.40" height="5.20" fill="#fff" stroke="#333" stroke-width="0.7"/>
<text x="169.10" y="304.10" font-size="4.8" stroke="#333" stroke-width="0.17" textLength="14.70" lengthAdjust="spacingAndGlyphs" fill="#333" style="font-style:italic" >Parp-2</text>
<text x="185.30" y="301.48" font-size="3.12" fill="#555" style="font-style:italic" >+/+</text>
<text x="169.10" y="310.90" font-size="4.8" stroke="#333" stroke-width="0.17" textLength="14.70" lengthAdjust="spacingAndGlyphs" fill="#333" style="font-style:italic" >Parp-2</text>
<text x="185.30" y="308.28" font-size="3.12" fill="#555" style="font-style:italic" >-/-</text>
<text x="168.00" y="357.20" font-size="3.8" stroke="#111" stroke-width="0.13" text-anchor="middle" textLength="6.50" lengthAdjust="spacingAndGlyphs" fill="#111" >CMP</text>
<text x="195.80" y="357.20" font-size="3.8" stroke="#111" stroke-width="0.13" text-anchor="middle" textLength="6.50" lengthAdjust="spacingAndGlyphs" fill="#111" >GMP</text>
<text x="222.50" y="357.20" font-size="3.8" stroke="#111" stroke-width="0.13" text-anchor="middle" textLength="6.50" lengthAdjust="spacingAndGlyphs" fill="#111" >MEP</text>
<text x="256.50" y="257.90" font-size="12.3" font-weight="bold" stroke="#000" stroke-width="0.37" textLength="8.00" lengthAdjust="spacingAndGlyphs" >D</text>
<text x="318.20" y="259.20" font-size="8.6" stroke="#000" stroke-width="0.30" textLength="22.20" lengthAdjust="spacingAndGlyphs" >No IR</text>
<text x="441.50" y="261.60" font-size="8.6" stroke="#000" stroke-width="0.30" textLength="34.70" lengthAdjust="spacingAndGlyphs" >IR (2 Gy)</text>
<line x1="271.25" y1="278.50" x2="271.25" y2="352.50" stroke="#000" stroke-width="0.8" />
<line x1="269.05" y1="278.75" x2="271.25" y2="278.75" stroke="#000" stroke-width="0.8" />
<line x1="269.05" y1="293.50" x2="271.25" y2="293.50" stroke="#000" stroke-width="0.8" />
<line x1="269.05" y1="308.25" x2="271.25" y2="308.25" stroke="#000" stroke-width="0.8" />
<line x1="269.05" y1="323.00" x2="271.25" y2="323.00" stroke="#000" stroke-width="0.8" />
<line x1="269.05" y1="337.75" x2="271.25" y2="337.75" stroke="#000" stroke-width="0.8" />
<line x1="269.05" y1="352.50" x2="271.25" y2="352.50" stroke="#000" stroke-width="0.8" />
<line x1="271.25" y1="352.50" x2="373.75" y2="352.50" stroke="#000" stroke-width="0.8" />
<text x="268.60" y="279.65" font-size="2.8" stroke="#333" stroke-width="0.10" text-anchor="end" textLength="4.60" lengthAdjust="spacingAndGlyphs" fill="#333" >2500</text>
<text x="268.60" y="294.40" font-size="2.8" stroke="#333" stroke-width="0.10" text-anchor="end" textLength="4.60" lengthAdjust="spacingAndGlyphs" fill="#333" >2000</text>
<text x="268.60" y="309.15" font-size="2.8" stroke="#333" stroke-width="0.10" text-anchor="end" textLength="4.60" lengthAdjust="spacingAndGlyphs" fill="#333" >1500</text>
<text x="268.60" y="323.90" font-size="2.8" stroke="#333" stroke-width="0.10" text-anchor="end" textLength="4.60" lengthAdjust="spacingAndGlyphs" fill="#333" >1000</text>
<text x="268.60" y="338.65" font-size="2.8" stroke="#333" stroke-width="0.10" text-anchor="end" textLength="4.60" lengthAdjust="spacingAndGlyphs" fill="#333" >500</text>
<text x="261.30" y="314.00" font-size="3.4" stroke="#222" stroke-width="0.12" text-anchor="middle" textLength="55.00" lengthAdjust="spacingAndGlyphs" transform="rotate(-90 261.30 314.00)" fill="#222" >Number of Colonies per 10&#8309; cells</text>
<rect x="275.00" y="296.30" width="5.50" height="56.20" fill="#000" stroke="#000" stroke-width="0.4"/>
<line x1="277.75" y1="296.30" x2="277.75" y2="295.00" stroke="#333" stroke-width="0.75"/>
<line x1="276.35" y1="295.00" x2="279.15" y2="295.00" stroke="#333" stroke-width="0.75"/>
<rect x="283.10" y="309.00" width="5.60" height="43.50" fill="#fff" stroke="#555" stroke-width="0.75"/>
<line x1="285.90" y1="308.80" x2="285.90" y2="305.00" stroke="#333" stroke-width="0.75"/>
<line x1="284.50" y1="305.00" x2="287.30" y2="305.00" stroke="#333" stroke-width="0.75"/>
<text x="285.90" y="306.60" font-size="4.5" font-weight="bold" text-anchor="middle" fill="#222" >*</text>
<rect x="296.30" y="290.50" width="5.70" height="62.00" fill="#000" stroke="#000" stroke-width="0.4"/>
<line x1="299.15" y1="290.50" x2="299.15" y2="280.50" stroke="#333" stroke-width="0.75"/>
<line x1="297.75" y1="280.50" x2="300.55" y2="280.50" stroke="#333" stroke-width="0.75"/>
<rect x="303.90" y="321.50" width="5.50" height="31.00" fill="#fff" stroke="#555" stroke-width="0.75"/>
<line x1="306.65" y1="321.30" x2="306.65" y2="317.50" stroke="#333" stroke-width="0.75"/>
<line x1="305.25" y1="317.50" x2="308.05" y2="317.50" stroke="#333" stroke-width="0.75"/>
<text x="306.60" y="319.40" font-size="4.5" font-weight="bold" text-anchor="middle" fill="#222" >*</text>
<rect x="317.00" y="327.00" width="5.50" height="25.50" fill="#000" stroke="#000" stroke-width="0.4"/>
<line x1="319.75" y1="327.00" x2="319.75" y2="322.50" stroke="#333" stroke-width="0.75"/>
<line x1="318.35" y1="322.50" x2="321.15" y2="322.50" stroke="#333" stroke-width="0.75"/>
<rect x="324.60" y="334.00" width="5.80" height="18.50" fill="#fff" stroke="#555" stroke-width="0.75"/>
<line x1="327.50" y1="333.80" x2="327.50" y2="330.00" stroke="#333" stroke-width="0.75"/>
<line x1="326.10" y1="330.00" x2="328.90" y2="330.00" stroke="#333" stroke-width="0.75"/>
<text x="327.50" y="332.40" font-size="4.5" font-weight="bold" text-anchor="middle" fill="#222" >*</text>
<rect x="338.00" y="347.00" width="5.30" height="5.50" fill="#000" stroke="#000" stroke-width="0.4"/>
<line x1="340.65" y1="347.00" x2="340.65" y2="343.80" stroke="#333" stroke-width="0.75"/>
<line x1="339.25" y1="343.80" x2="342.05" y2="343.80" stroke="#333" stroke-width="0.75"/>
<text x="347.50" y="353.60" font-size="4.5" font-weight="bold" text-anchor="middle" fill="#222" >*</text>
<rect x="358.80" y="336.30" width="5.50" height="16.20" fill="#000" stroke="#000" stroke-width="0.4"/>
<line x1="361.55" y1="336.30" x2="361.55" y2="333.00" stroke="#333" stroke-width="0.75"/>
<line x1="360.15" y1="333.00" x2="362.95" y2="333.00" stroke="#333" stroke-width="0.75"/>
<rect x="366.40" y="350.70" width="5.50" height="1.80" fill="#fff" stroke="#555" stroke-width="0.75"/>
<line x1="369.15" y1="350.50" x2="369.15" y2="348.00" stroke="#333" stroke-width="0.75"/>
<line x1="367.75" y1="348.00" x2="370.55" y2="348.00" stroke="#333" stroke-width="0.75"/>
<text x="369.10" y="350.40" font-size="4.5" font-weight="bold" text-anchor="middle" fill="#222" >*</text>
<rect x="350.60" y="284.40" width="4.80" height="5.00" fill="#000" stroke="#000" stroke-width="0.6"/>
<rect x="350.60" y="290.80" width="4.80" height="5.00" fill="#fff" stroke="#333" stroke-width="0.7"/>
<text x="358.10" y="288.90" font-size="5.0" stroke="#333" stroke-width="0.18" textLength="14.70" lengthAdjust="spacingAndGlyphs" fill="#333" >Parp-2</text>
<text x="374.20" y="286.40" font-size="3.25" fill="#555" >+/+</text>
<text x="358.10" y="295.30" font-size="5.0" stroke="#333" stroke-width="0.18" textLength="14.70" lengthAdjust="spacingAndGlyphs" fill="#333" >Parp-2</text>
<text x="374.20" y="292.80" font-size="3.25" fill="#555" >-/-</text>
<text x="278.70" y="357.80" font-size="4.0" stroke="#111" stroke-width="0.14" text-anchor="middle" textLength="6.90" lengthAdjust="spacingAndGlyphs" fill="#111" >CFU-M</text>
<text x="300.00" y="357.80" font-size="4.0" stroke="#111" stroke-width="0.14" text-anchor="middle" textLength="8.00" lengthAdjust="spacingAndGlyphs" fill="#111" >CFU-G</text>
<text x="320.80" y="357.80" font-size="4.0" stroke="#111" stroke-width="0.14" text-anchor="middle" textLength="10.30" lengthAdjust="spacingAndGlyphs" fill="#111" >CFU-GM</text>
<text x="341.50" y="357.80" font-size="4.0" stroke="#111" stroke-width="0.14" text-anchor="middle" textLength="7.60" lengthAdjust="spacingAndGlyphs" fill="#111" >BFU-E</text>
<text x="364.20" y="357.80" font-size="4.0" stroke="#111" stroke-width="0.14" text-anchor="middle" textLength="13.90" lengthAdjust="spacingAndGlyphs" fill="#111" >CFU-GEMM</text>
<line x1="408.75" y1="283.50" x2="408.75" y2="353.30" stroke="#000" stroke-width="0.8" />
<line x1="406.55" y1="284.10" x2="408.75" y2="284.10" stroke="#000" stroke-width="0.8" />
<line x1="406.55" y1="293.99" x2="408.75" y2="293.99" stroke="#000" stroke-width="0.8" />
<line x1="406.55" y1="303.87" x2="408.75" y2="303.87" stroke="#000" stroke-width="0.8" />
<line x1="406.55" y1="313.76" x2="408.75" y2="313.76" stroke="#000" stroke-width="0.8" />
<line x1="406.55" y1="323.64" x2="408.75" y2="323.64" stroke="#000" stroke-width="0.8" />
<line x1="406.55" y1="333.53" x2="408.75" y2="333.53" stroke="#000" stroke-width="0.8" />
<line x1="406.55" y1="343.41" x2="408.75" y2="343.41" stroke="#000" stroke-width="0.8" />
<line x1="406.55" y1="353.30" x2="408.75" y2="353.30" stroke="#000" stroke-width="0.8" />
<line x1="408.75" y1="353.30" x2="515.00" y2="353.30" stroke="#000" stroke-width="0.8" />
<text x="406.30" y="285.10" font-size="3.0" font-weight="bold" stroke="#222" stroke-width="0.09" text-anchor="end" textLength="4.20" lengthAdjust="spacingAndGlyphs" fill="#222" >700</text>
<text x="406.30" y="294.99" font-size="3.0" font-weight="bold" stroke="#222" stroke-width="0.09" text-anchor="end" textLength="4.20" lengthAdjust="spacingAndGlyphs" fill="#222" >600</text>
<text x="406.30" y="304.87" font-size="3.0" font-weight="bold" stroke="#222" stroke-width="0.09" text-anchor="end" textLength="4.20" lengthAdjust="spacingAndGlyphs" fill="#222" >500</text>
<text x="406.30" y="314.76" font-size="3.0" font-weight="bold" stroke="#222" stroke-width="0.09" text-anchor="end" textLength="4.20" lengthAdjust="spacingAndGlyphs" fill="#222" >400</text>
<text x="406.30" y="324.64" font-size="3.0" font-weight="bold" stroke="#222" stroke-width="0.09" text-anchor="end" textLength="4.20" lengthAdjust="spacingAndGlyphs" fill="#222" >300</text>
<text x="406.30" y="334.53" font-size="3.0" font-weight="bold" stroke="#222" stroke-width="0.09" text-anchor="end" textLength="4.20" lengthAdjust="spacingAndGlyphs" fill="#222" >200</text>
<text x="406.30" y="344.41" font-size="3.0" font-weight="bold" stroke="#222" stroke-width="0.09" text-anchor="end" textLength="4.20" lengthAdjust="spacingAndGlyphs" fill="#222" >100</text>
<text x="399.20" y="319.00" font-size="3.4" stroke="#222" stroke-width="0.12" text-anchor="middle" textLength="55.00" lengthAdjust="spacingAndGlyphs" transform="rotate(-90 399.20 319.00)" fill="#222" >Number of Colonies per 10&#8309; cells</text>
<rect x="413.00" y="292.50" width="5.00" height="60.80" fill="#000" stroke="#000" stroke-width="0.4"/>
<line x1="415.50" y1="292.50" x2="415.50" y2="284.50" stroke="#333" stroke-width="0.75"/>
<line x1="414.10" y1="284.50" x2="416.90" y2="284.50" stroke="#333" stroke-width="0.75"/>
<rect x="420.60" y="329.50" width="5.80" height="23.80" fill="#fff" stroke="#555" stroke-width="0.75"/>
<line x1="423.50" y1="329.30" x2="423.50" y2="323.00" stroke="#333" stroke-width="0.75"/>
<line x1="422.10" y1="323.00" x2="424.90" y2="323.00" stroke="#333" stroke-width="0.75"/>
<text x="423.50" y="325.40" font-size="4.5" font-weight="bold" text-anchor="middle" fill="#222" >*</text>
<rect x="433.80" y="315.50" width="5.50" height="37.80" fill="#000" stroke="#000" stroke-width="0.4"/>
<line x1="436.55" y1="315.50" x2="436.55" y2="305.50" stroke="#333" stroke-width="0.75"/>
<line x1="435.15" y1="305.50" x2="437.95" y2="305.50" stroke="#333" stroke-width="0.75"/>
<rect x="442.10" y="335.70" width="5.80" height="17.60" fill="#fff" stroke="#555" stroke-width="0.75"/>
<line x1="445.00" y1="335.50" x2="445.00" y2="323.80" stroke="#333" stroke-width="0.75"/>
<line x1="443.60" y1="323.80" x2="446.40" y2="323.80" stroke="#333" stroke-width="0.75"/>
<text x="445.00" y="326.60" font-size="4.5" font-weight="bold" text-anchor="middle" fill="#222" >*</text>
<rect x="456.30" y="335.50" width="5.50" height="17.80" fill="#000" stroke="#000" stroke-width="0.4"/>
<line x1="459.05" y1="335.50" x2="459.05" y2="333.80" stroke="#333" stroke-width="0.75"/>
<line x1="457.65" y1="333.80" x2="460.45" y2="333.80" stroke="#333" stroke-width="0.75"/>
<rect x="464.40" y="348.20" width="5.50" height="5.10" fill="#fff" stroke="#555" stroke-width="0.75"/>
<line x1="467.15" y1="348.00" x2="467.15" y2="345.00" stroke="#333" stroke-width="0.75"/>
<line x1="465.75" y1="345.00" x2="468.55" y2="345.00" stroke="#333" stroke-width="0.75"/>
<text x="467.10" y="347.40" font-size="4.5" font-weight="bold" text-anchor="middle" fill="#222" >*</text>
<rect x="477.50" y="350.80" width="5.80" height="2.50" fill="#000" stroke="#000" stroke-width="0.4"/>
<line x1="480.40" y1="350.80" x2="480.40" y2="348.00" stroke="#333" stroke-width="0.75"/>
<line x1="479.00" y1="348.00" x2="481.80" y2="348.00" stroke="#333" stroke-width="0.75"/>
<text x="487.50" y="354.10" font-size="4.5" font-weight="bold" text-anchor="middle" fill="#222" >*</text>
<rect x="499.30" y="345.00" width="5.70" height="8.30" fill="#000" stroke="#000" stroke-width="0.4"/>
<line x1="502.15" y1="345.00" x2="502.15" y2="342.50" stroke="#333" stroke-width="0.75"/>
<line x1="500.75" y1="342.50" x2="503.55" y2="342.50" stroke="#333" stroke-width="0.75"/>
<text x="510.00" y="354.10" font-size="4.5" font-weight="bold" text-anchor="middle" fill="#222" >*</text>
<rect x="488.40" y="286.40" width="4.30" height="5.00" fill="#000" stroke="#000" stroke-width="0.6"/>
<rect x="488.40" y="293.30" width="4.30" height="5.00" fill="#fff" stroke="#333" stroke-width="0.7"/>
<text x="495.30" y="290.90" font-size="5.0" stroke="#333" stroke-width="0.18" textLength="14.60" lengthAdjust="spacingAndGlyphs" fill="#333" >Parp-2</text>
<text x="512.00" y="288.40" font-size="3.25" fill="#555" >+/+</text>
<text x="495.30" y="297.80" font-size="5.0" stroke="#333" stroke-width="0.18" textLength="14.60" lengthAdjust="spacingAndGlyphs" fill="#333" >Parp-2</text>
<text x="512.00" y="295.30" font-size="3.25" fill="#555" >-/-</text>
<text x="417.30" y="358.80" font-size="4.0" stroke="#111" stroke-width="0.14" text-anchor="middle" textLength="9.30" lengthAdjust="spacingAndGlyphs" fill="#111" >CFU-M</text>
<text x="441.50" y="358.80" font-size="4.0" stroke="#111" stroke-width="0.14" text-anchor="middle" textLength="9.00" lengthAdjust="spacingAndGlyphs" fill="#111" >CFU-G</text>
<text x="462.20" y="358.80" font-size="4.0" stroke="#111" stroke-width="0.14" text-anchor="middle" textLength="11.50" lengthAdjust="spacingAndGlyphs" fill="#111" >CFU-GM</text>
<text x="481.30" y="358.80" font-size="4.0" stroke="#111" stroke-width="0.14" text-anchor="middle" textLength="8.10" lengthAdjust="spacingAndGlyphs" fill="#111" >BFU-E</text>
<text x="508.40" y="358.80" font-size="4.0" stroke="#111" stroke-width="0.14" text-anchor="middle" textLength="18.50" lengthAdjust="spacingAndGlyphs" fill="#111" >CFU-GEMM</text>
</svg></body></html>
